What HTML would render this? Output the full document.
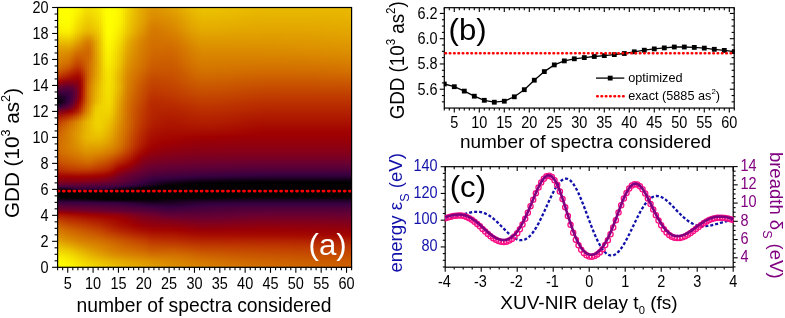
<!DOCTYPE html>
<html><head><meta charset="utf-8"><title>figure</title><style>html,body{margin:0;padding:0;background:#fff}svg{display:block;position:absolute;left:0;top:0}svg text{font-family:"Liberation Sans",Arial,sans-serif}#hm i{position:absolute;top:7px;width:2px;height:261px;display:block}#hm{position:absolute;left:0;top:0;width:352px;height:318px;overflow:hidden}</style></head><body>
<div id="hm"><i style="left:57px;background:linear-gradient(#ffff00 0%,#ffff00 1.9%,#ffff00 3.8%,#fefc00 5.7%,#fbf300 7.7%,#f7e600 9.6%,#f0d200 11.5%,#e9b900 13.4%,#e3a500 15.3%,#dd9400 17.2%,#da8700 19.2%,#d67d00 21.1%,#d26f00 23%,#ca5800 24.9%,#be3700 26.8%,#a40700 28.7%,#6f002d 30.7%,#49003c 32.6%,#1b0020 34.5%,#060007 36.4%,#390040 38.3%,#81001c 40.2%,#ad1700 42.1%,#bf3c00 44.1%,#c75000 46%,#cc5d00 47.9%,#cf6500 49.8%,#d16c00 51.7%,#d26e00 53.6%,#d06900 55.6%,#cc5e00 57.5%,#c85400 58.9%,#c74f00 59.5%,#c44900 60.1%,#c24200 60.6%,#bf3b00 61.2%,#bc3300 61.8%,#b92c00 62.4%,#b42400 62.9%,#af1a00 63.5%,#a80e00 64.1%,#a20400 64.7%,#9b0005 65.2%,#94000b 65.8%,#8c0012 66.4%,#83001a 67%,#760026 67.5%,#670033 68.1%,#520039 68.7%,#2f0037 69.3%,#0c000e 69.8%,#000000 70.4%,#000000 71%,#000000 71.6%,#000000 72.1%,#000000 72.7%,#080009 73.3%,#18001c 73.9%,#2b0033 74.4%,#3b0040 75%,#4a003b 75.6%,#570037 76.2%,#620034 76.7%,#6e002e 77.3%,#7d0020 77.9%,#8e0010 78.5%,#a20400 79%,#ad1700 79.6%,#b42300 80.2%,#ba2e00 80.8%,#bf3a00 81.3%,#c24300 81.8%,#cd6100 83.7%,#d57a00 85.6%,#db8c00 87.6%,#e1a000 89.5%,#e9ba00 91.4%,#f1d500 93.3%,#f8e900 95.2%,#fefb00 97.1%,#ffff00 99.1%,#ffff00 100%)"></i><i style="left:59px;background:linear-gradient(#ffff00 0%,#ffff00 1.9%,#ffff00 3.8%,#fefd00 5.7%,#fcf500 7.7%,#f8eb00 9.6%,#f1d500 11.5%,#e9bb00 13.4%,#e3a500 15.3%,#dd9400 17.2%,#d98700 19.2%,#d67c00 21.1%,#d26d00 23%,#c85300 24.9%,#bb2f00 26.8%,#9f0001 28.7%,#680032 30.7%,#44003d 32.6%,#1d0022 34.5%,#0c000f 36.4%,#3d003f 38.3%,#84001a 40.2%,#af1a00 42.1%,#c24200 44.1%,#c95600 46%,#ce6300 47.9%,#d16a00 49.8%,#d26f00 51.7%,#d37100 53.6%,#d16c00 55.6%,#cd6100 57.5%,#c95600 58.9%,#c75100 59.5%,#c54b00 60.1%,#c34500 60.6%,#c03e00 61.2%,#bd3600 61.8%,#ba2e00 62.4%,#b62700 62.9%,#b01c00 63.5%,#a91000 64.1%,#a20400 64.7%,#9b0004 65.2%,#94000b 65.8%,#8c0012 66.4%,#83001a 67%,#760026 67.5%,#670033 68.1%,#520039 68.7%,#2f0038 69.3%,#0c000e 69.8%,#000000 70.4%,#000000 71%,#000000 71.6%,#000000 72.1%,#000000 72.7%,#080009 73.3%,#18001c 73.9%,#2b0033 74.4%,#3b0040 75%,#4a003b 75.6%,#570037 76.2%,#620034 76.7%,#6d002e 77.3%,#7c0021 77.9%,#8d0011 78.5%,#a20300 79%,#ac1500 79.6%,#b32100 80.2%,#b92c00 80.8%,#be3600 81.3%,#c13f00 81.8%,#cc5d00 83.7%,#d47600 85.6%,#da8900 87.6%,#e09d00 89.5%,#e8b800 91.4%,#f0d300 93.3%,#f7e700 95.2%,#fdf900 97.1%,#fffe00 99.1%,#ffff00 100%)"></i><i style="left:61px;background:linear-gradient(#ffff00 0%,#ffff00 1.9%,#ffff00 3.8%,#fefd00 5.7%,#fcf700 7.7%,#f9ed00 9.6%,#f2d800 11.5%,#eabd00 13.4%,#e3a600 15.3%,#dd9300 17.2%,#d98500 19.2%,#d67a00 21.1%,#d06900 23%,#c64d00 24.9%,#b72900 26.8%,#980008 28.7%,#640034 30.7%,#42003e 32.6%,#210027 34.5%,#150019 36.4%,#43003d 38.3%,#880016 40.2%,#b11f00 42.1%,#c44900 44.1%,#cc5d00 46%,#d06a00 47.9%,#d26f00 49.8%,#d37200 51.7%,#d47400 53.6%,#d26f00 55.6%,#ce6300 57.5%,#ca5900 58.9%,#c85400 59.5%,#c64e00 60.1%,#c44700 60.6%,#c14000 61.2%,#be3900 61.8%,#bb3100 62.4%,#b72900 62.9%,#b01d00 63.5%,#a91100 64.1%,#a30500 64.7%,#9c0004 65.2%,#94000b 65.8%,#8d0012 66.4%,#83001a 67%,#760026 67.5%,#670033 68.1%,#520039 68.7%,#2f0038 69.3%,#0d000f 69.8%,#000000 70.4%,#000000 71%,#000000 71.6%,#000000 72.1%,#000000 72.7%,#070009 73.3%,#18001c 73.9%,#2b0032 74.4%,#3b0040 75%,#49003b 75.6%,#560038 76.2%,#610034 76.7%,#6d002f 77.3%,#7b0022 77.9%,#8c0012 78.5%,#a10100 79%,#ab1300 79.6%,#b11f00 80.2%,#b72900 80.8%,#bc3300 81.3%,#c03c00 81.8%,#ca5900 83.7%,#d47300 85.6%,#d98600 87.6%,#df9a00 89.5%,#e7b500 91.4%,#f0d100 93.3%,#f7e600 95.2%,#fcf700 97.1%,#fefd00 99.1%,#fffe00 100%)"></i><i style="left:63px;background:linear-gradient(#ffff00 0%,#ffff00 1.9%,#ffff00 3.8%,#fefd00 5.7%,#fcf700 7.7%,#f9ee00 9.6%,#f2d900 11.5%,#eabd00 13.4%,#e3a600 15.3%,#dd9200 17.2%,#d88400 19.2%,#d57700 21.1%,#cf6500 23%,#c44700 24.9%,#b42300 26.8%,#92000d 28.7%,#610034 30.7%,#40003e 32.6%,#27002e 34.5%,#1f0025 36.4%,#4b003b 38.3%,#8d0012 40.2%,#b42400 42.1%,#c75000 44.1%,#ce6400 46%,#d37000 47.9%,#d47400 49.8%,#d47600 51.7%,#d57700 53.6%,#d37200 55.6%,#cf6600 57.5%,#cb5b00 58.9%,#c95600 59.5%,#c75000 60.1%,#c54a00 60.6%,#c24300 61.2%,#bf3b00 61.8%,#bc3300 62.4%,#b82b00 62.9%,#b11f00 63.5%,#aa1200 64.1%,#a30600 64.7%,#9c0003 65.2%,#94000b 65.8%,#8d0012 66.4%,#83001a 67%,#760026 67.5%,#670033 68.1%,#520039 68.7%,#300039 69.3%,#0e0010 69.8%,#000000 70.4%,#000000 71%,#000000 71.6%,#000000 72.1%,#000000 72.7%,#070008 73.3%,#17001c 73.9%,#2b0032 74.4%,#3b0040 75%,#49003c 75.6%,#560038 76.2%,#610034 76.7%,#6c002f 77.3%,#7a0022 77.9%,#8b0013 78.5%,#a00000 79%,#a91100 79.6%,#b01d00 80.2%,#b62700 80.8%,#bb3000 81.3%,#be3900 81.8%,#c95600 83.7%,#d37000 85.6%,#d88300 87.6%,#de9700 89.5%,#e7b200 91.4%,#efcf00 93.3%,#f6e400 95.2%,#fcf500 97.1%,#fefc00 99.1%,#fefd00 100%)"></i><i style="left:65px;background:linear-gradient(#ffff00 0%,#ffff00 1.9%,#ffff00 3.8%,#fefd00 5.7%,#fdf800 7.7%,#faef00 9.6%,#f2d900 11.5%,#eabe00 13.4%,#e3a600 15.3%,#dc9100 17.2%,#d88100 19.2%,#d47400 21.1%,#cd6100 23%,#c24100 24.9%,#b11e00 26.8%,#8e0011 28.7%,#600035 30.7%,#40003e 32.6%,#2d0036 34.5%,#2b0032 36.4%,#530039 38.3%,#92000c 40.2%,#b72900 42.1%,#ca5700 44.1%,#d16b00 46%,#d47600 47.9%,#d57900 49.8%,#d57a00 51.7%,#d67a00 53.6%,#d47400 55.6%,#d06800 57.5%,#cc5d00 58.9%,#ca5800 59.5%,#c85200 60.1%,#c54c00 60.6%,#c34500 61.2%,#c03d00 61.8%,#bd3500 62.4%,#b92c00 62.9%,#b22000 63.5%,#aa1300 64.1%,#a30600 64.7%,#9d0003 65.2%,#95000a 65.8%,#8d0012 66.4%,#83001b 67%,#760026 67.5%,#670033 68.1%,#520039 68.7%,#31003a 69.3%,#0f0011 69.8%,#000000 70.4%,#000000 71%,#000000 71.6%,#000000 72.1%,#000000 72.7%,#070008 73.3%,#17001b 73.9%,#2b0032 74.4%,#3b0040 75%,#49003c 75.6%,#550038 76.2%,#600035 76.7%,#6c0030 77.3%,#7a0023 77.9%,#8a0014 78.5%,#9e0002 79%,#a80f00 79.6%,#af1b00 80.2%,#b52500 80.8%,#ba2e00 81.3%,#bd3600 81.8%,#c85300 83.7%,#d26d00 85.6%,#d78000 87.6%,#dd9400 89.5%,#e6b000 91.4%,#eecd00 93.3%,#f5e200 95.2%,#fbf200 97.1%,#fdfa00 99.1%,#fefc00 100%)"></i><i style="left:67px;background:linear-gradient(#ffff00 0%,#ffff00 1.9%,#ffff00 3.8%,#fefd00 5.7%,#fdf800 7.7%,#faef00 9.6%,#f2d900 11.5%,#eabe00 13.4%,#e3a600 15.3%,#dc8f00 17.2%,#d77f00 19.2%,#d37100 21.1%,#cb5c00 23%,#bf3b00 24.9%,#ae1900 26.8%,#8d0012 28.7%,#5f0035 30.7%,#40003e 32.6%,#35003e 34.5%,#370041 36.4%,#5c0036 38.3%,#980007 40.2%,#ba2f00 42.1%,#cd5f00 44.1%,#d37200 46%,#d67b00 47.9%,#d77e00 49.8%,#d77e00 51.7%,#d77d00 53.6%,#d57700 55.6%,#d16b00 57.5%,#cd5f00 58.9%,#cb5a00 59.5%,#c95400 60.1%,#c64e00 60.6%,#c44700 61.2%,#c13f00 61.8%,#be3700 62.4%,#b92d00 62.9%,#b32100 63.5%,#ab1300 64.1%,#a40700 64.7%,#9d0003 65.2%,#95000a 65.8%,#8d0011 66.4%,#83001b 67%,#760026 67.5%,#670033 68.1%,#520039 68.7%,#32003b 69.3%,#100013 69.8%,#000000 70.4%,#000000 71%,#000000 71.6%,#000000 72.1%,#000000 72.7%,#060008 73.3%,#17001b 73.9%,#2b0032 74.4%,#3b0040 75%,#48003c 75.6%,#550038 76.2%,#600035 76.7%,#6b0030 77.3%,#790024 77.9%,#880015 78.5%,#9c0003 79%,#a70d00 79.6%,#ae1900 80.2%,#b42300 80.8%,#b92c00 81.3%,#bc3300 81.8%,#c75000 83.7%,#d16a00 85.6%,#d77d00 87.6%,#dd9100 89.5%,#e5ad00 91.4%,#eeca00 93.3%,#f4df00 95.2%,#faef00 97.1%,#fdf900 99.1%,#fdfa00 100%)"></i><i style="left:69px;background:linear-gradient(#fffe00 0%,#fffe00 1.9%,#fefd00 3.8%,#fefb00 5.7%,#fcf500 7.7%,#f9ec00 9.6%,#f1d600 11.5%,#e9bb00 13.4%,#e2a300 15.3%,#db8b00 17.2%,#d67a00 19.2%,#d16b00 21.1%,#c95500 23%,#bd3400 24.9%,#ab1400 26.8%,#8d0011 28.7%,#610034 30.7%,#44003d 32.6%,#3e003f 34.5%,#45003d 36.4%,#680032 38.3%,#a00000 40.2%,#bd3600 42.1%,#d06800 44.1%,#d57800 46%,#d88100 47.9%,#d88300 49.8%,#d88200 51.7%,#d88100 53.6%,#d67a00 55.6%,#d26d00 57.5%,#cd6100 58.9%,#cb5c00 59.5%,#c95600 60.1%,#c75000 60.6%,#c44900 61.2%,#c14100 61.8%,#be3800 62.4%,#ba2f00 62.9%,#b32200 63.5%,#ab1400 64.1%,#a40700 64.7%,#9e0002 65.2%,#95000a 65.8%,#8d0011 66.4%,#83001b 67%,#760026 67.5%,#660033 68.1%,#530039 68.7%,#35003e 69.3%,#140018 69.8%,#010001 70.4%,#000000 71%,#000000 71.6%,#000000 72.1%,#000000 72.7%,#060007 73.3%,#16001b 73.9%,#2b0032 74.4%,#3b0040 75%,#48003c 75.6%,#540038 76.2%,#5f0035 76.7%,#6b0031 77.3%,#780024 77.9%,#870017 78.5%,#9b0005 79%,#a70c00 79.6%,#ad1700 80.2%,#b32100 80.8%,#b82a00 81.3%,#bb3100 81.8%,#c64e00 83.7%,#cf6700 85.6%,#d67a00 87.6%,#dc8e00 89.5%,#e4a900 91.4%,#edc700 93.3%,#f3dc00 95.2%,#f9ec00 97.1%,#fcf600 99.1%,#fdf800 100%)"></i><i style="left:71px;background:linear-gradient(#fefd00 0%,#fefb00 1.9%,#fdf900 3.8%,#fcf600 5.7%,#faef00 7.7%,#f6e500 9.6%,#f0d000 11.5%,#e7b500 13.4%,#e09d00 15.3%,#d98500 17.2%,#d37200 19.2%,#cd6100 21.1%,#c54b00 23%,#b92c00 24.9%,#a90f00 26.8%,#8d0011 28.7%,#660033 30.7%,#4d003a 32.6%,#4a003b 34.5%,#550038 36.4%,#760026 38.3%,#a50800 40.2%,#c03e00 42.1%,#d37100 44.1%,#d77f00 46%,#da8800 47.9%,#da8900 49.8%,#da8700 51.7%,#d98500 53.6%,#d67d00 55.6%,#d26f00 57.5%,#ce6300 58.9%,#cc5e00 59.5%,#ca5800 60.1%,#c85100 60.6%,#c54a00 61.2%,#c24300 61.8%,#bf3a00 62.4%,#bb3000 62.9%,#b42300 63.5%,#ac1500 64.1%,#a50800 64.7%,#9e0002 65.2%,#960009 65.8%,#8d0011 66.4%,#83001b 67%,#750027 67.5%,#660033 68.1%,#530039 68.7%,#390040 69.3%,#1c0021 69.8%,#020002 70.4%,#000000 71%,#000000 71.6%,#000000 72.1%,#000000 72.7%,#060007 73.3%,#16001a 73.9%,#2a0032 74.4%,#3b0040 75%,#48003c 75.6%,#540038 76.2%,#5f0035 76.7%,#6a0031 77.3%,#770025 77.9%,#860018 78.5%,#990006 79%,#a60a00 79.6%,#ac1600 80.2%,#b22000 80.8%,#b72900 81.3%,#bb2f00 81.8%,#c54b00 83.7%,#cf6400 85.6%,#d57800 87.6%,#db8b00 89.5%,#e3a600 91.4%,#ebc300 93.3%,#f2d900 95.2%,#f8e900 97.1%,#fbf400 99.1%,#fcf600 100%)"></i><i style="left:73px;background:linear-gradient(#fefb00 0%,#fdf800 1.9%,#fbf400 3.8%,#faef00 5.7%,#f7e800 7.7%,#f4dd00 9.6%,#edc800 11.5%,#e5ae00 13.4%,#de9500 15.3%,#d67d00 17.2%,#d06900 19.2%,#ca5800 21.1%,#c24200 23%,#b52600 24.9%,#a60b00 26.8%,#8e0010 28.7%,#6d002e 30.7%,#5b0036 32.6%,#5a0037 34.5%,#670033 36.4%,#870016 38.3%,#aa1200 40.2%,#c44800 42.1%,#d57900 44.1%,#d98600 46%,#dc8e00 47.9%,#dc8f00 49.8%,#db8d00 51.7%,#da8900 53.6%,#d77f00 55.6%,#d37100 57.5%,#cf6500 58.9%,#cd5f00 59.5%,#ca5900 60.1%,#c85300 60.6%,#c54c00 61.2%,#c34400 61.8%,#bf3b00 62.4%,#bb3100 62.9%,#b42400 63.5%,#ac1600 64.1%,#a50900 64.7%,#9f0001 65.2%,#960009 65.8%,#8d0011 66.4%,#83001b 67%,#750027 67.5%,#650033 68.1%,#530038 68.7%,#3e003f 69.3%,#24002b 69.8%,#030003 70.4%,#000000 71%,#000000 71.6%,#000000 72.1%,#000000 72.7%,#050006 73.3%,#16001a 73.9%,#2a0032 74.4%,#3b0040 75%,#47003c 75.6%,#530038 76.2%,#5e0035 76.7%,#6a0031 77.3%,#760026 77.9%,#850019 78.5%,#980007 79%,#a50900 79.6%,#ab1400 80.2%,#b11e00 80.8%,#b62700 81.3%,#ba2e00 81.8%,#c54900 83.7%,#ce6200 85.6%,#d47500 87.6%,#da8800 89.5%,#e2a200 91.4%,#eabf00 93.3%,#f1d500 95.2%,#f7e600 97.1%,#faf000 99.1%,#fbf300 100%)"></i><i style="left:75px;background:linear-gradient(#fdf800 0%,#fbf400 1.9%,#f9ee00 3.8%,#f7e800 5.7%,#f5e000 7.7%,#f1d500 9.6%,#eabf00 11.5%,#e3a600 13.4%,#dc8e00 15.3%,#d47600 17.2%,#cd6100 19.2%,#c75000 21.1%,#bf3b00 23%,#b22100 24.9%,#a50800 26.8%,#8f000f 28.7%,#760026 30.7%,#6a0031 32.6%,#6b0030 34.5%,#7c0021 36.4%,#9a0006 38.3%,#b01d00 40.2%,#c85200 42.1%,#d88200 44.1%,#db8d00 46%,#dd9400 47.9%,#de9500 49.8%,#dd9200 51.7%,#db8d00 53.6%,#d88200 55.6%,#d47400 57.5%,#cf6700 58.9%,#cd6100 59.5%,#cb5b00 60.1%,#c95400 60.6%,#c64d00 61.2%,#c34500 61.8%,#c03c00 62.4%,#bc3200 62.9%,#b52500 63.5%,#ad1700 64.1%,#a50900 64.7%,#9f0001 65.2%,#960009 65.8%,#8e0011 66.4%,#83001b 67%,#750027 67.5%,#640033 68.1%,#540038 68.7%,#42003e 69.3%,#2b0033 69.8%,#040005 70.4%,#000000 71%,#000000 71.6%,#000000 72.1%,#000000 72.7%,#040005 73.3%,#150019 73.9%,#2a0032 74.4%,#3b0040 75%,#47003c 75.6%,#530039 76.2%,#5e0035 76.7%,#690032 77.3%,#760027 77.9%,#84001a 78.5%,#970008 79%,#a40700 79.6%,#aa1300 80.2%,#b01c00 80.8%,#b52500 81.3%,#b92c00 81.8%,#c44700 83.7%,#cd5f00 85.6%,#d37300 87.6%,#d98500 89.5%,#e19f00 91.4%,#e9ba00 93.3%,#f0d100 95.2%,#f5e200 97.1%,#f9ed00 99.1%,#faf000 100%)"></i><i style="left:77px;background:linear-gradient(#fcf600 0%,#faf000 1.9%,#f8ea00 3.8%,#f5e200 5.7%,#f3da00 7.7%,#efce00 9.6%,#e8b800 11.5%,#e19f00 13.4%,#da8800 15.3%,#d37200 17.2%,#cc5e00 19.2%,#c64e00 21.1%,#bf3900 23%,#b11f00 24.9%,#a40700 26.8%,#91000e 28.7%,#81001c 30.7%,#7c0021 32.6%,#7f001e 34.5%,#92000d 36.4%,#a70c00 38.3%,#b72900 40.2%,#cc5e00 42.1%,#da8a00 44.1%,#de9400 46%,#df9a00 47.9%,#e09b00 49.8%,#de9700 51.7%,#dc9000 53.6%,#d98500 55.6%,#d47600 57.5%,#d06900 58.9%,#ce6300 59.5%,#cc5c00 60.1%,#c95600 60.6%,#c64e00 61.2%,#c34600 61.8%,#c03d00 62.4%,#bc3200 62.9%,#b52500 63.5%,#ad1700 64.1%,#a50900 64.7%,#9f0001 65.2%,#960009 65.8%,#8e0011 66.4%,#83001b 67%,#740028 67.5%,#640034 68.1%,#540038 68.7%,#43003d 69.3%,#2d0036 69.8%,#050006 70.4%,#000000 71%,#000000 71.6%,#000000 72.1%,#000000 72.7%,#040005 73.3%,#140018 73.9%,#2a0032 74.4%,#3b0040 75%,#47003c 75.6%,#520039 76.2%,#5d0035 76.7%,#680032 77.3%,#750027 77.9%,#83001b 78.5%,#95000a 79%,#a30600 79.6%,#aa1100 80.2%,#af1b00 80.8%,#b42400 81.3%,#b82a00 81.8%,#c34500 83.7%,#cc5d00 85.6%,#d37000 87.6%,#d88200 89.5%,#e09b00 91.4%,#e8b600 93.3%,#eecd00 95.2%,#f4df00 97.1%,#f8ea00 99.1%,#f9ed00 100%)"></i><i style="left:79px;background:linear-gradient(#fbf200 0%,#f9ec00 1.9%,#f6e400 3.8%,#f4dd00 5.7%,#f1d400 7.7%,#edc800 9.6%,#e6b100 11.5%,#df9800 13.4%,#d88200 15.3%,#d26f00 17.2%,#cc5f00 19.2%,#c74f00 21.1%,#c03c00 23%,#b42400 24.9%,#a80e00 26.8%,#9c0004 28.7%,#94000b 30.7%,#93000c 32.6%,#980007 34.5%,#a50900 36.4%,#b22000 38.3%,#bf3900 40.2%,#d16c00 42.1%,#dd9300 44.1%,#e09c00 46%,#e1a100 47.9%,#e1a200 49.8%,#e09c00 51.7%,#de9500 53.6%,#da8800 55.6%,#d57800 57.5%,#d16b00 58.9%,#cf6500 59.5%,#cc5e00 60.1%,#ca5700 60.6%,#c74f00 61.2%,#c44700 61.8%,#c03d00 62.4%,#bc3200 62.9%,#b52500 63.5%,#ad1700 64.1%,#a50900 64.7%,#9f0001 65.2%,#960009 65.8%,#8d0011 66.4%,#82001b 67%,#740028 67.5%,#630034 68.1%,#540038 68.7%,#43003d 69.3%,#2d0035 69.8%,#050006 70.4%,#000000 71%,#000000 71.6%,#000000 72.1%,#000000 72.7%,#030004 73.3%,#140017 73.9%,#2a0031 74.4%,#3a0040 75%,#46003c 75.6%,#520039 76.2%,#5d0036 76.7%,#680032 77.3%,#740028 77.9%,#82001c 78.5%,#94000b 79%,#a30400 79.6%,#a90f00 80.2%,#ae1900 80.8%,#b32200 81.3%,#b72900 81.8%,#c24300 83.7%,#cb5b00 85.6%,#d26e00 87.6%,#d78000 89.5%,#df9800 91.4%,#e7b300 93.3%,#edc900 95.2%,#f3db00 97.1%,#f7e700 99.1%,#f8ea00 100%)"></i><i style="left:81px;background:linear-gradient(#f9ec00 0%,#f7e600 1.9%,#f4df00 3.8%,#f2d700 5.7%,#efce00 7.7%,#ebc100 9.6%,#e3a800 11.5%,#dc8f00 13.4%,#d67c00 15.3%,#d16d00 17.2%,#cd6000 19.2%,#c85300 21.1%,#c34400 23%,#ba2f00 24.9%,#b11e00 26.8%,#aa1200 28.7%,#a90f00 30.7%,#aa1100 32.6%,#ac1500 34.5%,#b42300 36.4%,#be3700 38.3%,#c75000 40.2%,#d67b00 42.1%,#e09e00 44.1%,#e2a400 46%,#e3a700 47.9%,#e4a800 49.8%,#e2a200 51.7%,#df9900 53.6%,#db8c00 55.6%,#d67b00 57.5%,#d26d00 58.9%,#cf6700 59.5%,#cd6000 60.1%,#ca5800 60.6%,#c75000 61.2%,#c44700 61.8%,#c03d00 62.4%,#bc3200 62.9%,#b52500 63.5%,#ad1600 64.1%,#a50900 64.7%,#9f0001 65.2%,#960009 65.8%,#8d0011 66.4%,#82001b 67%,#730029 67.5%,#630034 68.1%,#530039 68.7%,#42003e 69.3%,#2d0035 69.8%,#060007 70.4%,#000000 71%,#000000 71.6%,#000000 72.1%,#000000 72.7%,#020003 73.3%,#120016 73.9%,#290030 74.4%,#3a0040 75%,#46003c 75.6%,#510039 76.2%,#5c0036 76.7%,#670033 77.3%,#720029 77.9%,#80001d 78.5%,#92000c 79%,#a20300 79.6%,#a80e00 80.2%,#ad1700 80.8%,#b22000 81.3%,#b62700 81.8%,#c14000 83.7%,#ca5800 85.6%,#d16c00 87.6%,#d77e00 89.5%,#de9600 91.4%,#e5af00 93.3%,#ecc500 95.2%,#f2d800 97.1%,#f6e400 99.1%,#f7e800 100%)"></i><i style="left:83px;background:linear-gradient(#f7e600 0%,#f5e000 1.9%,#f2d900 3.8%,#f0d200 5.7%,#edc800 7.7%,#e9bb00 9.6%,#e1a100 11.5%,#da8800 13.4%,#d57700 15.3%,#d16a00 17.2%,#ce6200 19.2%,#ca5900 21.1%,#c74f00 23%,#c14000 24.9%,#bc3200 26.8%,#b92d00 28.7%,#ba2e00 30.7%,#bb3000 32.6%,#bd3400 34.5%,#c13f00 36.4%,#c85300 38.3%,#d06900 40.2%,#da8a00 42.1%,#e3a800 44.1%,#e4ac00 46%,#e5ae00 47.9%,#e6af00 49.8%,#e3a800 51.7%,#e09d00 53.6%,#dc8f00 55.6%,#d77d00 57.5%,#d26f00 58.9%,#d06900 59.5%,#cd6100 60.1%,#ca5900 60.6%,#c75100 61.2%,#c44800 61.8%,#c03d00 62.4%,#bc3200 62.9%,#b52500 63.5%,#ac1600 64.1%,#a50800 64.7%,#9e0002 65.2%,#95000a 65.8%,#8c0012 66.4%,#81001c 67%,#730029 67.5%,#620034 68.1%,#530039 68.7%,#41003e 69.3%,#2c0034 69.8%,#070008 70.4%,#000000 71%,#000000 71.6%,#000000 72.1%,#000000 72.7%,#020002 73.3%,#110014 73.9%,#28002f 74.4%,#390040 75%,#46003d 75.6%,#510039 76.2%,#5b0036 76.7%,#650033 77.3%,#71002a 77.9%,#7f001e 78.5%,#91000e 79%,#a10100 79.6%,#a70c00 80.2%,#ac1600 80.8%,#b11e00 81.3%,#b52500 81.8%,#c03e00 83.7%,#c95600 85.6%,#d06a00 87.6%,#d67c00 89.5%,#dd9300 91.4%,#e4ab00 93.3%,#ebc100 95.2%,#f1d400 97.1%,#f5e100 99.1%,#f6e500 100%)"></i><i style="left:85px;background:linear-gradient(#f5e100 0%,#f3dc00 1.9%,#f1d500 3.8%,#efcd00 5.7%,#ecc400 7.7%,#e8b700 9.6%,#df9b00 11.5%,#d88200 13.4%,#d37300 15.3%,#d06900 17.2%,#cf6500 19.2%,#cd6000 21.1%,#cb5c00 23%,#c85300 24.9%,#c64c00 26.8%,#c64d00 28.7%,#c75100 30.7%,#c85300 32.6%,#c95600 34.5%,#cc5d00 36.4%,#d26f00 38.3%,#d77d00 40.2%,#df9900 42.1%,#e6b100 44.1%,#e7b300 46%,#e7b400 47.9%,#e7b500 49.8%,#e5ac00 51.7%,#e1a000 53.6%,#dd9100 55.6%,#d77f00 57.5%,#d37100 58.9%,#d16a00 59.5%,#ce6200 60.1%,#cb5a00 60.6%,#c85200 61.2%,#c44800 61.8%,#c03e00 62.4%,#bc3200 62.9%,#b42400 63.5%,#ac1500 64.1%,#a40800 64.7%,#9d0003 65.2%,#94000b 65.8%,#8c0013 66.4%,#81001d 67%,#72002a 67.5%,#620034 68.1%,#520039 68.7%,#41003e 69.3%,#2b0033 69.8%,#070008 70.4%,#000000 71%,#000000 71.6%,#000000 72.1%,#000000 72.7%,#010001 73.3%,#0f0012 73.9%,#27002e 74.4%,#390040 75%,#45003d 75.6%,#500039 76.2%,#5a0036 76.7%,#640033 77.3%,#70002b 77.9%,#7e001f 78.5%,#90000f 79%,#a00000 79.6%,#a60b00 80.2%,#ab1400 80.8%,#b01d00 81.3%,#b42300 81.8%,#c03c00 83.7%,#c85400 85.6%,#d06800 87.6%,#d67a00 89.5%,#dc9000 91.4%,#e3a700 93.3%,#eabd00 95.2%,#f0d100 97.1%,#f4df00 99.1%,#f5e200 100%)"></i><i style="left:87px;background:linear-gradient(#f5e000 0%,#f3da00 1.9%,#f0d300 3.8%,#eecb00 5.7%,#ebc200 7.7%,#e7b500 9.6%,#df9900 11.5%,#d77f00 13.4%,#d37100 15.3%,#d06800 17.2%,#d06800 19.2%,#d06800 21.1%,#d06800 23%,#ce6400 24.9%,#ce6200 26.8%,#cf6700 28.7%,#d26d00 30.7%,#d26f00 32.6%,#d37100 34.5%,#d47500 36.4%,#d88200 38.3%,#dc8f00 40.2%,#e2a500 42.1%,#e8b800 44.1%,#e8b900 46%,#e8b900 47.9%,#e8b800 49.8%,#e5af00 51.7%,#e1a100 53.6%,#dd9200 55.6%,#d78000 57.5%,#d37100 58.9%,#d16b00 59.5%,#ce6300 60.1%,#cb5b00 60.6%,#c85200 61.2%,#c44800 61.8%,#c03e00 62.4%,#bc3100 62.9%,#b42400 63.5%,#ac1500 64.1%,#a40700 64.7%,#9c0003 65.2%,#94000b 65.8%,#8b0013 66.4%,#80001d 67%,#71002a 67.5%,#610034 68.1%,#510039 68.7%,#40003e 69.3%,#2a0032 69.8%,#080009 70.4%,#000000 71%,#000000 71.6%,#000000 72.1%,#000000 72.7%,#000001 73.3%,#0e0010 73.9%,#26002d 74.4%,#380041 75%,#45003d 75.6%,#50003a 76.2%,#5a0037 76.7%,#640034 77.3%,#6f002c 77.9%,#7d0020 78.5%,#8e0010 79%,#9f0001 79.6%,#a50900 80.2%,#aa1200 80.8%,#af1b00 81.3%,#b32100 81.8%,#bf3900 83.7%,#c75100 85.6%,#cf6500 87.6%,#d57900 89.5%,#db8e00 91.4%,#e2a400 93.3%,#e9b900 95.2%,#efcd00 97.1%,#f3dc00 99.1%,#f5e000 100%)"></i><i style="left:89px;background:linear-gradient(#f5e000 0%,#f3db00 1.9%,#f1d400 3.8%,#eecc00 5.7%,#ecc300 7.7%,#e8b600 9.6%,#df9b00 11.5%,#d88300 13.4%,#d47600 15.3%,#d26e00 17.2%,#d26f00 19.2%,#d37200 21.1%,#d47400 23%,#d47300 24.9%,#d47300 26.8%,#d57900 28.7%,#d77f00 30.7%,#d88200 32.6%,#d88400 34.5%,#da8700 36.4%,#de9500 38.3%,#e19f00 40.2%,#e6b000 42.1%,#eabf00 44.1%,#eabf00 46%,#eabd00 47.9%,#e9bb00 49.8%,#e6b000 51.7%,#e1a100 53.6%,#dd9200 55.6%,#d77f00 57.5%,#d37100 58.9%,#d06a00 59.5%,#ce6200 60.1%,#cb5a00 60.6%,#c75100 61.2%,#c44700 61.8%,#c03d00 62.4%,#bb3100 62.9%,#b42300 63.5%,#ab1400 64.1%,#a40600 64.7%,#9c0004 65.2%,#93000c 65.8%,#8a0014 66.4%,#7f001e 67%,#71002b 67.5%,#610035 68.1%,#500039 68.7%,#3f003f 69.3%,#2a0032 69.8%,#080009 70.4%,#000000 71%,#000000 71.6%,#000000 72.1%,#000000 72.7%,#000000 73.3%,#0c000f 73.9%,#25002b 74.4%,#380041 75%,#44003d 75.6%,#4f003a 76.2%,#590037 76.7%,#630034 77.3%,#6e002d 77.9%,#7c0021 78.5%,#8d0011 79%,#9d0002 79.6%,#a40800 80.2%,#aa1100 80.8%,#ae1a00 81.3%,#b22000 81.8%,#be3700 83.7%,#c74f00 85.6%,#ce6400 87.6%,#d57700 89.5%,#db8b00 91.4%,#e1a100 93.3%,#e7b500 95.2%,#eeca00 97.1%,#f2d900 99.1%,#f4dd00 100%)"></i><i style="left:91px;background:linear-gradient(#f5e100 0%,#f3dc00 1.9%,#f1d600 3.8%,#efcf00 5.7%,#ecc600 7.7%,#e9ba00 9.6%,#e1a100 11.5%,#db8c00 13.4%,#d88100 15.3%,#d67b00 17.2%,#d67c00 19.2%,#d77e00 21.1%,#d78000 23%,#d88100 24.9%,#d88200 26.8%,#da8900 28.7%,#dc9000 30.7%,#dd9300 32.6%,#de9500 34.5%,#df9900 36.4%,#e3a700 38.3%,#e6b100 40.2%,#e9bc00 42.1%,#ecc600 44.1%,#ecc500 46%,#ebc100 47.9%,#eabd00 49.8%,#e6b100 51.7%,#e1a100 53.6%,#dd9100 55.6%,#d77e00 57.5%,#d26f00 58.9%,#d06700 59.5%,#cd6000 60.1%,#ca5800 60.6%,#c74f00 61.2%,#c34500 61.8%,#bf3b00 62.4%,#ba2f00 62.9%,#b32200 63.5%,#ab1300 64.1%,#a30500 64.7%,#9b0005 65.2%,#92000d 65.8%,#890015 66.4%,#7e001f 67%,#70002c 67.5%,#600035 68.1%,#4f003a 68.7%,#3e003f 69.3%,#290031 69.8%,#08000a 70.4%,#000000 71%,#000000 71.6%,#000000 72.1%,#000000 72.7%,#000000 73.3%,#0b000d 73.9%,#24002a 74.4%,#370041 75%,#44003d 75.6%,#4f003a 76.2%,#590037 76.7%,#630034 77.3%,#6d002e 77.9%,#7b0022 78.5%,#8c0012 79%,#9c0003 79.6%,#a40700 80.2%,#a91000 80.8%,#ae1800 81.3%,#b11e00 81.8%,#bd3500 83.7%,#c64d00 85.6%,#ce6200 87.6%,#d47500 89.5%,#da8900 91.4%,#e09d00 93.3%,#e6b200 95.2%,#edc800 97.1%,#f2d700 99.1%,#f3da00 100%)"></i><i style="left:93px;background:linear-gradient(#f6e300 0%,#f4df00 1.9%,#f2d900 3.8%,#f0d200 5.7%,#eeca00 7.7%,#eabe00 9.6%,#e4aa00 11.5%,#df9900 13.4%,#dc9100 15.3%,#db8c00 17.2%,#db8c00 19.2%,#db8c00 21.1%,#dc8e00 23%,#dc8f00 24.9%,#dc9100 26.8%,#df9800 28.7%,#e19f00 30.7%,#e2a200 32.6%,#e2a400 34.5%,#e4a800 36.4%,#e8b800 38.3%,#ebc100 40.2%,#edc700 42.1%,#eecc00 44.1%,#eeca00 46%,#ecc500 47.9%,#eabe00 49.8%,#e6b100 51.7%,#e1a100 53.6%,#dc9000 55.6%,#d67c00 57.5%,#d16c00 58.9%,#ce6400 59.5%,#cc5c00 60.1%,#c95400 60.6%,#c54c00 61.2%,#c24200 61.8%,#be3800 62.4%,#b92d00 62.9%,#b22000 63.5%,#aa1200 64.1%,#a20400 64.7%,#9a0006 65.2%,#91000e 65.8%,#880016 66.4%,#7d0020 67%,#6e002d 67.5%,#5e0035 68.1%,#4e003a 68.7%,#3e003f 69.3%,#290030 69.8%,#08000a 70.4%,#000000 71%,#000000 71.6%,#000000 72.1%,#000000 72.7%,#000000 73.3%,#0a000b 73.9%,#230029 74.4%,#370041 75%,#43003d 75.6%,#4e003a 76.2%,#580037 76.7%,#620034 77.3%,#6d002f 77.9%,#7a0023 78.5%,#8b0013 79%,#9b0004 79.6%,#a30600 80.2%,#a80f00 80.8%,#ad1700 81.3%,#b01d00 81.8%,#bc3300 83.7%,#c54b00 85.6%,#cd6000 87.6%,#d47400 89.5%,#d98700 91.4%,#df9a00 93.3%,#e5af00 95.2%,#ecc600 97.1%,#f1d400 99.1%,#f2d700 100%)"></i><i style="left:95px;background:linear-gradient(#f7e600 0%,#f5e200 1.9%,#f3dc00 3.8%,#f1d600 5.7%,#efce00 7.7%,#ecc400 9.6%,#e7b400 11.5%,#e3a800 13.4%,#e2a200 15.3%,#e09e00 17.2%,#e09d00 19.2%,#e09b00 21.1%,#e09c00 23%,#e09d00 24.9%,#e19f00 26.8%,#e3a500 28.7%,#e5ac00 30.7%,#e5af00 32.6%,#e6b100 34.5%,#e8b600 36.4%,#ecc500 38.3%,#eecd00 40.2%,#efcf00 42.1%,#efd000 44.1%,#efce00 46%,#edc800 47.9%,#eabf00 49.8%,#e6b200 51.7%,#e1a100 53.6%,#dc8e00 55.6%,#d57900 57.5%,#d06800 58.9%,#cd6100 59.5%,#ca5900 60.1%,#c75100 60.6%,#c44800 61.2%,#c13f00 61.8%,#bd3500 62.4%,#b82a00 62.9%,#b11e00 63.5%,#a91000 64.1%,#a20300 64.7%,#990007 65.2%,#90000f 65.8%,#870017 66.4%,#7c0021 67%,#6d002e 67.5%,#5d0035 68.1%,#4d003a 68.7%,#3d003f 69.3%,#280030 69.8%,#09000a 70.4%,#000000 71%,#000000 71.6%,#000000 72.1%,#000000 72.7%,#000000 73.3%,#08000a 73.9%,#220028 74.4%,#360040 75%,#43003d 75.6%,#4e003a 76.2%,#580037 76.7%,#620034 77.3%,#6c002f 77.9%,#790024 78.5%,#8a0014 79%,#9a0005 79.6%,#a30500 80.2%,#a80e00 80.8%,#ac1600 81.3%,#af1c00 81.8%,#bb3100 83.7%,#c44800 85.6%,#cc5e00 87.6%,#d37300 89.5%,#d98500 91.4%,#de9700 93.3%,#e4ac00 95.2%,#ecc300 97.1%,#f0d200 99.1%,#f1d500 100%)"></i><i style="left:97px;background:linear-gradient(#f7e800 0%,#f6e500 1.9%,#f5e000 3.8%,#f3da00 5.7%,#f0d300 7.7%,#eeca00 9.6%,#eabf00 11.5%,#e7b500 13.4%,#e6b100 15.3%,#e5ae00 17.2%,#e5ac00 19.2%,#e4aa00 21.1%,#e4a900 23%,#e4aa00 24.9%,#e5ac00 26.8%,#e6b200 28.7%,#e8b800 30.7%,#e9ba00 32.6%,#e9bc00 34.5%,#ebc000 36.4%,#eecd00 38.3%,#f0d200 40.2%,#f0d200 42.1%,#f0d200 44.1%,#efd000 46%,#edc900 47.9%,#ebc000 49.8%,#e6b200 51.7%,#e1a100 53.6%,#db8d00 55.6%,#d57700 57.5%,#cf6500 58.9%,#cc5d00 59.5%,#c95600 60.1%,#c64d00 60.6%,#c34500 61.2%,#c03c00 61.8%,#bc3200 62.4%,#b62800 62.9%,#b01c00 63.5%,#a80e00 64.1%,#a10200 64.7%,#970008 65.2%,#8e0010 65.8%,#850018 66.4%,#7a0022 67%,#6c002f 67.5%,#5c0036 68.1%,#4c003b 68.7%,#3c0040 69.3%,#28002f 69.8%,#09000a 70.4%,#000000 71%,#000000 71.6%,#000000 72.1%,#000000 72.7%,#000000 73.3%,#070008 73.9%,#210027 74.4%,#360040 75%,#42003e 75.6%,#4d003a 76.2%,#570037 76.7%,#610034 77.3%,#6b0030 77.9%,#770025 78.5%,#890015 79%,#990006 79.6%,#a20400 80.2%,#a70c00 80.8%,#ab1400 81.3%,#af1a00 81.8%,#ba2f00 83.7%,#c34600 85.6%,#cb5c00 87.6%,#d37100 89.5%,#d88200 91.4%,#dd9400 93.3%,#e4a800 95.2%,#ebc100 97.1%,#efcf00 99.1%,#f0d200 100%)"></i><i style="left:99px;background:linear-gradient(#f9ec00 0%,#f8e900 1.9%,#f6e500 3.8%,#f5e000 5.7%,#f3da00 7.7%,#f1d400 9.6%,#eecb00 11.5%,#ecc400 13.4%,#ebc100 15.3%,#eabe00 17.2%,#e9bb00 19.2%,#e8b900 21.1%,#e8b800 23%,#e8b800 24.9%,#e9b900 26.8%,#eabe00 28.7%,#ebc200 30.7%,#ecc400 32.6%,#ecc500 34.5%,#edc800 36.4%,#efd000 38.3%,#f0d200 40.2%,#f0d200 42.1%,#f0d100 44.1%,#efcf00 46%,#edc800 47.9%,#eabf00 49.8%,#e6b100 51.7%,#e1a000 53.6%,#db8b00 55.6%,#d47400 57.5%,#ce6200 58.9%,#cb5a00 59.5%,#c85200 60.1%,#c54a00 60.6%,#c24200 61.2%,#be3900 61.8%,#ba2f00 62.4%,#b52600 62.9%,#ae1a00 63.5%,#a70d00 64.1%,#a00000 64.7%,#960009 65.2%,#8d0011 65.8%,#84001a 66.4%,#790024 67%,#6a0031 67.5%,#5b0036 68.1%,#4c003b 68.7%,#3b0040 69.3%,#27002e 69.8%,#09000a 70.4%,#000000 71%,#000000 71.6%,#000000 72.1%,#000000 72.7%,#000000 73.3%,#060007 73.9%,#200026 74.4%,#35003f 75%,#42003e 75.6%,#4d003a 76.2%,#570037 76.7%,#600035 77.3%,#6a0031 77.9%,#760026 78.5%,#880016 79%,#980007 79.6%,#a10300 80.2%,#a60b00 80.8%,#aa1300 81.3%,#ae1800 81.8%,#b92c00 83.7%,#c24300 85.6%,#cb5a00 87.6%,#d26f00 89.5%,#d78000 91.4%,#dc9100 93.3%,#e3a500 95.2%,#eabe00 97.1%,#efcd00 99.1%,#efd000 100%)"></i><i style="left:101px;background:linear-gradient(#fbf200 0%,#faf000 1.9%,#f9ed00 3.8%,#f8e900 5.7%,#f6e500 7.7%,#f5e000 9.6%,#f3db00 11.5%,#f1d600 13.4%,#f0d300 15.3%,#f0d000 17.2%,#efcd00 19.2%,#eeca00 21.1%,#edc800 23%,#edc700 24.9%,#edc800 26.8%,#eeca00 28.7%,#efcd00 30.7%,#efce00 32.6%,#efce00 34.5%,#efcf00 36.4%,#f0d300 38.3%,#f0d200 40.2%,#f0d100 42.1%,#efcf00 44.1%,#eecc00 46%,#ecc500 47.9%,#e9bc00 49.8%,#e5ae00 51.7%,#e09d00 53.6%,#da8900 55.6%,#d37200 57.5%,#cc5f00 58.9%,#ca5700 59.5%,#c74f00 60.1%,#c44700 60.6%,#c13f00 61.2%,#bd3600 61.8%,#b92d00 62.4%,#b42300 62.9%,#ad1700 63.5%,#a60b00 64.1%,#9f0001 64.7%,#94000b 65.2%,#8b0013 65.8%,#82001b 66.4%,#770025 67%,#690032 67.5%,#5a0036 68.1%,#4b003b 68.7%,#3a0040 69.3%,#26002d 69.8%,#08000a 70.4%,#000000 71%,#000000 71.6%,#000000 72.1%,#000000 72.7%,#000000 73.3%,#050006 73.9%,#1f0025 74.4%,#35003f 75%,#41003e 75.6%,#4c003b 76.2%,#560038 76.7%,#5f0035 77.3%,#690032 77.9%,#750027 78.5%,#870017 79%,#970008 79.6%,#a10100 80.2%,#a50a00 80.8%,#a91100 81.3%,#ac1600 81.8%,#b72900 83.7%,#c14000 85.6%,#ca5700 87.6%,#d26d00 89.5%,#d77e00 91.4%,#dc8e00 93.3%,#e2a200 95.2%,#e9bb00 97.1%,#eecb00 99.1%,#efce00 100%)"></i><i style="left:103px;background:linear-gradient(#fdf800 0%,#fcf700 1.9%,#fcf500 3.8%,#fbf300 5.7%,#faf100 7.7%,#f9ee00 9.6%,#f8ea00 11.5%,#f7e600 13.4%,#f6e300 15.3%,#f5e000 17.2%,#f4dd00 19.2%,#f3da00 21.1%,#f2d800 23%,#f1d500 24.9%,#f1d400 26.8%,#f1d500 28.7%,#f1d600 30.7%,#f1d600 32.6%,#f1d500 34.5%,#f1d500 36.4%,#f1d500 38.3%,#f0d300 40.2%,#efd000 42.1%,#eecc00 44.1%,#edc800 46%,#ebc000 47.9%,#e8b700 49.8%,#e4aa00 51.7%,#df9a00 53.6%,#d98600 55.6%,#d26f00 57.5%,#cb5b00 58.9%,#c85400 59.5%,#c54c00 60.1%,#c24400 60.6%,#bf3b00 61.2%,#bc3200 61.8%,#b72a00 62.4%,#b22100 62.9%,#ac1500 63.5%,#a50900 64.1%,#9c0003 64.7%,#92000d 65.2%,#890015 65.8%,#80001d 66.4%,#750027 67%,#670033 67.5%,#590037 68.1%,#4a003b 68.7%,#390040 69.3%,#25002c 69.8%,#070009 70.4%,#000000 71%,#000000 71.6%,#000000 72.1%,#000000 72.7%,#000000 73.3%,#040005 73.9%,#1e0024 74.4%,#34003e 75%,#41003e 75.6%,#4c003b 76.2%,#550038 76.7%,#5e0035 77.3%,#680032 77.9%,#740028 78.5%,#860018 79%,#960009 79.6%,#a00000 80.2%,#a50800 80.8%,#a80f00 81.3%,#ab1400 81.8%,#b62600 83.7%,#c03c00 85.6%,#c95400 87.6%,#d16b00 89.5%,#d67c00 91.4%,#db8b00 93.3%,#e19f00 95.2%,#e8b800 97.1%,#edc900 99.1%,#eecc00 100%)"></i><i style="left:105px;background:linear-gradient(#fefd00 0%,#fefc00 1.9%,#fefc00 3.8%,#fefb00 5.7%,#fdfa00 7.7%,#fdf900 9.6%,#fcf600 11.5%,#fbf200 13.4%,#faef00 15.3%,#f9ec00 17.2%,#f8e900 19.2%,#f7e600 21.1%,#f6e300 23%,#f4df00 24.9%,#f4dd00 26.8%,#f4dd00 28.7%,#f4dd00 30.7%,#f3dc00 32.6%,#f3da00 34.5%,#f2d800 36.4%,#f1d600 38.3%,#f0d300 40.2%,#efce00 42.1%,#edc900 44.1%,#ebc300 46%,#e9bb00 47.9%,#e6b200 49.8%,#e3a600 51.7%,#de9600 53.6%,#d88200 55.6%,#d16b00 57.5%,#ca5700 58.9%,#c75000 59.5%,#c44800 60.1%,#c14000 60.6%,#be3700 61.2%,#ba2f00 61.8%,#b62700 62.4%,#b01d00 62.9%,#aa1200 63.5%,#a30600 64.1%,#9a0006 64.7%,#8f000f 65.2%,#860017 65.8%,#7d0020 66.4%,#72002a 67%,#650033 67.5%,#580037 68.1%,#49003c 68.7%,#380041 69.3%,#24002a 69.8%,#060008 70.4%,#000000 71%,#000000 71.6%,#000000 72.1%,#000000 72.7%,#000000 73.3%,#030004 73.9%,#1d0023 74.4%,#34003d 75%,#41003e 75.6%,#4b003b 76.2%,#540038 76.7%,#5d0036 77.3%,#670033 77.9%,#730029 78.5%,#850019 79%,#95000a 79.6%,#9f0001 80.2%,#a40700 80.8%,#a70d00 81.3%,#aa1200 81.8%,#b42300 83.7%,#be3800 85.6%,#c75100 87.6%,#d06800 89.5%,#d57900 91.4%,#da8800 93.3%,#e09c00 95.2%,#e7b500 97.1%,#edc700 99.1%,#eeca00 100%)"></i><i style="left:107px;background:linear-gradient(#ffff00 0%,#ffff00 1.9%,#ffff00 3.8%,#ffff00 5.7%,#ffff00 7.7%,#ffff00 9.6%,#fefc00 11.5%,#fdf800 13.4%,#fcf500 15.3%,#fbf200 17.2%,#faef00 19.2%,#f8eb00 21.1%,#f7e800 23%,#f6e400 24.9%,#f5e100 26.8%,#f5e000 28.7%,#f5e000 30.7%,#f4de00 32.6%,#f3dc00 34.5%,#f3da00 36.4%,#f1d600 38.3%,#f0d300 40.2%,#eecd00 42.1%,#ecc500 44.1%,#eabd00 46%,#e8b600 47.9%,#e5ad00 49.8%,#e1a100 51.7%,#dd9200 53.6%,#d77f00 55.6%,#cf6700 57.5%,#c85300 58.9%,#c54b00 59.5%,#c24300 60.1%,#bf3b00 60.6%,#bc3300 61.2%,#b82b00 61.8%,#b42300 62.4%,#ae1a00 62.9%,#a80f00 63.5%,#a20300 64.1%,#970008 64.7%,#8d0012 65.2%,#84001a 65.8%,#7b0022 66.4%,#70002c 67%,#640034 67.5%,#570038 68.1%,#48003c 68.7%,#370041 69.3%,#220029 69.8%,#060007 70.4%,#000000 71%,#000000 71.6%,#000000 72.1%,#000000 72.7%,#000000 73.3%,#030003 73.9%,#1d0022 74.4%,#33003d 75%,#40003e 75.6%,#4b003b 76.2%,#530038 76.7%,#5c0036 77.3%,#660033 77.9%,#72002a 78.5%,#84001a 79%,#94000b 79.6%,#9e0002 80.2%,#a30500 80.8%,#a60b00 81.3%,#a91000 81.8%,#b22100 83.7%,#bd3500 85.6%,#c64e00 87.6%,#cf6600 89.5%,#d57700 91.4%,#d98600 93.3%,#df9900 95.2%,#e7b300 97.1%,#ecc400 99.1%,#edc800 100%)"></i><i style="left:109px;background:linear-gradient(#ffff00 0%,#ffff00 1.9%,#ffff00 3.8%,#ffff00 5.7%,#fffe00 7.7%,#fffe00 9.6%,#fefb00 11.5%,#fcf700 13.4%,#fbf400 15.3%,#faf100 17.2%,#f9ed00 19.2%,#f8ea00 21.1%,#f7e600 23%,#f5e200 24.9%,#f5e000 26.8%,#f4df00 28.7%,#f4de00 30.7%,#f3dc00 32.6%,#f3da00 34.5%,#f2d800 36.4%,#f1d400 38.3%,#efd000 40.2%,#edc900 42.1%,#eabf00 44.1%,#e8b700 46%,#e6b000 47.9%,#e3a700 49.8%,#e09c00 51.7%,#dc8e00 53.6%,#d67b00 55.6%,#ce6200 57.5%,#c64e00 58.9%,#c34600 59.5%,#c03e00 60.1%,#bd3500 60.6%,#ba2e00 61.2%,#b52600 61.8%,#b11e00 62.4%,#ac1500 62.9%,#a60a00 63.5%,#9f0001 64.1%,#93000c 64.7%,#890015 65.2%,#80001d 65.8%,#780025 66.4%,#6e002e 67%,#620034 67.5%,#560038 68.1%,#47003c 68.7%,#35003f 69.3%,#200026 69.8%,#050006 70.4%,#000000 71%,#000000 71.6%,#000000 72.1%,#000000 72.7%,#000000 73.3%,#020003 73.9%,#1c0021 74.4%,#33003c 75%,#40003e 75.6%,#4a003b 76.2%,#530039 76.7%,#5c0036 77.3%,#650033 77.9%,#71002b 78.5%,#83001b 79%,#93000c 79.6%,#9c0003 80.2%,#a20400 80.8%,#a50a00 81.3%,#a80e00 81.8%,#b11e00 83.7%,#bc3100 85.6%,#c54c00 87.6%,#ce6300 89.5%,#d47500 91.4%,#d88300 93.3%,#de9700 95.2%,#e6b100 97.1%,#ebc200 99.1%,#ecc600 100%)"></i><i style="left:111px;background:linear-gradient(#fefd00 0%,#fefd00 1.9%,#fffe00 3.8%,#fefd00 5.7%,#fefc00 7.7%,#fefb00 9.6%,#fdf800 11.5%,#fbf300 13.4%,#faf000 15.3%,#f9ec00 17.2%,#f7e800 19.2%,#f6e500 21.1%,#f5e100 23%,#f3dc00 24.9%,#f3da00 26.8%,#f2d900 28.7%,#f2d800 30.7%,#f1d600 32.6%,#f0d300 34.5%,#efd000 36.4%,#eecc00 38.3%,#edc800 40.2%,#ebc000 42.1%,#e8b700 44.1%,#e6af00 46%,#e3a800 47.9%,#e1a000 49.8%,#de9600 51.7%,#da8a00 53.6%,#d57700 55.6%,#cc5d00 57.5%,#c44800 58.9%,#c13f00 59.5%,#be3700 60.1%,#ba2f00 60.6%,#b62700 61.2%,#b11f00 61.8%,#ad1700 62.4%,#a80e00 62.9%,#a20400 63.5%,#990006 64.1%,#8e0010 64.7%,#850019 65.2%,#7d0020 65.8%,#750027 66.4%,#6b0030 67%,#610035 67.5%,#540038 68.1%,#46003d 68.7%,#32003b 69.3%,#1b0020 69.8%,#030004 70.4%,#000000 71%,#000000 71.6%,#000000 72.1%,#000000 72.7%,#000000 73.3%,#020003 73.9%,#1b0020 74.4%,#32003c 75%,#3f003f 75.6%,#4a003b 76.2%,#530039 76.7%,#5b0036 77.3%,#640033 77.9%,#70002c 78.5%,#82001b 79%,#92000d 79.6%,#9b0005 80.2%,#a10200 80.8%,#a40800 81.3%,#a70c00 81.8%,#af1b00 83.7%,#ba2e00 85.6%,#c44900 87.6%,#cd6100 89.5%,#d37200 91.4%,#d88100 93.3%,#dd9400 95.2%,#e5af00 97.1%,#ebc000 99.1%,#ecc400 100%)"></i><i style="left:113px;background:linear-gradient(#fefc00 0%,#fefc00 1.9%,#fefc00 3.8%,#fefb00 5.7%,#fdf900 7.7%,#fcf700 9.6%,#fbf300 11.5%,#f9ee00 13.4%,#f8e900 15.3%,#f6e500 17.2%,#f5e100 19.2%,#f4de00 21.1%,#f3da00 23%,#f1d400 24.9%,#f0d100 26.8%,#efd000 28.7%,#efd000 30.7%,#efcd00 32.6%,#edc900 34.5%,#ecc400 36.4%,#ebc000 38.3%,#e9bc00 40.2%,#e7b500 42.1%,#e5ad00 44.1%,#e3a600 46%,#e19f00 47.9%,#de9700 49.8%,#dc8f00 51.7%,#d98400 53.6%,#d37200 55.6%,#c95700 57.5%,#c24100 58.9%,#be3800 59.5%,#bb2f00 60.1%,#b62700 60.6%,#b11f00 61.2%,#ad1700 61.8%,#a80f00 62.4%,#a30600 62.9%,#9d0003 63.5%,#92000c 64.1%,#880015 64.7%,#80001d 65.2%,#790024 65.8%,#71002b 66.4%,#680032 67%,#5f0035 67.5%,#530038 68.1%,#45003d 68.7%,#2f0037 69.3%,#16001a 69.8%,#020002 70.4%,#000000 71%,#000000 71.6%,#000000 72.1%,#000000 72.7%,#000000 73.3%,#020002 73.9%,#1b0020 74.4%,#32003b 75%,#3f003f 75.6%,#49003c 76.2%,#520039 76.7%,#5b0036 77.3%,#640034 77.9%,#6f002d 78.5%,#81001c 79%,#91000e 79.6%,#9a0006 80.2%,#a00100 80.8%,#a30600 81.3%,#a60a00 81.8%,#ad1800 83.7%,#b82b00 85.6%,#c34600 87.6%,#cc5f00 89.5%,#d37000 91.4%,#d77e00 93.3%,#dd9200 95.2%,#e5ad00 97.1%,#eabe00 99.1%,#ebc100 100%)"></i><i style="left:115px;background:linear-gradient(#fdf900 0%,#fdf900 1.9%,#fdf900 3.8%,#fdf800 5.7%,#fcf600 7.7%,#fbf200 9.6%,#f9ed00 11.5%,#f7e700 13.4%,#f5e200 15.3%,#f4dd00 17.2%,#f2d900 19.2%,#f1d600 21.1%,#f0d200 23%,#eeca00 24.9%,#ecc600 26.8%,#ecc600 28.7%,#ecc500 30.7%,#ebc200 32.6%,#e9bc00 34.5%,#e8b700 36.4%,#e7b300 38.3%,#e6af00 40.2%,#e4a900 42.1%,#e2a300 44.1%,#e09c00 46%,#de9600 47.9%,#dc8f00 49.8%,#da8800 51.7%,#d77e00 53.6%,#d16c00 55.6%,#c75000 57.5%,#bf3a00 58.9%,#bb3100 59.5%,#b72900 60.1%,#b22000 60.6%,#ad1800 61.2%,#a80f00 61.8%,#a40700 62.4%,#9e0002 62.9%,#95000a 63.5%,#8b0013 64.1%,#83001b 64.7%,#7b0022 65.2%,#740028 65.8%,#6e002e 66.4%,#660033 67%,#5d0036 67.5%,#520039 68.1%,#43003d 68.7%,#2b0033 69.3%,#110014 69.8%,#010001 70.4%,#000000 71%,#000000 71.6%,#000000 72.1%,#000000 72.7%,#000000 73.3%,#020002 73.9%,#1a001f 74.4%,#31003a 75%,#3e003f 75.6%,#49003c 76.2%,#520039 76.7%,#5a0036 77.3%,#630034 77.9%,#6e002e 78.5%,#80001d 79%,#90000f 79.6%,#980007 80.2%,#9f0001 80.8%,#a20400 81.3%,#a40800 81.8%,#ac1500 83.7%,#b62800 85.6%,#c24300 87.6%,#cc5c00 89.5%,#d26e00 91.4%,#d67c00 93.3%,#dc8f00 95.2%,#e4ab00 97.1%,#e9bb00 99.1%,#eabe00 100%)"></i><i style="left:117px;background:linear-gradient(#fcf700 0%,#fcf700 1.9%,#fcf700 3.8%,#fcf500 5.7%,#fbf200 7.7%,#f9ed00 9.6%,#f7e700 11.5%,#f5e100 13.4%,#f3da00 15.3%,#f1d500 17.2%,#f0d000 19.2%,#efcd00 21.1%,#edc900 23%,#eac000 24.9%,#e9bb00 26.8%,#e9bb00 28.7%,#e9bb00 30.7%,#e8b700 32.6%,#e6b100 34.5%,#e4ab00 36.4%,#e3a700 38.3%,#e2a300 40.2%,#e09e00 42.1%,#df9900 44.1%,#dd9300 46%,#db8d00 47.9%,#d98700 49.8%,#d88100 51.7%,#d57800 53.6%,#cf6600 55.6%,#c54a00 57.5%,#bd3300 58.9%,#b82b00 59.5%,#b32200 60.1%,#ae1a00 60.6%,#aa1100 61.2%,#a50800 61.8%,#a00000 62.4%,#970008 62.9%,#8e0010 63.5%,#860018 64.1%,#7d001f 64.7%,#760026 65.2%,#70002b 65.8%,#6a0031 66.4%,#630034 67%,#5b0036 67.5%,#510039 68.1%,#42003e 68.7%,#28002f 69.3%,#0d0010 69.8%,#000000 70.4%,#000000 71%,#000000 71.6%,#000000 72.1%,#000000 72.7%,#000000 73.3%,#020002 73.9%,#1a001f 74.4%,#31003a 75%,#3e003f 75.6%,#48003c 76.2%,#510039 76.7%,#5a0037 77.3%,#620034 77.9%,#6d002f 78.5%,#7f001e 79%,#8f0010 79.6%,#970008 80.2%,#9d0002 80.8%,#a10300 81.3%,#a30600 81.8%,#aa1300 83.7%,#b52600 85.6%,#c14000 87.6%,#cb5a00 89.5%,#d16c00 91.4%,#d67a00 93.3%,#db8d00 95.2%,#e4a900 97.1%,#e9b900 99.1%,#e9bc00 100%)"></i><i style="left:119px;background:linear-gradient(#fbf300 0%,#fbf300 1.9%,#fbf200 3.8%,#faf100 5.7%,#f9ec00 7.7%,#f7e700 9.6%,#f5e100 11.5%,#f2d900 13.4%,#f0d300 15.3%,#eecc00 17.2%,#edc700 19.2%,#ecc400 21.1%,#eabf00 23%,#e8b600 24.9%,#e6b100 26.8%,#e6b100 28.7%,#e6b100 30.7%,#e5ad00 32.6%,#e3a600 34.5%,#e1a000 36.4%,#e09c00 38.3%,#df9800 40.2%,#dd9400 42.1%,#dc9000 44.1%,#db8a00 46%,#d98500 47.9%,#d77f00 49.8%,#d57a00 51.7%,#d37200 53.6%,#cc5e00 55.6%,#c24300 57.5%,#ba2e00 58.9%,#b52600 59.5%,#b01d00 60.1%,#ab1400 60.6%,#a70c00 61.2%,#a20300 61.8%,#9b0005 62.4%,#92000d 62.9%,#890015 63.5%,#81001c 64.1%,#790023 64.7%,#72002a 65.2%,#6d002f 65.8%,#670033 66.4%,#610034 67%,#590037 67.5%,#4f003a 68.1%,#40003e 68.7%,#25002c 69.3%,#0b000d 69.8%,#000000 70.4%,#000000 71%,#000000 71.6%,#000000 72.1%,#000000 72.7%,#000000 73.3%,#020002 73.9%,#19001e 74.4%,#300039 75%,#3d003f 75.6%,#47003c 76.2%,#510039 76.7%,#590037 77.3%,#610034 77.9%,#6b0030 78.5%,#7d0020 79%,#8d0011 79.6%,#95000a 80.2%,#9b0004 80.8%,#a00100 81.3%,#a20400 81.8%,#a91000 83.7%,#b42300 85.6%,#c03e00 87.6%,#ca5800 89.5%,#d06a00 91.4%,#d57800 93.3%,#db8c00 95.2%,#e3a700 97.1%,#e8b700 99.1%,#e9ba00 100%)"></i><i style="left:121px;background:linear-gradient(#f9ec00 0%,#f9ec00 1.9%,#f8eb00 3.8%,#f8e900 5.7%,#f6e500 7.7%,#f4df00 9.6%,#f2d800 11.5%,#efd000 13.4%,#edc800 15.3%,#ebc200 17.2%,#eabd00 19.2%,#e8b900 21.1%,#e7b300 23%,#e4ab00 24.9%,#e3a600 26.8%,#e2a500 28.7%,#e2a400 30.7%,#e1a000 32.6%,#df9a00 34.5%,#dd9400 36.4%,#dc9000 38.3%,#db8d00 40.2%,#da8a00 42.1%,#d98600 44.1%,#d88200 46%,#d67c00 47.9%,#d57700 49.8%,#d37200 51.7%,#d06a00 53.6%,#c95700 55.6%,#c03c00 57.5%,#b72800 58.9%,#b22000 59.5%,#ad1800 60.1%,#a91000 60.6%,#a40700 61.2%,#9f0001 61.8%,#960009 62.4%,#8d0011 62.9%,#850019 63.5%,#7d0020 64.1%,#750027 64.7%,#6e002d 65.2%,#690032 65.8%,#640033 66.4%,#5e0035 67%,#560038 67.5%,#4c003b 68.1%,#3d003f 68.7%,#220029 69.3%,#09000b 69.8%,#000000 70.4%,#000000 71%,#000000 71.6%,#000000 72.1%,#000000 72.7%,#000000 73.3%,#020002 73.9%,#19001d 74.4%,#2f0037 75%,#3c003f 75.6%,#47003c 76.2%,#50003a 76.7%,#580037 77.3%,#600035 77.9%,#6a0031 78.5%,#7c0021 79%,#8b0013 79.6%,#93000c 80.2%,#990006 80.8%,#9e0001 81.3%,#a10200 81.8%,#a80e00 83.7%,#b32100 85.6%,#bf3b00 87.6%,#c95500 89.5%,#d06700 91.4%,#d47600 93.3%,#da8a00 95.2%,#e3a500 97.1%,#e7b500 99.1%,#e8b800 100%)"></i><i style="left:123px;background:linear-gradient(#f6e400 0%,#f6e300 1.9%,#f5e200 3.8%,#f5e000 5.7%,#f3dc00 7.7%,#f1d600 9.6%,#efcd00 11.5%,#ecc400 13.4%,#eabd00 15.3%,#e8b700 17.2%,#e6b100 19.2%,#e5ac00 21.1%,#e3a700 23%,#e19f00 24.9%,#df9a00 26.8%,#df9800 28.7%,#de9700 30.7%,#dd9300 32.6%,#db8d00 34.5%,#da8800 36.4%,#d98500 38.3%,#d88200 40.2%,#d77f00 42.1%,#d67d00 44.1%,#d57900 46%,#d47400 47.9%,#d26f00 49.8%,#d06900 51.7%,#cd6100 53.6%,#c64e00 55.6%,#bd3500 57.5%,#b42300 58.9%,#af1b00 59.5%,#ab1300 60.1%,#a60b00 60.6%,#a20300 61.2%,#9a0005 61.8%,#92000d 62.4%,#890015 62.9%,#81001c 63.5%,#790024 64.1%,#71002b 64.7%,#6b0030 65.2%,#660033 65.8%,#610034 66.4%,#5b0036 67%,#530039 67.5%,#49003c 68.1%,#3a0040 68.7%,#200025 69.3%,#070009 69.8%,#000000 70.4%,#000000 71%,#000000 71.6%,#000000 72.1%,#000000 72.7%,#000000 73.3%,#020002 73.9%,#18001c 74.4%,#2e0036 75%,#3b0040 75.6%,#46003d 76.2%,#4f003a 76.7%,#570037 77.3%,#5f0035 77.9%,#690032 78.5%,#7a0023 79%,#890015 79.6%,#91000e 80.2%,#970008 80.8%,#9c0004 81.3%,#a00000 81.8%,#a70c00 83.7%,#b11f00 85.6%,#be3900 87.6%,#c85300 89.5%,#cf6500 91.4%,#d47500 93.3%,#da8900 95.2%,#e2a300 97.1%,#e7b300 99.1%,#e8b600 100%)"></i><i style="left:125px;background:linear-gradient(#f3db00 0%,#f3da00 1.9%,#f2d800 3.8%,#f1d600 5.7%,#f0d200 7.7%,#eecd00 9.6%,#ebc300 11.5%,#e8b900 13.4%,#e6b200 15.3%,#e5ac00 17.2%,#e3a600 19.2%,#e1a100 21.1%,#e09b00 23%,#dd9400 24.9%,#dc8f00 26.8%,#db8c00 28.7%,#da8a00 30.7%,#d98600 32.6%,#d88200 34.5%,#d77d00 36.4%,#d57900 38.3%,#d57700 40.2%,#d47500 42.1%,#d47400 44.1%,#d37000 46%,#d16c00 47.9%,#cf6600 49.8%,#cd6000 51.7%,#ca5700 53.6%,#c34600 55.6%,#ba2e00 57.5%,#b11e00 58.9%,#ac1600 59.5%,#a80e00 60.1%,#a40700 60.6%,#9f0001 61.2%,#960009 61.8%,#8e0011 62.4%,#850018 62.9%,#7d0020 63.5%,#750027 64.1%,#6d002e 64.7%,#670033 65.2%,#630034 65.8%,#5e0035 66.4%,#580037 67%,#50003a 67.5%,#45003d 68.1%,#370041 68.7%,#1d0022 69.3%,#060007 69.8%,#000000 70.4%,#000000 71%,#000000 71.6%,#000000 72.1%,#000000 72.7%,#000000 73.3%,#020002 73.9%,#17001c 74.4%,#2c0034 75%,#3a0040 75.6%,#44003d 76.2%,#4e003a 76.7%,#560038 77.3%,#5e0035 77.9%,#680032 78.5%,#780024 79%,#860017 79.6%,#8e0010 80.2%,#95000a 80.8%,#9a0006 81.3%,#9e0002 81.8%,#a60a00 83.7%,#b01d00 85.6%,#be3600 87.6%,#c75000 89.5%,#ce6300 91.4%,#d47300 93.3%,#da8700 95.2%,#e1a200 97.1%,#e6b100 99.1%,#e7b400 100%)"></i><i style="left:127px;background:linear-gradient(#f1d400 0%,#f0d200 1.9%,#efd000 3.8%,#eecd00 5.7%,#edc900 7.7%,#ecc400 9.6%,#e9b900 11.5%,#e5af00 13.4%,#e4a800 15.3%,#e2a300 17.2%,#e09d00 19.2%,#df9800 21.1%,#dd9200 23%,#db8b00 24.9%,#d98600 26.8%,#d88300 28.7%,#d78000 30.7%,#d67c00 32.6%,#d57800 34.5%,#d47400 36.4%,#d37000 38.3%,#d26e00 40.2%,#d16c00 42.1%,#d16b00 44.1%,#d06800 46%,#ce6200 47.9%,#cc5d00 49.8%,#ca5700 51.7%,#c64e00 53.6%,#c03d00 55.6%,#b62800 57.5%,#ad1800 58.9%,#a91100 59.5%,#a50a00 60.1%,#a10200 60.6%,#9a0006 61.2%,#92000d 61.8%,#8a0014 62.4%,#82001c 62.9%,#790023 63.5%,#71002a 64.1%,#6a0031 64.7%,#640033 65.2%,#600035 65.8%,#5b0036 66.4%,#550038 67%,#4d003b 67.5%,#42003e 68.1%,#33003d 68.7%,#1a001f 69.3%,#050005 69.8%,#000000 70.4%,#000000 71%,#000000 71.6%,#000000 72.1%,#000000 72.7%,#000000 73.3%,#020002 73.9%,#17001b 74.4%,#2b0033 75%,#390040 75.6%,#43003d 76.2%,#4c003b 76.7%,#550038 77.3%,#5d0036 77.9%,#670033 78.5%,#760026 79%,#840019 79.6%,#8c0012 80.2%,#92000d 80.8%,#970008 81.3%,#9b0004 81.8%,#a50900 83.7%,#af1b00 85.6%,#bd3400 87.6%,#c64e00 89.5%,#cd6100 91.4%,#d37200 93.3%,#d98600 95.2%,#e1a000 97.1%,#e6af00 99.1%,#e6b200 100%)"></i><i style="left:129px;background:linear-gradient(#efcd00 0%,#eecb00 1.9%,#edc800 3.8%,#ecc500 5.7%,#ebc200 7.7%,#e9bc00 9.6%,#e6b100 11.5%,#e3a700 13.4%,#e1a100 15.3%,#e09c00 17.2%,#de9700 19.2%,#dc9100 21.1%,#db8b00 23%,#d98500 24.9%,#d77f00 26.8%,#d67c00 28.7%,#d57800 30.7%,#d47500 32.6%,#d37100 34.5%,#d16d00 36.4%,#d06800 38.3%,#cf6500 40.2%,#ce6400 42.1%,#ce6200 44.1%,#cc5f00 46%,#cb5a00 47.9%,#c85400 49.8%,#c64e00 51.7%,#c34600 53.6%,#bd3500 55.6%,#b32100 57.5%,#aa1200 58.9%,#a60b00 59.5%,#a20400 60.1%,#9d0003 60.6%,#95000a 61.2%,#8d0011 61.8%,#850018 62.4%,#7e001f 62.9%,#760026 63.5%,#6e002e 64.1%,#670033 64.7%,#610034 65.2%,#5c0036 65.8%,#580037 66.4%,#520039 67%,#4a003b 67.5%,#3f003e 68.1%,#300039 68.7%,#17001c 69.3%,#040004 69.8%,#000000 70.4%,#000000 71%,#000000 71.6%,#000000 72.1%,#000000 72.7%,#000000 73.3%,#020002 73.9%,#16001a 74.4%,#2a0032 75%,#380041 75.6%,#42003e 76.2%,#4b003b 76.7%,#540038 77.3%,#5c0036 77.9%,#660033 78.5%,#750028 79%,#82001b 79.6%,#8a0014 80.2%,#90000f 80.8%,#95000a 81.3%,#990006 81.8%,#a40700 83.7%,#ae1900 85.6%,#bc3200 87.6%,#c64c00 89.5%,#cd5f00 91.4%,#d37100 93.3%,#d98400 95.2%,#e09e00 97.1%,#e5ad00 99.1%,#e6b000 100%)"></i><i style="left:131px;background:linear-gradient(#ecc600 0%,#ecc400 1.9%,#ebc200 3.8%,#eabe00 5.7%,#e9ba00 7.7%,#e7b500 9.6%,#e4aa00 11.5%,#e1a000 13.4%,#df9a00 15.3%,#de9600 17.2%,#dc9000 19.2%,#db8b00 21.1%,#d98500 23%,#d77f00 24.9%,#d67a00 26.8%,#d47600 28.7%,#d37200 30.7%,#d26e00 32.6%,#d06a00 34.5%,#cf6500 36.4%,#cd6000 38.3%,#cc5d00 40.2%,#cb5b00 42.1%,#cb5a00 44.1%,#c95700 46%,#c75100 47.9%,#c54b00 49.8%,#c34500 51.7%,#c03d00 53.6%,#b92d00 55.6%,#af1a00 57.5%,#a60b00 58.9%,#a30500 59.5%,#9f0001 60.1%,#970008 60.6%,#90000f 61.2%,#890015 61.8%,#81001c 62.4%,#7a0023 62.9%,#72002a 63.5%,#6b0031 64.1%,#640034 64.7%,#5e0035 65.2%,#590037 65.8%,#550038 66.4%,#4e003a 67%,#46003c 67.5%,#3d003f 68.1%,#2d0036 68.7%,#150018 69.3%,#030003 69.8%,#000000 70.4%,#000000 71%,#000000 71.6%,#000000 72.1%,#000000 72.7%,#000000 73.3%,#020002 73.9%,#16001a 74.4%,#290030 75%,#360040 75.6%,#41003e 76.2%,#4a003b 76.7%,#530039 77.3%,#5b0036 77.9%,#650033 78.5%,#730029 79%,#7f001e 79.6%,#870017 80.2%,#8d0011 80.8%,#93000c 81.3%,#960009 81.8%,#a20400 83.7%,#ad1700 85.6%,#bb3000 87.6%,#c54a00 89.5%,#cc5d00 91.4%,#d26f00 93.3%,#d88300 95.2%,#e09c00 97.1%,#e5ac00 99.1%,#e5ae00 100%)"></i><i style="left:133px;background:linear-gradient(#eac000 0%,#eabe00 1.9%,#e9bb00 3.8%,#e8b800 5.7%,#e7b400 7.7%,#e5ae00 9.6%,#e2a300 11.5%,#df9900 13.4%,#dd9400 15.3%,#dc9000 17.2%,#db8b00 19.2%,#d98600 21.1%,#d88000 23%,#d67a00 24.9%,#d47500 26.8%,#d37000 28.7%,#d16b00 30.7%,#d06700 32.6%,#ce6300 34.5%,#cc5e00 36.4%,#ca5900 38.3%,#c95600 40.2%,#c85400 42.1%,#c85200 44.1%,#c74f00 46%,#c44900 47.9%,#c24300 49.8%,#c03c00 51.7%,#bd3400 53.6%,#b52500 55.6%,#aa1200 57.5%,#a20400 58.9%,#9e0001 59.5%,#980007 60.1%,#91000d 60.6%,#8b0013 61.2%,#84001a 61.8%,#7d0020 62.4%,#760026 62.9%,#6f002d 63.5%,#680032 64.1%,#610034 64.7%,#5c0036 65.2%,#570038 65.8%,#510039 66.4%,#4b003b 67%,#43003d 67.5%,#3a0040 68.1%,#2a0032 68.7%,#120015 69.3%,#020003 69.8%,#000000 70.4%,#000000 71%,#000000 71.6%,#000000 72.1%,#000000 72.7%,#000000 73.3%,#020003 73.9%,#150019 74.4%,#28002f 75%,#35003e 75.6%,#40003e 76.2%,#49003c 76.7%,#520039 77.3%,#5a0036 77.9%,#640034 78.5%,#71002b 79%,#7d0020 79.6%,#850019 80.2%,#8b0013 80.8%,#90000f 81.3%,#94000b 81.8%,#a10200 83.7%,#ac1500 85.6%,#ba2e00 87.6%,#c44800 89.5%,#cb5c00 91.4%,#d26e00 93.3%,#d88200 95.2%,#df9b00 97.1%,#e4aa00 99.1%,#e5ad00 100%)"></i><i style="left:135px;background:linear-gradient(#e9b900 0%,#e8b800 1.9%,#e7b500 3.8%,#e6b200 5.7%,#e5ad00 7.7%,#e3a700 9.6%,#e09c00 11.5%,#dd9300 13.4%,#dc8e00 15.3%,#da8a00 17.2%,#d98600 19.2%,#d88100 21.1%,#d67c00 23%,#d47600 24.9%,#d37000 26.8%,#d16a00 28.7%,#cf6500 30.7%,#cd6100 32.6%,#cc5d00 34.5%,#ca5800 36.4%,#c85300 38.3%,#c74f00 40.2%,#c64d00 42.1%,#c54b00 44.1%,#c44700 46%,#c14100 47.9%,#bf3a00 49.8%,#bd3400 51.7%,#b92c00 53.6%,#b01d00 55.6%,#a60a00 57.5%,#9d0003 58.9%,#970008 59.5%,#91000d 60.1%,#8b0013 60.6%,#850018 61.2%,#7f001e 61.8%,#790023 62.4%,#730029 62.9%,#6c0030 63.5%,#650033 64.1%,#5f0035 64.7%,#590037 65.2%,#540038 65.8%,#4e003a 66.4%,#48003c 67%,#40003e 67.5%,#370041 68.1%,#28002f 68.7%,#0f0012 69.3%,#010002 69.8%,#000000 70.4%,#000000 71%,#000000 71.6%,#000000 72.1%,#000000 72.7%,#000000 73.3%,#030003 73.9%,#150019 74.4%,#26002d 75%,#33003d 75.6%,#3e003f 76.2%,#48003c 76.7%,#510039 77.3%,#590037 77.9%,#630034 78.5%,#6f002c 79%,#7b0022 79.6%,#82001b 80.2%,#880016 80.8%,#8d0011 81.3%,#91000d 81.8%,#a00000 83.7%,#ab1300 85.6%,#b92c00 87.6%,#c34600 89.5%,#cb5a00 91.4%,#d16c00 93.3%,#d78000 95.2%,#df9900 97.1%,#e4a800 99.1%,#e4ab00 100%)"></i><i style="left:137px;background:linear-gradient(#e7b300 0%,#e6b200 1.9%,#e6af00 3.8%,#e5ac00 5.7%,#e3a700 7.7%,#e1a000 9.6%,#de9600 11.5%,#db8d00 13.4%,#da8900 15.3%,#d98500 17.2%,#d88100 19.2%,#d67d00 21.1%,#d57800 23%,#d37200 24.9%,#d16b00 26.8%,#cf6500 28.7%,#cd5f00 30.7%,#cb5b00 32.6%,#c95700 34.5%,#c85200 36.4%,#c64d00 38.3%,#c44900 40.2%,#c34600 42.1%,#c34400 44.1%,#c14000 46%,#bf3900 47.9%,#bc3200 49.8%,#b92c00 51.7%,#b42500 53.6%,#ac1500 55.6%,#a20300 57.5%,#960009 58.9%,#90000e 59.5%,#8b0013 60.1%,#860018 60.6%,#80001d 61.2%,#7b0022 61.8%,#750027 62.4%,#6f002d 62.9%,#680032 63.5%,#620034 64.1%,#5c0036 64.7%,#560038 65.2%,#510039 65.8%,#4b003b 66.4%,#44003d 67%,#3d003f 67.5%,#34003d 68.1%,#25002c 68.7%,#0c000f 69.3%,#010001 69.8%,#000000 70.4%,#000000 71%,#000000 71.6%,#000000 72.1%,#000000 72.7%,#000000 73.3%,#030003 73.9%,#150018 74.4%,#25002c 75%,#32003b 75.6%,#3d003f 76.2%,#47003c 76.7%,#50003a 77.3%,#590037 77.9%,#620034 78.5%,#6d002e 79%,#780024 79.6%,#80001d 80.2%,#860018 80.8%,#8b0013 81.3%,#8f0010 81.8%,#9d0002 83.7%,#aa1100 85.6%,#b82a00 87.6%,#c34400 89.5%,#ca5800 91.4%,#d16b00 93.3%,#d77f00 95.2%,#df9800 97.1%,#e3a700 99.1%,#e4aa00 100%)"></i><i style="left:139px;background:linear-gradient(#e5ae00 0%,#e5ac00 1.9%,#e4aa00 3.8%,#e3a600 5.7%,#e1a100 7.7%,#df9a00 9.6%,#dc9000 11.5%,#da8800 13.4%,#d88400 15.3%,#d88000 17.2%,#d67d00 19.2%,#d57800 21.1%,#d47400 23%,#d26e00 24.9%,#cf6600 26.8%,#cd6000 28.7%,#cb5a00 30.7%,#c95600 32.6%,#c75100 34.5%,#c64d00 36.4%,#c44800 38.3%,#c24300 40.2%,#c14000 42.1%,#c03e00 44.1%,#bf3900 46%,#bc3200 47.9%,#b82c00 49.8%,#b52600 51.7%,#b11e00 53.6%,#a80f00 55.6%,#9c0004 57.5%,#8f000f 58.9%,#8a0014 59.5%,#860018 60.1%,#81001c 60.6%,#7c0021 61.2%,#770025 61.8%,#71002a 62.4%,#6c0030 62.9%,#660033 63.5%,#600035 64.1%,#5a0037 64.7%,#540038 65.2%,#4e003a 65.8%,#48003c 66.4%,#41003e 67%,#3a0040 67.5%,#31003a 68.1%,#220028 68.7%,#0a000c 69.3%,#000000 69.8%,#000000 70.4%,#000000 71%,#000000 71.6%,#000000 72.1%,#000000 72.7%,#000000 73.3%,#030004 73.9%,#140018 74.4%,#24002b 75%,#300039 75.6%,#3b0040 76.2%,#46003d 76.7%,#4f003a 77.3%,#580037 77.9%,#610035 78.5%,#6c002f 79%,#760026 79.6%,#7d001f 80.2%,#83001a 80.8%,#890015 81.3%,#8c0012 81.8%,#9b0004 83.7%,#a90f00 85.6%,#b72900 87.6%,#c24200 89.5%,#c95700 91.4%,#d06900 93.3%,#d77e00 95.2%,#de9600 97.1%,#e3a500 99.1%,#e3a800 100%)"></i><i style="left:141px;background:linear-gradient(#e4a900 0%,#e3a700 1.9%,#e2a500 3.8%,#e1a100 5.7%,#e09b00 7.7%,#de9400 9.6%,#db8b00 11.5%,#d88300 13.4%,#d77f00 15.3%,#d67c00 17.2%,#d57800 19.2%,#d47500 21.1%,#d37000 23%,#d06900 24.9%,#ce6200 26.8%,#cb5b00 28.7%,#c95500 30.7%,#c75000 32.6%,#c64c00 34.5%,#c44700 36.4%,#c24300 38.3%,#c03d00 40.2%,#bf3a00 42.1%,#be3800 44.1%,#bc3200 46%,#b92c00 47.9%,#b52600 49.8%,#b22000 51.7%,#ad1800 53.6%,#a50900 55.6%,#960009 57.5%,#8a0014 58.9%,#850018 59.5%,#81001c 60.1%,#7d0020 60.6%,#780024 61.2%,#730029 61.8%,#6e002d 62.4%,#690032 62.9%,#630034 63.5%,#5d0036 64.1%,#570037 64.7%,#510039 65.2%,#4b003b 65.8%,#45003d 66.4%,#3e003f 67%,#370041 67.5%,#2e0036 68.1%,#1f0025 68.7%,#080009 69.3%,#000000 69.8%,#000000 70.4%,#000000 71%,#000000 71.6%,#000000 72.1%,#000000 72.7%,#000000 73.3%,#040004 73.9%,#140017 74.4%,#230029 75%,#2f0038 75.6%,#3a0040 76.2%,#44003d 76.7%,#4e003a 77.3%,#570038 77.9%,#600035 78.5%,#6a0031 79%,#740028 79.6%,#7c0021 80.2%,#81001c 80.8%,#870017 81.3%,#8a0014 81.8%,#990006 83.7%,#a80e00 85.6%,#b62700 87.6%,#c14000 89.5%,#c95500 91.4%,#d06700 93.3%,#d67c00 95.2%,#de9500 97.1%,#e2a400 99.1%,#e3a600 100%)"></i><i style="left:143px;background:linear-gradient(#e2a500 0%,#e2a300 1.9%,#e1a000 3.8%,#e09c00 5.7%,#de9600 7.7%,#dc8f00 9.6%,#d98600 11.5%,#d77f00 13.4%,#d67b00 15.3%,#d57800 17.2%,#d47500 19.2%,#d37100 21.1%,#d16c00 23%,#cf6500 24.9%,#cc5e00 26.8%,#c95700 28.7%,#c75000 30.7%,#c54c00 32.6%,#c44700 34.5%,#c24200 36.4%,#c03d00 38.3%,#be3800 40.2%,#bd3500 42.1%,#bc3200 44.1%,#b92d00 46%,#b62700 47.9%,#b22100 49.8%,#af1a00 51.7%,#aa1200 53.6%,#a20400 55.6%,#92000d 57.5%,#860018 58.9%,#82001b 59.5%,#7e001f 60.1%,#790023 60.6%,#750027 61.2%,#70002b 61.8%,#6b0030 62.4%,#660033 62.9%,#610035 63.5%,#5b0036 64.1%,#550038 64.7%,#4e003a 65.2%,#48003c 65.8%,#42003e 66.4%,#3b0040 67%,#34003d 67.5%,#2b0033 68.1%,#1c0021 68.7%,#060007 69.3%,#000000 69.8%,#000000 70.4%,#000000 71%,#000000 71.6%,#000000 72.1%,#000000 72.7%,#000000 73.3%,#040005 73.9%,#130017 74.4%,#220028 75%,#2e0036 75.6%,#390040 76.2%,#43003d 76.7%,#4d003a 77.3%,#560038 77.9%,#5f0035 78.5%,#690032 79%,#730029 79.6%,#7a0023 80.2%,#80001d 80.8%,#850019 81.3%,#890015 81.8%,#980007 83.7%,#a70c00 85.6%,#b52500 87.6%,#c13e00 89.5%,#c85300 91.4%,#cf6600 93.3%,#d67b00 95.2%,#dd9300 97.1%,#e2a200 99.1%,#e2a500 100%)"></i><i style="left:145px;background:linear-gradient(#e1a100 0%,#e19e00 1.9%,#e09b00 3.8%,#de9600 5.7%,#dc8f00 7.7%,#da8900 9.6%,#d88100 11.5%,#d67b00 13.4%,#d57700 15.3%,#d47400 17.2%,#d37100 19.2%,#d26d00 21.1%,#d06800 23%,#cd6000 24.9%,#ca5900 26.8%,#c85200 28.7%,#c54c00 30.7%,#c44700 32.6%,#c24100 34.5%,#c03c00 36.4%,#be3700 38.3%,#bc3300 40.2%,#bb3000 42.1%,#b92d00 44.1%,#b72800 46%,#b32200 47.9%,#af1c00 49.8%,#ac1500 51.7%,#a80d00 53.6%,#a00000 55.6%,#8f0010 57.5%,#83001a 58.9%,#7f001e 59.5%,#7b0022 60.1%,#770026 60.6%,#72002a 61.2%,#6e002e 61.8%,#690032 62.4%,#640034 62.9%,#5e0035 63.5%,#580037 64.1%,#520039 64.7%,#4c003b 65.2%,#45003d 65.8%,#3e003f 66.4%,#370041 67%,#300039 67.5%,#280030 68.1%,#19001e 68.7%,#050005 69.3%,#000000 69.8%,#000000 70.4%,#000000 71%,#000000 71.6%,#000000 72.1%,#000000 72.7%,#000000 73.3%,#040005 73.9%,#130016 74.4%,#200026 75%,#2c0034 75.6%,#380041 76.2%,#42003e 76.7%,#4c003b 77.3%,#550038 77.9%,#5e0035 78.5%,#680032 79%,#72002a 79.6%,#790024 80.2%,#7f001e 80.8%,#84001a 81.3%,#880016 81.8%,#960009 83.7%,#a60b00 85.6%,#b42300 87.6%,#c03c00 89.5%,#c75000 91.4%,#ce6400 93.3%,#d57900 95.2%,#dd9200 97.1%,#e1a100 99.1%,#e2a300 100%)"></i><i style="left:147px;background:linear-gradient(#e09d00 0%,#df9a00 1.9%,#de9600 3.8%,#dc9000 5.7%,#da8900 7.7%,#d88200 9.6%,#d67c00 11.5%,#d57700 13.4%,#d47400 15.3%,#d37100 17.2%,#d26d00 19.2%,#d06900 21.1%,#ce6300 23%,#cb5c00 24.9%,#c95400 26.8%,#c64d00 28.7%,#c44700 30.7%,#c24100 32.6%,#bf3b00 34.5%,#bd3600 36.4%,#bc3100 38.3%,#ba2e00 40.2%,#b82c00 42.1%,#b72800 44.1%,#b42400 46%,#b01d00 47.9%,#ad1700 49.8%,#a91100 51.7%,#a50900 53.6%,#9c0004 55.6%,#8c0012 57.5%,#81001c 58.9%,#7d0020 59.5%,#790024 60.1%,#740028 60.6%,#70002c 61.2%,#6b0030 61.8%,#660033 62.4%,#610034 62.9%,#5c0036 63.5%,#550038 64.1%,#4f003a 64.7%,#49003c 65.2%,#42003e 65.8%,#3b0040 66.4%,#34003d 67%,#2d0035 67.5%,#25002c 68.1%,#160019 68.7%,#030003 69.3%,#000000 69.8%,#000000 70.4%,#000000 71%,#000000 71.6%,#000000 72.1%,#000000 72.7%,#000000 73.3%,#050006 73.9%,#120015 74.4%,#1f0024 75%,#2b0033 75.6%,#370041 76.2%,#41003e 76.7%,#4b003b 77.3%,#540038 77.9%,#5d0036 78.5%,#670033 79%,#71002b 79.6%,#780025 80.2%,#7e001f 80.8%,#83001b 81.3%,#860017 81.8%,#95000a 83.7%,#a50900 85.6%,#b32100 87.6%,#bf3900 89.5%,#c64e00 91.4%,#cd6100 93.3%,#d57700 95.2%,#dc9000 97.1%,#e19f00 99.1%,#e2a200 100%)"></i><i style="left:149px;background:linear-gradient(#df9900 0%,#de9600 1.9%,#dd9100 3.8%,#db8b00 5.7%,#d88300 7.7%,#d67d00 9.6%,#d57800 11.5%,#d47400 13.4%,#d37000 15.3%,#d26d00 17.2%,#d06900 19.2%,#cf6500 21.1%,#cd5f00 23%,#ca5800 24.9%,#c75000 26.8%,#c54900 28.7%,#c24300 30.7%,#c03d00 32.6%,#be3600 34.5%,#bb3000 36.4%,#b92c00 38.3%,#b82a00 40.2%,#b62800 42.1%,#b42400 44.1%,#b11f00 46%,#ae1900 47.9%,#aa1200 49.8%,#a70c00 51.7%,#a30500 53.6%,#980007 55.6%,#8a0014 57.5%,#7f001e 58.9%,#7b0022 59.5%,#770026 60.1%,#720029 60.6%,#6e002e 61.2%,#690032 61.8%,#640033 62.4%,#5f0035 62.9%,#590037 63.5%,#530039 64.1%,#4c003b 64.7%,#46003d 65.2%,#3f003f 65.8%,#380041 66.4%,#310039 67%,#2a0032 67.5%,#230029 68.1%,#120015 68.7%,#010002 69.3%,#000000 69.8%,#000000 70.4%,#000000 71%,#000000 71.6%,#000000 72.1%,#000000 72.7%,#000000 73.3%,#050006 73.9%,#110015 74.4%,#1d0023 75%,#290031 75.6%,#360040 76.2%,#40003e 76.7%,#4a003b 77.3%,#530039 77.9%,#5c0036 78.5%,#660033 79%,#70002c 79.6%,#770026 80.2%,#7d0020 80.8%,#82001c 81.3%,#850018 81.8%,#94000b 83.7%,#a50800 85.6%,#b21f00 87.6%,#be3600 89.5%,#c54b00 91.4%,#cc5f00 93.3%,#d47600 95.2%,#dc8f00 97.1%,#e09e00 99.1%,#e1a000 100%)"></i><i style="left:151px;background:linear-gradient(#de9700 0%,#dd9300 1.9%,#dc8e00 3.8%,#da8700 5.7%,#d77f00 7.7%,#d57800 9.6%,#d47500 11.5%,#d37100 13.4%,#d26e00 15.3%,#d16a00 17.2%,#cf6600 19.2%,#cd6200 21.1%,#cb5c00 23%,#c95500 24.9%,#c64d00 26.8%,#c44700 28.7%,#c14000 30.7%,#bf3a00 32.6%,#bc3200 34.5%,#b92d00 36.4%,#b72900 38.3%,#b62700 40.2%,#b52500 42.1%,#b22100 44.1%,#b01c00 46%,#ac1500 47.9%,#a80f00 49.8%,#a50900 51.7%,#a10100 53.6%,#960009 55.6%,#880016 57.5%,#7e001f 58.9%,#790023 59.5%,#750027 60.1%,#71002b 60.6%,#6c002f 61.2%,#670032 61.8%,#630034 62.4%,#5e0035 62.9%,#580037 63.5%,#510039 64.1%,#4a003b 64.7%,#43003d 65.2%,#3c003f 65.8%,#35003f 66.4%,#2d0036 67%,#27002e 67.5%,#200026 68.1%,#0f0012 68.7%,#000000 69.3%,#000000 69.8%,#000000 70.4%,#000000 71%,#000000 71.6%,#000000 72.1%,#000000 72.7%,#000000 73.3%,#050006 73.9%,#110014 74.4%,#1c0021 75%,#280030 75.6%,#35003e 76.2%,#3f003f 76.7%,#49003c 77.3%,#520039 77.9%,#5b0036 78.5%,#650033 79%,#6f002d 79.6%,#760026 80.2%,#7c0021 80.8%,#81001c 81.3%,#850019 81.8%,#93000c 83.7%,#a40700 85.6%,#b11e00 87.6%,#bd3400 89.5%,#c44900 91.4%,#cc5d00 93.3%,#d47400 95.2%,#db8d00 97.1%,#e09c00 99.1%,#e19f00 100%)"></i><i style="left:153px;background:linear-gradient(#de9600 0%,#dd9200 1.9%,#db8d00 3.8%,#d98600 5.7%,#d77d00 7.7%,#d57700 9.6%,#d47400 11.5%,#d37000 13.4%,#d26d00 15.3%,#d06900 17.2%,#cf6500 19.2%,#cd6000 21.1%,#cb5b00 23%,#c85400 24.9%,#c64c00 26.8%,#c34600 28.7%,#c13f00 30.7%,#be3800 32.6%,#bc3100 34.5%,#b82c00 36.4%,#b62800 38.3%,#b52600 40.2%,#b32300 42.1%,#b11f00 44.1%,#ae1900 46%,#ab1300 47.9%,#a70d00 49.8%,#a40700 51.7%,#9f0001 53.6%,#94000b 55.6%,#870017 57.5%,#7c0020 58.9%,#780024 59.5%,#740028 60.1%,#70002c 60.6%,#6b0030 61.2%,#660033 61.8%,#610034 62.4%,#5c0036 62.9%,#560038 63.5%,#50003a 64.1%,#49003c 64.7%,#42003e 65.2%,#3a0040 65.8%,#33003c 66.4%,#2b0033 67%,#24002b 67.5%,#1d0022 68.1%,#0d000f 68.7%,#000000 69.3%,#000000 69.8%,#000000 70.4%,#000000 71%,#000000 71.6%,#000000 72.1%,#000000 72.7%,#000000 73.3%,#060007 73.9%,#110014 74.4%,#1c0021 75%,#28002f 75.6%,#34003d 76.2%,#3e003f 76.7%,#48003c 77.3%,#510039 77.9%,#5a0037 78.5%,#640034 79%,#6e002e 79.6%,#750027 80.2%,#7b0022 80.8%,#80001d 81.3%,#84001a 81.8%,#93000c 83.7%,#a40600 85.6%,#b01d00 87.6%,#bc3300 89.5%,#c44800 91.4%,#cc5c00 93.3%,#d47400 95.2%,#db8c00 97.1%,#df9b00 99.1%,#e09d00 100%)"></i><i style="left:155px;background:linear-gradient(#de9600 0%,#dd9200 1.9%,#db8d00 3.8%,#d98600 5.7%,#d77d00 7.7%,#d57700 9.6%,#d47400 11.5%,#d37000 13.4%,#d26d00 15.3%,#d06800 17.2%,#ce6400 19.2%,#cd6000 21.1%,#cb5a00 23%,#c85400 24.9%,#c64c00 26.8%,#c34600 28.7%,#c13f00 30.7%,#be3900 32.6%,#bc3100 34.5%,#b82c00 36.4%,#b62800 38.3%,#b52500 40.2%,#b32100 42.1%,#b01d00 44.1%,#ad1800 46%,#aa1200 47.9%,#a70c00 49.8%,#a30500 51.7%,#9d0002 53.6%,#92000c 55.6%,#860018 57.5%,#7c0021 58.9%,#770025 59.5%,#730029 60.1%,#6f002d 60.6%,#6a0031 61.2%,#650033 61.8%,#610035 62.4%,#5b0036 62.9%,#550038 63.5%,#4f003a 64.1%,#48003c 64.7%,#41003e 65.2%,#390040 65.8%,#31003a 66.4%,#290030 67%,#220028 67.5%,#1a001f 68.1%,#0a000c 68.7%,#000000 69.3%,#000000 69.8%,#000000 70.4%,#000000 71%,#000000 71.6%,#000000 72.1%,#000000 72.7%,#000000 73.3%,#060008 73.9%,#110014 74.4%,#1c0021 75%,#28002f 75.6%,#33003c 76.2%,#3d003f 76.7%,#47003c 77.3%,#4f003a 77.9%,#580037 78.5%,#620034 79%,#6c002f 79.6%,#730029 80.2%,#790023 80.8%,#7f001e 81.3%,#83001a 81.8%,#92000c 83.7%,#a30600 85.6%,#b01d00 87.6%,#bc3200 89.5%,#c44700 91.4%,#cc5c00 93.3%,#d47300 95.2%,#db8b00 97.1%,#df9900 99.1%,#e09c00 100%)"></i><i style="left:157px;background:linear-gradient(#de9700 0%,#dd9300 1.9%,#db8e00 3.8%,#d98600 5.7%,#d77e00 7.7%,#d57800 9.6%,#d47400 11.5%,#d37100 13.4%,#d26d00 15.3%,#d06800 17.2%,#ce6400 19.2%,#cd5f00 21.1%,#cb5a00 23%,#c85400 24.9%,#c64c00 26.8%,#c34600 28.7%,#c13f00 30.7%,#bf3900 32.6%,#bc3200 34.5%,#b92c00 36.4%,#b62800 38.3%,#b42400 40.2%,#b22000 42.1%,#b01c00 44.1%,#ad1700 46%,#a91100 47.9%,#a60b00 49.8%,#a20400 51.7%,#9c0004 53.6%,#91000e 55.6%,#850019 57.5%,#7b0022 58.9%,#770026 59.5%,#720029 60.1%,#6e002d 60.6%,#690032 61.2%,#650033 61.8%,#600035 62.4%,#5a0036 62.9%,#540038 63.5%,#4e003a 64.1%,#47003c 64.7%,#40003e 65.2%,#380041 65.8%,#2f0038 66.4%,#27002e 67%,#1f0025 67.5%,#16001a 68.1%,#08000a 68.7%,#000000 69.3%,#000000 69.8%,#000000 70.4%,#000000 71%,#000000 71.6%,#000000 72.1%,#000000 72.7%,#000001 73.3%,#070008 73.9%,#110015 74.4%,#1c0021 75%,#27002f 75.6%,#32003b 76.2%,#3c003f 76.7%,#45003d 77.3%,#4e003a 77.9%,#570037 78.5%,#610035 79%,#6a0031 79.6%,#71002b 80.2%,#780025 80.8%,#7e001f 81.3%,#82001b 81.8%,#92000c 83.7%,#a30600 85.6%,#b01c00 87.6%,#bc3100 89.5%,#c44700 91.4%,#cc5d00 93.3%,#d47300 95.2%,#da8a00 97.1%,#de9800 99.1%,#df9a00 100%)"></i><i style="left:159px;background:linear-gradient(#df9800 0%,#dd9400 1.9%,#dc8e00 3.8%,#da8700 5.7%,#d77f00 7.7%,#d57900 9.6%,#d47500 11.5%,#d37100 13.4%,#d26d00 15.3%,#d06800 17.2%,#ce6300 19.2%,#cc5f00 21.1%,#cb5a00 23%,#c85400 24.9%,#c64d00 26.8%,#c34600 28.7%,#c14000 30.7%,#bf3900 32.6%,#bc3200 34.5%,#b92c00 36.4%,#b62800 38.3%,#b42400 40.2%,#b21f00 42.1%,#af1b00 44.1%,#ac1600 46%,#a91000 47.9%,#a60a00 49.8%,#a20300 51.7%,#9b0005 53.6%,#90000f 55.6%,#84001a 57.5%,#7a0022 58.9%,#760026 59.5%,#72002a 60.1%,#6d002e 60.6%,#690032 61.2%,#640034 61.8%,#5f0035 62.4%,#5a0037 62.9%,#540038 63.5%,#4d003a 64.1%,#46003c 64.7%,#3f003f 65.2%,#370041 65.8%,#2e0036 66.4%,#25002c 67%,#1c0021 67.5%,#120016 68.1%,#060007 68.7%,#000000 69.3%,#000000 69.8%,#000000 70.4%,#000000 71%,#000000 71.6%,#000000 72.1%,#000000 72.7%,#010001 73.3%,#080009 73.9%,#120015 74.4%,#1d0022 75%,#27002e 75.6%,#31003a 76.2%,#3b0040 76.7%,#44003d 77.3%,#4c003b 77.9%,#550038 78.5%,#5f0035 79%,#670032 79.6%,#6f002c 80.2%,#760026 80.8%,#7d0020 81.3%,#81001c 81.8%,#92000d 83.7%,#a30500 85.6%,#b01c00 87.6%,#bb3100 89.5%,#c44700 91.4%,#cc5d00 93.3%,#d47300 95.2%,#da8900 97.1%,#de9600 99.1%,#df9800 100%)"></i><i style="left:161px;background:linear-gradient(#df9a00 0%,#de9500 1.9%,#dc8f00 3.8%,#da8800 5.7%,#d78000 7.7%,#d67a00 9.6%,#d47500 11.5%,#d37100 13.4%,#d26d00 15.3%,#d06800 17.2%,#ce6300 19.2%,#cc5e00 21.1%,#ca5900 23%,#c85400 24.9%,#c64d00 26.8%,#c44700 28.7%,#c14000 30.7%,#bf3a00 32.6%,#bc3300 34.5%,#b92d00 36.4%,#b62800 38.3%,#b42300 40.2%,#b11e00 42.1%,#ae1a00 44.1%,#ac1500 46%,#a80f00 47.9%,#a50900 49.8%,#a10200 51.7%,#9a0006 53.6%,#8f000f 55.6%,#83001a 57.5%,#7a0023 58.9%,#760027 59.5%,#71002a 60.1%,#6d002f 60.6%,#680032 61.2%,#630034 61.8%,#5e0035 62.4%,#590037 62.9%,#530039 63.5%,#4c003b 64.1%,#46003d 64.7%,#3e003f 65.2%,#360040 65.8%,#2d0035 66.4%,#23002a 67%,#1a001e 67.5%,#0f0011 68.1%,#040005 68.7%,#000000 69.3%,#000000 69.8%,#000000 70.4%,#000000 71%,#000000 71.6%,#000000 72.1%,#000000 72.7%,#010001 73.3%,#08000a 73.9%,#130016 74.4%,#1d0022 75%,#27002e 75.6%,#300039 76.2%,#3a0040 76.7%,#42003e 77.3%,#4b003b 77.9%,#530039 78.5%,#5c0036 79%,#650033 79.6%,#6d002e 80.2%,#750027 80.8%,#7c0021 81.3%,#81001c 81.8%,#92000d 83.7%,#a30500 85.6%,#b01c00 87.6%,#bb3000 89.5%,#c44700 91.4%,#cc5d00 93.3%,#d47300 95.2%,#da8800 97.1%,#dd9400 99.1%,#de9600 100%)"></i><i style="left:163px;background:linear-gradient(#e09c00 0%,#de9600 1.9%,#dc9000 3.8%,#da8900 5.7%,#d88200 7.7%,#d67b00 9.6%,#d47600 11.5%,#d37100 13.4%,#d26d00 15.3%,#d06700 17.2%,#ce6300 19.2%,#cc5e00 21.1%,#ca5900 23%,#c85400 24.9%,#c64d00 26.8%,#c44700 28.7%,#c14100 30.7%,#bf3b00 32.6%,#bd3300 34.5%,#b92d00 36.4%,#b62800 38.3%,#b32300 40.2%,#b11e00 42.1%,#ae1900 44.1%,#ab1400 46%,#a80e00 47.9%,#a50900 49.8%,#a10200 51.7%,#990006 53.6%,#8e0010 55.6%,#82001b 57.5%,#790023 58.9%,#750027 59.5%,#71002b 60.1%,#6c002f 60.6%,#680032 61.2%,#630034 61.8%,#5e0035 62.4%,#580037 62.9%,#520039 63.5%,#4c003b 64.1%,#45003d 64.7%,#3e003f 65.2%,#35003f 65.8%,#2c0034 66.4%,#220028 67%,#17001c 67.5%,#0b000d 68.1%,#020003 68.7%,#000000 69.3%,#000000 69.8%,#000000 70.4%,#000000 71%,#000000 71.6%,#000000 72.1%,#000000 72.7%,#010001 73.3%,#09000b 73.9%,#140018 74.4%,#1d0023 75%,#27002e 75.6%,#300038 76.2%,#390041 76.7%,#41003e 77.3%,#49003c 77.9%,#520039 78.5%,#5b0036 79%,#630034 79.6%,#6b0030 80.2%,#730029 80.8%,#7b0022 81.3%,#80001d 81.8%,#92000d 83.7%,#a30500 85.6%,#af1c00 87.6%,#bb3000 89.5%,#c34600 91.4%,#cc5d00 93.3%,#d37300 95.2%,#da8700 97.1%,#dd9300 99.1%,#de9500 100%)"></i><i style="left:165px;background:linear-gradient(#e09d00 0%,#de9800 1.9%,#dd9100 3.8%,#da8a00 5.7%,#d88300 7.7%,#d67d00 9.6%,#d57700 11.5%,#d37200 13.4%,#d16d00 15.3%,#d06700 17.2%,#ce6200 19.2%,#cc5e00 21.1%,#ca5900 23%,#c85400 24.9%,#c64e00 26.8%,#c44800 28.7%,#c24200 30.7%,#bf3b00 32.6%,#bd3400 34.5%,#ba2e00 36.4%,#b62800 38.3%,#b32300 40.2%,#b01d00 42.1%,#ae1800 44.1%,#ab1300 46%,#a80e00 47.9%,#a40800 49.8%,#a10100 51.7%,#980007 53.6%,#8e0011 55.6%,#82001b 57.5%,#790024 58.9%,#750027 59.5%,#70002b 60.1%,#6c002f 60.6%,#670033 61.2%,#620034 61.8%,#5d0036 62.4%,#580037 62.9%,#520039 63.5%,#4b003b 64.1%,#45003d 64.7%,#3d003f 65.2%,#35003e 65.8%,#2b0032 66.4%,#210026 67%,#150019 67.5%,#08000a 68.1%,#010001 68.7%,#000000 69.3%,#000000 69.8%,#000000 70.4%,#000000 71%,#000000 71.6%,#000000 72.1%,#000000 72.7%,#010002 73.3%,#0a000c 73.9%,#150019 74.4%,#1e0023 75%,#27002e 75.6%,#2f0038 76.2%,#380041 76.7%,#40003e 77.3%,#48003c 77.9%,#510039 78.5%,#590037 79%,#620034 79.6%,#6a0031 80.2%,#72002a 80.8%,#7a0023 81.3%,#80001d 81.8%,#92000d 83.7%,#a30500 85.6%,#af1b00 87.6%,#bb3000 89.5%,#c34600 91.4%,#cc5d00 93.3%,#d37300 95.2%,#d98600 97.1%,#dd9100 99.1%,#dd9300 100%)"></i><i style="left:167px;background:linear-gradient(#e19f00 0%,#df9900 1.9%,#dd9200 3.8%,#db8b00 5.7%,#d98400 7.7%,#d77e00 9.6%,#d57800 11.5%,#d37200 13.4%,#d16d00 15.3%,#d06700 17.2%,#ce6200 19.2%,#cc5e00 21.1%,#ca5900 23%,#c85400 24.9%,#c64e00 26.8%,#c44800 28.7%,#c24200 30.7%,#c03c00 32.6%,#bd3500 34.5%,#ba2e00 36.4%,#b72800 38.3%,#b32200 40.2%,#b01d00 42.1%,#ad1800 44.1%,#ab1300 46%,#a80d00 47.9%,#a40700 49.8%,#a00000 51.7%,#970008 53.6%,#8d0011 55.6%,#81001c 57.5%,#780024 58.9%,#740028 59.5%,#70002c 60.1%,#6b0030 60.6%,#670033 61.2%,#620034 61.8%,#5d0036 62.4%,#570037 62.9%,#510039 63.5%,#4b003b 64.1%,#44003d 64.7%,#3d003f 65.2%,#34003d 65.8%,#2a0031 66.4%,#1f0025 67%,#140017 67.5%,#060008 68.1%,#000000 68.7%,#000000 69.3%,#000000 69.8%,#000000 70.4%,#000000 71%,#000000 71.6%,#000000 72.1%,#000000 72.7%,#020002 73.3%,#0a000c 73.9%,#16001a 74.4%,#1e0024 75%,#27002e 75.6%,#2f0038 76.2%,#370041 76.7%,#3f003e 77.3%,#48003c 77.9%,#50003a 78.5%,#580037 79%,#610035 79.6%,#690032 80.2%,#71002b 80.8%,#790023 81.3%,#7f001e 81.8%,#92000d 83.7%,#a20400 85.6%,#af1b00 87.6%,#ba2f00 89.5%,#c34600 91.4%,#cc5d00 93.3%,#d37300 95.2%,#d98500 97.1%,#dc9000 99.1%,#dd9200 100%)"></i><i style="left:169px;background:linear-gradient(#e1a100 0%,#df9a00 1.9%,#dd9300 3.8%,#db8c00 5.7%,#d98600 7.7%,#d77f00 9.6%,#d57900 11.5%,#d37200 13.4%,#d26d00 15.3%,#d06700 17.2%,#ce6200 19.2%,#cc5e00 21.1%,#ca5900 23%,#c85400 24.9%,#c64e00 26.8%,#c44900 28.7%,#c24300 30.7%,#c03d00 32.6%,#bd3500 34.5%,#ba2f00 36.4%,#b72800 38.3%,#b32200 40.2%,#b01d00 42.1%,#ad1800 44.1%,#ab1300 46%,#a70d00 47.9%,#a40700 49.8%,#a00000 51.7%,#970008 53.6%,#8c0012 55.6%,#81001c 57.5%,#780025 58.9%,#740028 59.5%,#70002c 60.1%,#6b0030 60.6%,#660033 61.2%,#620034 61.8%,#5c0036 62.4%,#570037 62.9%,#510039 63.5%,#4a003b 64.1%,#44003d 64.7%,#3c003f 65.2%,#33003c 65.8%,#280030 66.4%,#1e0023 67%,#120015 67.5%,#060007 68.1%,#000000 68.7%,#000000 69.3%,#000000 69.8%,#000000 70.4%,#000000 71%,#000000 71.6%,#000000 72.1%,#000000 72.7%,#020002 73.3%,#0b000d 73.9%,#16001a 74.4%,#1f0025 75%,#27002e 75.6%,#2f0038 76.2%,#370041 76.7%,#3f003f 77.3%,#47003c 77.9%,#50003a 78.5%,#580037 79%,#600035 79.6%,#680032 80.2%,#70002b 80.8%,#780024 81.3%,#7e001f 81.8%,#91000d 83.7%,#a20400 85.6%,#af1b00 87.6%,#ba2f00 89.5%,#c34500 91.4%,#cc5d00 93.3%,#d37200 95.2%,#d98400 97.1%,#dc8f00 99.1%,#dc9000 100%)"></i><i style="left:171px;background:linear-gradient(#e2a300 0%,#e09c00 1.9%,#de9500 3.8%,#dc8e00 5.7%,#da8800 7.7%,#d88100 9.6%,#d67a00 11.5%,#d47300 13.4%,#d26d00 15.3%,#d06800 17.2%,#ce6300 19.2%,#cc5e00 21.1%,#ca5a00 23%,#c95400 24.9%,#c74f00 26.8%,#c54a00 28.7%,#c24400 30.7%,#c03d00 32.6%,#be3600 34.5%,#ba2f00 36.4%,#b72900 38.3%,#b32300 40.2%,#b01d00 42.1%,#ad1800 44.1%,#ab1300 46%,#a70d00 47.9%,#a40600 49.8%,#9f0001 51.7%,#960009 53.6%,#8c0012 55.6%,#81001d 57.5%,#770025 58.9%,#730029 59.5%,#6f002c 60.1%,#6b0031 60.6%,#660033 61.2%,#610034 61.8%,#5c0036 62.4%,#560038 62.9%,#500039 63.5%,#4a003b 64.1%,#43003d 64.7%,#3b0040 65.2%,#32003b 65.8%,#27002e 66.4%,#1d0022 67%,#110014 67.5%,#050006 68.1%,#000000 68.7%,#000000 69.3%,#000000 69.8%,#000000 70.4%,#000000 71%,#000000 71.6%,#000000 72.1%,#000000 72.7%,#020002 73.3%,#0c000e 73.9%,#17001b 74.4%,#200025 75%,#27002e 75.6%,#2f0038 76.2%,#370041 76.7%,#3f003e 77.3%,#48003c 77.9%,#50003a 78.5%,#580037 79%,#600035 79.6%,#680032 80.2%,#70002c 80.8%,#780025 81.3%,#7e001f 81.8%,#91000e 83.7%,#a20300 85.6%,#af1a00 87.6%,#ba2e00 89.5%,#c34500 91.4%,#cc5d00 93.3%,#d37200 95.2%,#d88300 97.1%,#db8e00 99.1%,#dc8f00 100%)"></i><i style="left:173px;background:linear-gradient(#e2a500 0%,#e09e00 1.9%,#de9700 3.8%,#dc9000 5.7%,#da8a00 7.7%,#d88300 9.6%,#d67c00 11.5%,#d47500 13.4%,#d26f00 15.3%,#d06900 17.2%,#ce6400 19.2%,#cd6000 21.1%,#cb5b00 23%,#c95500 24.9%,#c75000 26.8%,#c54b00 28.7%,#c34500 30.7%,#c03e00 32.6%,#be3700 34.5%,#bb3000 36.4%,#b72900 38.3%,#b42300 40.2%,#b01d00 42.1%,#ae1800 44.1%,#ab1300 46%,#a70d00 47.9%,#a30600 49.8%,#9e0001 51.7%,#95000a 53.6%,#8b0013 55.6%,#80001d 57.5%,#770025 58.9%,#730029 59.5%,#6f002d 60.1%,#6a0031 60.6%,#660033 61.2%,#610034 61.8%,#5b0036 62.4%,#560038 62.9%,#50003a 63.5%,#49003c 64.1%,#42003e 64.7%,#3b0040 65.2%,#31003a 65.8%,#26002d 66.4%,#1b0020 67%,#100012 67.5%,#040005 68.1%,#000000 68.7%,#000000 69.3%,#000000 69.8%,#000000 70.4%,#000000 71%,#000000 71.6%,#000000 72.1%,#000000 72.7%,#020003 73.3%,#0c000e 73.9%,#18001c 74.4%,#200026 75%,#27002f 75.6%,#300038 76.2%,#380041 76.7%,#40003e 77.3%,#48003c 77.9%,#50003a 78.5%,#580037 79%,#600035 79.6%,#670032 80.2%,#6f002c 80.8%,#770025 81.3%,#7d0020 81.8%,#91000e 83.7%,#a20300 85.6%,#ae1a00 87.6%,#b92d00 89.5%,#c34400 91.4%,#cc5d00 93.3%,#d37100 95.2%,#d88200 97.1%,#db8c00 99.1%,#dc8e00 100%)"></i><i style="left:175px;background:linear-gradient(#e3a700 0%,#e1a000 1.9%,#df9900 3.8%,#dd9200 5.7%,#db8c00 7.7%,#d98500 9.6%,#d77e00 11.5%,#d57600 13.4%,#d37000 15.3%,#d16b00 17.2%,#cf6600 19.2%,#cd6100 21.1%,#cb5c00 23%,#c95700 24.9%,#c85200 26.8%,#c64c00 28.7%,#c34600 30.7%,#c13f00 32.6%,#be3800 34.5%,#bb3100 36.4%,#b72900 38.3%,#b42300 40.2%,#b11e00 42.1%,#ae1900 44.1%,#ab1300 46%,#a70d00 47.9%,#a30500 49.8%,#9e0002 51.7%,#95000a 53.6%,#8b0013 55.6%,#80001d 57.5%,#770026 58.9%,#730029 59.5%,#6e002d 60.1%,#6a0031 60.6%,#650033 61.2%,#600035 61.8%,#5b0036 62.4%,#550038 62.9%,#4f003a 63.5%,#49003c 64.1%,#42003e 64.7%,#3a0040 65.2%,#300039 65.8%,#25002c 66.4%,#1a001f 67%,#0e0011 67.5%,#040004 68.1%,#000000 68.7%,#000000 69.3%,#000000 69.8%,#000000 70.4%,#000000 71%,#000000 71.6%,#000000 72.1%,#000000 72.7%,#030003 73.3%,#0d000f 73.9%,#18001d 74.4%,#210027 75%,#28002f 75.6%,#300039 76.2%,#380041 76.7%,#40003e 77.3%,#48003c 77.9%,#500039 78.5%,#580037 79%,#600035 79.6%,#670033 80.2%,#6f002d 80.8%,#760026 81.3%,#7c0020 81.8%,#90000f 83.7%,#a10200 85.6%,#ae1900 87.6%,#b92d00 89.5%,#c24400 91.4%,#cb5c00 93.3%,#d37100 95.2%,#d88100 97.1%,#db8b00 99.1%,#db8d00 100%)"></i><i style="left:177px;background:linear-gradient(#e4a900 0%,#e2a300 1.9%,#e09b00 3.8%,#de9500 5.7%,#dc8f00 7.7%,#da8800 9.6%,#d78000 11.5%,#d57900 13.4%,#d37200 15.3%,#d26d00 17.2%,#d06800 19.2%,#ce6300 21.1%,#cc5e00 23%,#ca5800 24.9%,#c85300 26.8%,#c64d00 28.7%,#c44700 30.7%,#c14100 32.6%,#bf3900 34.5%,#bc3200 36.4%,#b82a00 38.3%,#b42400 40.2%,#b11e00 42.1%,#ae1900 44.1%,#ab1300 46%,#a70d00 47.9%,#a30500 49.8%,#9d0003 51.7%,#94000b 53.6%,#8a0014 55.6%,#7f001e 57.5%,#760026 58.9%,#72002a 59.5%,#6e002d 60.1%,#690032 60.6%,#650033 61.2%,#600035 61.8%,#5a0036 62.4%,#550038 62.9%,#4e003a 63.5%,#48003c 64.1%,#41003e 64.7%,#390040 65.2%,#2f0038 65.8%,#24002a 66.4%,#19001d 67%,#0d0010 67.5%,#030004 68.1%,#000000 68.7%,#000000 69.3%,#000000 69.8%,#000000 70.4%,#000000 71%,#000000 71.6%,#000000 72.1%,#000000 72.7%,#030003 73.3%,#0d0010 73.9%,#19001e 74.4%,#220028 75%,#290030 75.6%,#31003a 76.2%,#390041 76.7%,#40003e 77.3%,#48003c 77.9%,#500039 78.5%,#580037 79%,#600035 79.6%,#670033 80.2%,#6e002d 80.8%,#750027 81.3%,#7c0021 81.8%,#8f000f 83.7%,#a10200 85.6%,#ad1800 87.6%,#b92c00 89.5%,#c24300 91.4%,#cb5b00 93.3%,#d37000 95.2%,#d78000 97.1%,#da8a00 99.1%,#db8c00 100%)"></i><i style="left:179px;background:linear-gradient(#e5ac00 0%,#e3a500 1.9%,#e09e00 3.8%,#de9800 5.7%,#dd9200 7.7%,#db8b00 9.6%,#d88300 11.5%,#d67b00 13.4%,#d47500 15.3%,#d27000 17.2%,#d16b00 19.2%,#cf6500 21.1%,#cd6000 23%,#cb5a00 24.9%,#c95500 26.8%,#c74f00 28.7%,#c44900 30.7%,#c24200 32.6%,#bf3a00 34.5%,#bc3300 36.4%,#b82b00 38.3%,#b42500 40.2%,#b11f00 42.1%,#ae1900 44.1%,#ab1400 46%,#a70d00 47.9%,#a30500 49.8%,#9c0003 51.7%,#94000b 53.6%,#8a0014 55.6%,#7f001e 57.5%,#760026 58.9%,#72002a 59.5%,#6e002e 60.1%,#690032 60.6%,#650033 61.2%,#600035 61.8%,#5a0036 62.4%,#540038 62.9%,#4e003a 63.5%,#47003c 64.1%,#40003e 64.7%,#390041 65.2%,#2e0037 65.8%,#230029 66.4%,#17001c 67%,#0c000e 67.5%,#030003 68.1%,#000000 68.7%,#000000 69.3%,#000000 69.8%,#000000 70.4%,#000000 71%,#000000 71.6%,#000000 72.1%,#000000 72.7%,#030004 73.3%,#0e0010 73.9%,#1a001f 74.4%,#230029 75%,#2a0031 75.6%,#31003a 76.2%,#390040 76.7%,#41003e 77.3%,#49003c 77.9%,#500039 78.5%,#580037 79%,#600035 79.6%,#660033 80.2%,#6e002e 80.8%,#750027 81.3%,#7b0022 81.8%,#8f0010 83.7%,#a00100 85.6%,#ad1700 87.6%,#b82b00 89.5%,#c24200 91.4%,#cb5a00 93.3%,#d26f00 95.2%,#d77f00 97.1%,#da8900 99.1%,#db8b00 100%)"></i><i style="left:181px;background:linear-gradient(#e5af00 0%,#e3a800 1.9%,#e1a100 3.8%,#df9b00 5.7%,#de9500 7.7%,#dc8e00 9.6%,#d98600 11.5%,#d77e00 13.4%,#d57700 15.3%,#d37200 17.2%,#d26d00 19.2%,#d06800 21.1%,#ce6200 23%,#cc5c00 24.9%,#ca5700 26.8%,#c75100 28.7%,#c54a00 30.7%,#c24300 32.6%,#c03c00 34.5%,#bd3400 36.4%,#b92c00 38.3%,#b52500 40.2%,#b21f00 42.1%,#ae1a00 44.1%,#ab1400 46%,#a70d00 47.9%,#a20400 49.8%,#9c0004 51.7%,#93000c 53.6%,#890015 55.6%,#7f001e 57.5%,#760027 58.9%,#72002a 59.5%,#6d002e 60.1%,#690032 60.6%,#640033 61.2%,#5f0035 61.8%,#5a0037 62.4%,#540038 62.9%,#4d003a 63.5%,#47003c 64.1%,#40003e 64.7%,#380041 65.2%,#2d0036 65.8%,#220028 66.4%,#16001a 67%,#0b000d 67.5%,#020003 68.1%,#000000 68.7%,#000000 69.3%,#000000 69.8%,#000000 70.4%,#000000 71%,#000000 71.6%,#000000 72.1%,#000000 72.7%,#030004 73.3%,#0e0011 73.9%,#1b0020 74.4%,#24002a 75%,#2a0032 75.6%,#32003b 76.2%,#3a0040 76.7%,#41003e 77.3%,#49003c 77.9%,#510039 78.5%,#580037 79%,#600035 79.6%,#660033 80.2%,#6d002e 80.8%,#740028 81.3%,#7a0023 81.8%,#8e0011 83.7%,#a00000 85.6%,#ac1600 87.6%,#b82a00 89.5%,#c24100 91.4%,#ca5900 93.3%,#d26e00 95.2%,#d77e00 97.1%,#da8800 99.1%,#db8b00 100%)"></i><i style="left:183px;background:linear-gradient(#e6b100 0%,#e4ab00 1.9%,#e2a400 3.8%,#e09e00 5.7%,#df9800 7.7%,#dc9100 9.6%,#da8900 11.5%,#d88100 13.4%,#d67a00 15.3%,#d47500 17.2%,#d37000 19.2%,#d16b00 21.1%,#cf6500 23%,#cc5f00 24.9%,#ca5900 26.8%,#c85300 28.7%,#c54c00 30.7%,#c34400 32.6%,#c03d00 34.5%,#bd3500 36.4%,#b92d00 38.3%,#b52600 40.2%,#b22000 42.1%,#af1a00 44.1%,#ab1400 46%,#a70d00 47.9%,#a20400 49.8%,#9b0004 51.7%,#92000c 53.6%,#890015 55.6%,#7e001f 57.5%,#750027 58.9%,#71002a 59.5%,#6d002e 60.1%,#690032 60.6%,#640034 61.2%,#5f0035 61.8%,#590037 62.4%,#530039 62.9%,#4d003a 63.5%,#46003c 64.1%,#3f003f 64.7%,#370041 65.2%,#2c0034 65.8%,#210026 66.4%,#150019 67%,#0a000c 67.5%,#020002 68.1%,#000000 68.7%,#000000 69.3%,#000000 69.8%,#000000 70.4%,#000000 71%,#000000 71.6%,#000000 72.1%,#000000 72.7%,#040004 73.3%,#0f0011 73.9%,#1b0020 74.4%,#24002b 75%,#2b0033 75.6%,#33003d 76.2%,#3b0040 76.7%,#42003e 77.3%,#49003b 77.9%,#510039 78.5%,#580037 79%,#600035 79.6%,#660033 80.2%,#6d002f 80.8%,#740028 81.3%,#790023 81.8%,#8d0011 83.7%,#9f0001 85.6%,#ac1500 87.6%,#b72a00 89.5%,#c14000 91.4%,#ca5800 93.3%,#d26d00 95.2%,#d67d00 97.1%,#da8700 99.1%,#da8a00 100%)"></i><i style="left:185px;background:linear-gradient(#e7b400 0%,#e5ae00 1.9%,#e3a700 3.8%,#e1a100 5.7%,#e09b00 7.7%,#dd9400 9.6%,#db8c00 11.5%,#d98400 13.4%,#d67d00 15.3%,#d57700 17.2%,#d37300 19.2%,#d26e00 21.1%,#d06800 23%,#cd6100 24.9%,#cb5b00 26.8%,#c95400 28.7%,#c64d00 30.7%,#c34600 32.6%,#c03e00 34.5%,#bd3600 36.4%,#ba2e00 38.3%,#b62700 40.2%,#b22100 42.1%,#af1b00 44.1%,#ab1400 46%,#a70d00 47.9%,#a20300 49.8%,#9b0005 51.7%,#92000d 53.6%,#890015 55.6%,#7e001f 57.5%,#750027 58.9%,#71002b 59.5%,#6d002f 60.1%,#680032 60.6%,#640034 61.2%,#5e0035 61.8%,#590037 62.4%,#530039 62.9%,#4c003b 63.5%,#46003d 64.1%,#3f003f 64.7%,#370040 65.2%,#2c0033 65.8%,#1f0025 66.4%,#140017 67%,#09000b 67.5%,#020002 68.1%,#000000 68.7%,#000000 69.3%,#000000 69.8%,#000000 70.4%,#000000 71%,#000000 71.6%,#000000 72.1%,#000000 72.7%,#040005 73.3%,#0f0012 73.9%,#1c0021 74.4%,#25002c 75%,#2c0034 75.6%,#34003e 76.2%,#3b0040 76.7%,#43003e 77.3%,#4a003b 77.9%,#510039 78.5%,#590037 79%,#5f0035 79.6%,#660033 80.2%,#6c002f 80.8%,#730029 81.3%,#790024 81.8%,#8c0012 83.7%,#9e0002 85.6%,#ab1400 87.6%,#b72900 89.5%,#c13f00 91.4%,#ca5700 93.3%,#d16c00 95.2%,#d67c00 97.1%,#d98600 99.1%,#da8900 100%)"></i><i style="left:187px;background:linear-gradient(#e8b600 0%,#e6b100 1.9%,#e4aa00 3.8%,#e2a400 5.7%,#e09e00 7.7%,#de9700 9.6%,#dc8f00 11.5%,#d98700 13.4%,#d78000 15.3%,#d67a00 17.2%,#d47500 19.2%,#d37000 21.1%,#d16a00 23%,#ce6400 24.9%,#cc5d00 26.8%,#c95600 28.7%,#c74f00 30.7%,#c44700 32.6%,#c13f00 34.5%,#be3700 36.4%,#ba2f00 38.3%,#b62800 40.2%,#b32100 42.1%,#af1b00 44.1%,#ac1500 46%,#a70d00 47.9%,#a20300 49.8%,#9a0005 51.7%,#91000d 53.6%,#880016 55.6%,#7d001f 57.5%,#750027 58.9%,#71002b 59.5%,#6c002f 60.1%,#680032 60.6%,#630034 61.2%,#5e0035 61.8%,#580037 62.4%,#520039 62.9%,#4c003b 63.5%,#45003d 64.1%,#3e003f 64.7%,#360040 65.2%,#2b0032 65.8%,#1e0024 66.4%,#130016 67%,#080009 67.5%,#010002 68.1%,#000000 68.7%,#000000 69.3%,#000000 69.8%,#000000 70.4%,#000000 71%,#000000 71.6%,#000000 72.1%,#000000 72.7%,#040005 73.3%,#100013 73.9%,#1d0022 74.4%,#26002d 75%,#2d0036 75.6%,#35003f 76.2%,#3c003f 76.7%,#43003d 77.3%,#4a003b 77.9%,#510039 78.5%,#590037 79%,#5f0035 79.6%,#650033 80.2%,#6c0030 80.8%,#72002a 81.3%,#780025 81.8%,#8b0013 83.7%,#9d0002 85.6%,#ab1300 87.6%,#b72800 89.5%,#c13e00 91.4%,#c95600 93.3%,#d16b00 95.2%,#d67a00 97.1%,#d98500 99.1%,#da8800 100%)"></i><i style="left:189px;background:linear-gradient(#e8b900 0%,#e7b300 1.9%,#e5ad00 3.8%,#e3a700 5.7%,#e1a100 7.7%,#df9a00 9.6%,#dd9200 11.5%,#da8a00 13.4%,#d88300 15.3%,#d67d00 17.2%,#d57800 19.2%,#d37200 21.1%,#d26d00 23%,#cf6600 24.9%,#cd5f00 26.8%,#ca5800 28.7%,#c75000 30.7%,#c44800 32.6%,#c14000 34.5%,#be3800 36.4%,#bb2f00 38.3%,#b72900 40.2%,#b32200 42.1%,#b01c00 44.1%,#ac1500 46%,#a70d00 47.9%,#a10300 49.8%,#9a0006 51.7%,#91000e 53.6%,#880016 55.6%,#7d0020 57.5%,#740028 58.9%,#70002b 59.5%,#6c002f 60.1%,#680032 60.6%,#630034 61.2%,#5e0035 61.8%,#580037 62.4%,#520039 62.9%,#4b003b 63.5%,#45003d 64.1%,#3d003f 64.7%,#35003f 65.2%,#2a0031 65.8%,#1d0023 66.4%,#120015 67%,#070008 67.5%,#010001 68.1%,#000000 68.7%,#000000 69.3%,#000000 69.8%,#000000 70.4%,#000000 71%,#000000 71.6%,#000000 72.1%,#000000 72.7%,#040005 73.3%,#100013 73.9%,#1e0023 74.4%,#27002e 75%,#2e0037 75.6%,#360040 76.2%,#3d003f 76.7%,#44003d 77.3%,#4b003b 77.9%,#520039 78.5%,#590037 79%,#5f0035 79.6%,#650033 80.2%,#6b0030 80.8%,#72002a 81.3%,#770025 81.8%,#8a0014 83.7%,#9d0003 85.6%,#aa1200 87.6%,#b62800 89.5%,#c03e00 91.4%,#c95500 93.3%,#d06a00 95.2%,#d57900 97.1%,#d98500 99.1%,#da8700 100%)"></i><i style="left:191px;background:linear-gradient(#e9bb00 0%,#e8b600 1.9%,#e6b000 3.8%,#e4aa00 5.7%,#e2a400 7.7%,#e09d00 9.6%,#de9500 11.5%,#db8d00 13.4%,#d98500 15.3%,#d77f00 17.2%,#d67a00 19.2%,#d47500 21.1%,#d26f00 23%,#d06800 24.9%,#cd6100 26.8%,#ca5900 28.7%,#c85200 30.7%,#c54a00 32.6%,#c24100 34.5%,#bf3900 36.4%,#bb3000 38.3%,#b72900 40.2%,#b32300 42.1%,#b01c00 44.1%,#ac1500 46%,#a70d00 47.9%,#a10200 49.8%,#990006 51.7%,#90000e 53.6%,#870016 55.6%,#7d0020 57.5%,#740028 58.9%,#70002c 59.5%,#6c002f 60.1%,#670032 60.6%,#630034 61.2%,#5e0035 61.8%,#580037 62.4%,#520039 62.9%,#4b003b 63.5%,#44003d 64.1%,#3d003f 64.7%,#34003e 65.2%,#290030 65.8%,#1c0022 66.4%,#110014 67%,#060008 67.5%,#010001 68.1%,#000000 68.7%,#000000 69.3%,#000000 69.8%,#000000 70.4%,#000000 71%,#000000 71.6%,#000000 72.1%,#000000 72.7%,#050005 73.3%,#110014 73.9%,#1e0024 74.4%,#28002f 75%,#300038 75.6%,#370041 76.2%,#3e003f 76.7%,#45003d 77.3%,#4b003b 77.9%,#520039 78.5%,#590037 79%,#5f0035 79.6%,#650033 80.2%,#6b0030 80.8%,#71002a 81.3%,#770026 81.8%,#8a0014 83.7%,#9c0004 85.6%,#aa1100 87.6%,#b62700 89.5%,#c03d00 91.4%,#c85400 93.3%,#d06800 95.2%,#d57800 97.1%,#d98400 99.1%,#d98700 100%)"></i><i style="left:193px;background:linear-gradient(#eabd00 0%,#e8b800 1.9%,#e6b200 3.8%,#e5ac00 5.7%,#e3a600 7.7%,#e19f00 9.6%,#de9700 11.5%,#dc8f00 13.4%,#da8800 15.3%,#d88200 17.2%,#d67c00 19.2%,#d57700 21.1%,#d37100 23%,#d16a00 24.9%,#ce6300 26.8%,#cb5b00 28.7%,#c85300 30.7%,#c54b00 32.6%,#c24200 34.5%,#bf3a00 36.4%,#bc3100 38.3%,#b82a00 40.2%,#b42300 42.1%,#b01d00 44.1%,#ac1600 46%,#a70d00 47.9%,#a10200 49.8%,#990007 51.7%,#90000e 53.6%,#870017 55.6%,#7d0020 57.5%,#740028 58.9%,#70002c 59.5%,#6c0030 60.1%,#670033 60.6%,#630034 61.2%,#5d0036 61.8%,#570037 62.4%,#510039 62.9%,#4a003b 63.5%,#44003d 64.1%,#3c003f 64.7%,#34003d 65.2%,#280030 65.8%,#1c0021 66.4%,#100012 67%,#060007 67.5%,#010001 68.1%,#000000 68.7%,#000000 69.3%,#000000 69.8%,#000000 70.4%,#000000 71%,#000000 71.6%,#000000 72.1%,#000000 72.7%,#050006 73.3%,#110014 73.9%,#1f0024 74.4%,#290030 75%,#310039 75.6%,#380041 76.2%,#3f003f 76.7%,#45003d 77.3%,#4c003b 77.9%,#520039 78.5%,#590037 79%,#5f0035 79.6%,#650033 80.2%,#6b0030 80.8%,#71002b 81.3%,#760026 81.8%,#890015 83.7%,#9b0004 85.6%,#a91000 87.6%,#b52600 89.5%,#c03c00 91.4%,#c85300 93.3%,#cf6700 95.2%,#d57700 97.1%,#d88300 99.1%,#d98600 100%)"></i><i style="left:195px;background:linear-gradient(#eabf00 0%,#e9ba00 1.9%,#e7b400 3.8%,#e5af00 5.7%,#e4a800 7.7%,#e1a100 9.6%,#df9900 11.5%,#dd9100 13.4%,#da8a00 15.3%,#d98400 17.2%,#d77e00 19.2%,#d57900 21.1%,#d37300 23%,#d16c00 24.9%,#cf6500 26.8%,#cc5c00 28.7%,#c85400 30.7%,#c54c00 32.6%,#c24300 34.5%,#bf3b00 36.4%,#bc3200 38.3%,#b82b00 40.2%,#b42400 42.1%,#b01d00 44.1%,#ac1600 46%,#a70d00 47.9%,#a10200 49.8%,#980007 51.7%,#90000f 53.6%,#870017 55.6%,#7c0020 57.5%,#740028 58.9%,#70002c 59.5%,#6b0030 60.1%,#670033 60.6%,#620034 61.2%,#5d0036 61.8%,#570037 62.4%,#510039 62.9%,#4a003b 63.5%,#43003d 64.1%,#3c0040 64.7%,#33003d 65.2%,#28002f 65.8%,#1b0020 66.4%,#0f0011 67%,#050006 67.5%,#000000 68.1%,#000000 68.7%,#000000 69.3%,#000000 69.8%,#000000 70.4%,#000000 71%,#000000 71.6%,#000000 72.1%,#000000 72.7%,#050006 73.3%,#110015 73.9%,#1f0025 74.4%,#2a0031 75%,#31003a 75.6%,#390040 76.2%,#3f003e 76.7%,#46003d 77.3%,#4c003b 77.9%,#530039 78.5%,#590037 79%,#5f0035 79.6%,#650033 80.2%,#6a0031 80.8%,#71002b 81.3%,#760027 81.8%,#880015 83.7%,#9b0005 85.6%,#a91000 87.6%,#b52600 89.5%,#bf3b00 91.4%,#c85200 93.3%,#cf6600 95.2%,#d47600 97.1%,#d88200 99.1%,#d98500 100%)"></i><i style="left:197px;background:linear-gradient(#ebc100 0%,#e9bc00 1.9%,#e8b600 3.8%,#e6b000 5.7%,#e4aa00 7.7%,#e2a300 9.6%,#e09b00 11.5%,#dd9300 13.4%,#db8c00 15.3%,#d98600 17.2%,#d78000 19.2%,#d67a00 21.1%,#d47400 23%,#d26e00 24.9%,#cf6600 26.8%,#cc5d00 28.7%,#c95500 30.7%,#c64c00 32.6%,#c34400 34.5%,#bf3b00 36.4%,#bc3300 38.3%,#b82b00 40.2%,#b42400 42.1%,#b11e00 44.1%,#ac1600 46%,#a70d00 47.9%,#a10100 49.8%,#980007 51.7%,#8f000f 53.6%,#870017 55.6%,#7c0021 57.5%,#730029 58.9%,#6f002c 59.5%,#6b0030 60.1%,#670033 60.6%,#620034 61.2%,#5d0036 61.8%,#570037 62.4%,#500039 62.9%,#4a003b 63.5%,#43003e 64.1%,#3b0040 64.7%,#33003c 65.2%,#27002e 65.8%,#1a001f 66.4%,#0e0011 67%,#050005 67.5%,#000000 68.1%,#000000 68.7%,#000000 69.3%,#000000 69.8%,#000000 70.4%,#000000 71%,#000000 71.6%,#000000 72.1%,#000000 72.7%,#050006 73.3%,#120015 73.9%,#200026 74.4%,#2a0032 75%,#32003b 75.6%,#3a0040 76.2%,#40003e 76.7%,#46003c 77.3%,#4d003a 77.9%,#530039 78.5%,#590037 79%,#5f0035 79.6%,#650033 80.2%,#6a0031 80.8%,#70002b 81.3%,#750027 81.8%,#880016 83.7%,#9a0005 85.6%,#a80f00 87.6%,#b52500 89.5%,#bf3b00 91.4%,#c75100 93.3%,#cf6500 95.2%,#d47500 97.1%,#d88100 99.1%,#d98400 100%)"></i><i style="left:199px;background:linear-gradient(#ebc200 0%,#eabd00 1.9%,#e8b800 3.8%,#e6b200 5.7%,#e5ac00 7.7%,#e2a500 9.6%,#e09d00 11.5%,#de9500 13.4%,#dc8e00 15.3%,#da8700 17.2%,#d88200 19.2%,#d67c00 21.1%,#d47600 23%,#d26f00 24.9%,#cf6700 26.8%,#cc5e00 28.7%,#c95600 30.7%,#c64d00 32.6%,#c34400 34.5%,#c03c00 36.4%,#bc3300 38.3%,#b82c00 40.2%,#b52500 42.1%,#b11e00 44.1%,#ac1600 46%,#a70d00 47.9%,#a10100 49.8%,#980008 51.7%,#8f000f 53.6%,#870017 55.6%,#7c0021 57.5%,#730029 58.9%,#6f002c 59.5%,#6b0030 60.1%,#670033 60.6%,#620034 61.2%,#5d0036 61.8%,#570038 62.4%,#500039 62.9%,#49003b 63.5%,#42003e 64.1%,#3b0040 64.7%,#32003b 65.2%,#26002d 65.8%,#19001e 66.4%,#0d0010 67%,#040005 67.5%,#000000 68.1%,#000000 68.7%,#000000 69.3%,#000000 69.8%,#000000 70.4%,#000000 71%,#000000 71.6%,#000000 72.1%,#000000 72.7%,#060007 73.3%,#120015 73.9%,#200026 74.4%,#2b0033 75%,#33003c 75.6%,#3a0040 76.2%,#41003e 76.7%,#47003c 77.3%,#4d003a 77.9%,#530039 78.5%,#590037 79%,#5f0035 79.6%,#650033 80.2%,#6a0031 80.8%,#70002c 81.3%,#750027 81.8%,#870016 83.7%,#9a0006 85.6%,#a80e00 87.6%,#b52500 89.5%,#bf3a00 91.4%,#c75000 93.3%,#ce6400 95.2%,#d47400 97.1%,#d88000 99.1%,#d88400 100%)"></i><i style="left:201px;background:linear-gradient(#ebc300 0%,#eabe00 1.9%,#e8b900 3.8%,#e7b300 5.7%,#e5ad00 7.7%,#e3a600 9.6%,#e09e00 11.5%,#de9600 13.4%,#dc8f00 15.3%,#da8800 17.2%,#d88200 19.2%,#d67c00 21.1%,#d47600 23%,#d37000 24.9%,#d06800 26.8%,#cc5f00 28.7%,#c95600 30.7%,#c64d00 32.6%,#c34500 34.5%,#c03c00 36.4%,#bd3400 38.3%,#b92c00 40.2%,#b52500 42.1%,#b11e00 44.1%,#ac1600 46%,#a70c00 47.9%,#a00100 49.8%,#970008 51.7%,#8f000f 53.6%,#860017 55.6%,#7c0021 57.5%,#730029 58.9%,#6f002d 59.5%,#6b0030 60.1%,#660033 60.6%,#620034 61.2%,#5c0036 61.8%,#560038 62.4%,#50003a 62.9%,#49003c 63.5%,#42003e 64.1%,#3a0040 64.7%,#32003b 65.2%,#26002d 65.8%,#19001d 66.4%,#0d000f 67%,#040004 67.5%,#000000 68.1%,#000000 68.7%,#000000 69.3%,#000000 69.8%,#000000 70.4%,#000000 71%,#000000 71.6%,#000000 72.1%,#000000 72.7%,#060007 73.3%,#130016 73.9%,#210027 74.4%,#2b0033 75%,#34003d 75.6%,#3b0040 76.2%,#41003e 76.7%,#47003c 77.3%,#4e003a 77.9%,#540038 78.5%,#590037 79%,#5f0035 79.6%,#650033 80.2%,#6a0031 80.8%,#70002c 81.3%,#750027 81.8%,#870017 83.7%,#990006 85.6%,#a80e00 87.6%,#b42400 89.5%,#bf3900 91.4%,#c74f00 93.3%,#ce6300 95.2%,#d47400 97.1%,#d78000 99.1%,#d88300 100%)"></i><i style="left:203px;background:linear-gradient(#ebc300 0%,#eabf00 1.9%,#e9b900 3.8%,#e7b400 5.7%,#e5ad00 7.7%,#e3a600 9.6%,#e09e00 11.5%,#de9600 13.4%,#dc8f00 15.3%,#da8900 17.2%,#d88300 19.2%,#d67d00 21.1%,#d57700 23%,#d37000 24.9%,#d06800 26.8%,#cd5f00 28.7%,#c95600 30.7%,#c64e00 32.6%,#c34500 34.5%,#c03c00 36.4%,#bd3400 38.3%,#b92c00 40.2%,#b52500 42.1%,#b11e00 44.1%,#ac1600 46%,#a70c00 47.9%,#a00100 49.8%,#970008 51.7%,#8f000f 53.6%,#860017 55.6%,#7c0021 57.5%,#730029 58.9%,#6f002d 59.5%,#6b0031 60.1%,#660033 60.6%,#610034 61.2%,#5c0036 61.8%,#560038 62.4%,#50003a 62.9%,#49003c 63.5%,#42003e 64.1%,#3a0040 64.7%,#31003a 65.2%,#25002c 65.8%,#18001d 66.4%,#0c000e 67%,#030004 67.5%,#000000 68.1%,#000000 68.7%,#000000 69.3%,#000000 69.8%,#000000 70.4%,#000000 71%,#000000 71.6%,#000000 72.1%,#000000 72.7%,#060007 73.3%,#130016 73.9%,#210027 74.4%,#2c0034 75%,#34003d 75.6%,#3b0040 76.2%,#42003e 76.7%,#48003c 77.3%,#4e003a 77.9%,#540038 78.5%,#5a0037 79%,#5f0035 79.6%,#650033 80.2%,#6a0031 80.8%,#70002c 81.3%,#750028 81.8%,#870017 83.7%,#990006 85.6%,#a80e00 87.6%,#b42400 89.5%,#bf3900 91.4%,#c64e00 93.3%,#ce6200 95.2%,#d37300 97.1%,#d77f00 99.1%,#d88200 100%)"></i><i style="left:205px;background:linear-gradient(#ebc300 0%,#eabf00 1.9%,#e9b900 3.8%,#e7b400 5.7%,#e5ad00 7.7%,#e3a600 9.6%,#e09e00 11.5%,#de9700 13.4%,#dc8f00 15.3%,#da8900 17.2%,#d88300 19.2%,#d67d00 21.1%,#d57700 23%,#d37000 24.9%,#d06800 26.8%,#cd5f00 28.7%,#c95600 30.7%,#c64e00 32.6%,#c34500 34.5%,#c03c00 36.4%,#bd3400 38.3%,#b92c00 40.2%,#b52500 42.1%,#b11e00 44.1%,#ac1600 46%,#a70c00 47.9%,#a00000 49.8%,#970008 51.7%,#8f0010 53.6%,#860017 55.6%,#7c0021 57.5%,#730029 58.9%,#6f002d 59.5%,#6a0031 60.1%,#660033 60.6%,#610034 61.2%,#5c0036 61.8%,#560038 62.4%,#4f003a 62.9%,#48003c 63.5%,#41003e 64.1%,#3a0040 64.7%,#31003a 65.2%,#25002c 65.8%,#18001c 66.4%,#0c000e 67%,#030004 67.5%,#000000 68.1%,#000000 68.7%,#000000 69.3%,#000000 69.8%,#000000 70.4%,#000000 71%,#000000 71.6%,#000000 72.1%,#000000 72.7%,#060007 73.3%,#130017 73.9%,#210027 74.4%,#2c0034 75%,#34003e 75.6%,#3b0040 76.2%,#42003e 76.7%,#48003c 77.3%,#4e003a 77.9%,#540038 78.5%,#5a0037 79%,#5f0035 79.6%,#650033 80.2%,#6a0031 80.8%,#70002c 81.3%,#750028 81.8%,#870017 83.7%,#990006 85.6%,#a80e00 87.6%,#b42400 89.5%,#bf3900 91.4%,#c64e00 93.3%,#cd6200 95.2%,#d37200 97.1%,#d77e00 99.1%,#d88100 100%)"></i><i style="left:207px;background:linear-gradient(#ebc300 0%,#eabf00 1.9%,#e9b900 3.8%,#e7b300 5.7%,#e5ad00 7.7%,#e3a600 9.6%,#e09e00 11.5%,#de9700 13.4%,#dc9000 15.3%,#da8900 17.2%,#d88300 19.2%,#d67d00 21.1%,#d57700 23%,#d37000 24.9%,#d06800 26.8%,#cd5f00 28.7%,#c95600 30.7%,#c64e00 32.6%,#c34500 34.5%,#c03c00 36.4%,#bd3400 38.3%,#b92c00 40.2%,#b52500 42.1%,#b11e00 44.1%,#ac1600 46%,#a70c00 47.9%,#a00000 49.8%,#970008 51.7%,#8f0010 53.6%,#860017 55.6%,#7c0021 57.5%,#730029 58.9%,#6f002d 59.5%,#6a0031 60.1%,#660033 60.6%,#610034 61.2%,#5c0036 61.8%,#560038 62.4%,#4f003a 62.9%,#48003c 63.5%,#41003e 64.1%,#390040 64.7%,#300039 65.2%,#24002b 65.8%,#17001c 66.4%,#0b000e 67%,#030004 67.5%,#000000 68.1%,#000000 68.7%,#000000 69.3%,#000000 69.8%,#000000 70.4%,#000000 71%,#000000 71.6%,#000000 72.1%,#000000 72.7%,#060008 73.3%,#130017 73.9%,#220028 74.4%,#2c0034 75%,#35003e 75.6%,#3c0040 76.2%,#42003e 76.7%,#48003c 77.3%,#4e003a 77.9%,#540038 78.5%,#5a0037 79%,#5f0035 79.6%,#650033 80.2%,#6a0031 80.8%,#70002c 81.3%,#750027 81.8%,#870017 83.7%,#990006 85.6%,#a80d00 87.6%,#b42400 89.5%,#be3900 91.4%,#c64e00 93.3%,#cd6100 95.2%,#d37200 97.1%,#d77d00 99.1%,#d88100 100%)"></i><i style="left:209px;background:linear-gradient(#ebc300 0%,#eabe00 1.9%,#e9b900 3.8%,#e7b300 5.7%,#e5ad00 7.7%,#e3a600 9.6%,#e09e00 11.5%,#de9700 13.4%,#dc9000 15.3%,#da8900 17.2%,#d88300 19.2%,#d67d00 21.1%,#d57700 23%,#d37000 24.9%,#d06800 26.8%,#cd5f00 28.7%,#c95600 30.7%,#c64d00 32.6%,#c34500 34.5%,#c03c00 36.4%,#bd3400 38.3%,#b92c00 40.2%,#b52500 42.1%,#b11e00 44.1%,#ac1600 46%,#a70c00 47.9%,#a00000 49.8%,#970008 51.7%,#8f0010 53.6%,#860017 55.6%,#7c0021 57.5%,#720029 58.9%,#6e002d 59.5%,#6a0031 60.1%,#660033 60.6%,#610034 61.2%,#5b0036 61.8%,#550038 62.4%,#4f003a 62.9%,#48003c 63.5%,#41003e 64.1%,#390040 64.7%,#300039 65.2%,#24002b 65.8%,#17001b 66.4%,#0b000d 67%,#030003 67.5%,#000000 68.1%,#000000 68.7%,#000000 69.3%,#000000 69.8%,#000000 70.4%,#000000 71%,#000000 71.6%,#000000 72.1%,#000000 72.7%,#070008 73.3%,#140017 73.9%,#220028 74.4%,#2c0034 75%,#35003e 75.6%,#3c003f 76.2%,#43003e 76.7%,#49003c 77.3%,#4f003a 77.9%,#550038 78.5%,#5a0036 79%,#5f0035 79.6%,#650033 80.2%,#6a0031 80.8%,#70002c 81.3%,#750027 81.8%,#870017 83.7%,#990006 85.6%,#a70d00 87.6%,#b42400 89.5%,#be3900 91.4%,#c64d00 93.3%,#cd6000 95.2%,#d37100 97.1%,#d67d00 99.1%,#d78000 100%)"></i><i style="left:211px;background:linear-gradient(#ebc300 0%,#eabe00 1.9%,#e9b900 3.8%,#e7b300 5.7%,#e5ad00 7.7%,#e3a600 9.6%,#e09e00 11.5%,#de9700 13.4%,#dc9000 15.3%,#da8900 17.2%,#d88300 19.2%,#d67d00 21.1%,#d57700 23%,#d37000 24.9%,#d06800 26.8%,#cc5f00 28.7%,#c95600 30.7%,#c64d00 32.6%,#c34500 34.5%,#c03c00 36.4%,#bd3300 38.3%,#b92c00 40.2%,#b52500 42.1%,#b11e00 44.1%,#ac1600 46%,#a70c00 47.9%,#a00000 49.8%,#970008 51.7%,#8f0010 53.6%,#860017 55.6%,#7c0021 57.5%,#72002a 58.9%,#6e002d 59.5%,#6a0031 60.1%,#650033 60.6%,#610034 61.2%,#5b0036 61.8%,#550038 62.4%,#4f003a 62.9%,#48003c 63.5%,#40003e 64.1%,#390040 64.7%,#300038 65.2%,#24002a 65.8%,#16001b 66.4%,#0b000d 67%,#030003 67.5%,#000000 68.1%,#000000 68.7%,#000000 69.3%,#000000 69.8%,#000000 70.4%,#000000 71%,#000000 71.6%,#000000 72.1%,#000000 72.7%,#070008 73.3%,#140018 73.9%,#220028 74.4%,#2d0035 75%,#35003f 75.6%,#3c003f 76.2%,#43003d 76.7%,#49003c 77.3%,#4f003a 77.9%,#550038 78.5%,#5a0036 79%,#600035 79.6%,#650033 80.2%,#6a0031 80.8%,#70002c 81.3%,#750027 81.8%,#870016 83.7%,#990006 85.6%,#a70d00 87.6%,#b42400 89.5%,#be3800 91.4%,#c64d00 93.3%,#cd6000 95.2%,#d37000 97.1%,#d67c00 99.1%,#d77f00 100%)"></i><i style="left:213px;background:linear-gradient(#ebc200 0%,#eabe00 1.9%,#e8b900 3.8%,#e7b300 5.7%,#e5ad00 7.7%,#e3a600 9.6%,#e09e00 11.5%,#de9700 13.4%,#dc9000 15.3%,#da8900 17.2%,#d88300 19.2%,#d67d00 21.1%,#d57600 23%,#d37000 24.9%,#d06800 26.8%,#cc5f00 28.7%,#c95600 30.7%,#c64d00 32.6%,#c34400 34.5%,#c03c00 36.4%,#bc3300 38.3%,#b82c00 40.2%,#b42400 42.1%,#b01d00 44.1%,#ac1600 46%,#a60c00 47.9%,#a00000 49.8%,#970008 51.7%,#8f0010 53.6%,#860018 55.6%,#7c0021 57.5%,#72002a 58.9%,#6e002d 59.5%,#6a0031 60.1%,#650033 60.6%,#610035 61.2%,#5b0036 61.8%,#550038 62.4%,#4e003a 62.9%,#47003c 63.5%,#40003e 64.1%,#380041 64.7%,#2f0038 65.2%,#23002a 65.8%,#16001a 66.4%,#0a000c 67%,#030003 67.5%,#000000 68.1%,#000000 68.7%,#000000 69.3%,#000000 69.8%,#000000 70.4%,#000000 71%,#000000 71.6%,#000000 72.1%,#000000 72.7%,#070008 73.3%,#140018 73.9%,#220029 74.4%,#2d0035 75%,#35003f 75.6%,#3d003f 76.2%,#43003d 76.7%,#4a003b 77.3%,#50003a 77.9%,#550038 78.5%,#5b0036 79%,#600035 79.6%,#650033 80.2%,#6b0031 80.8%,#70002b 81.3%,#750027 81.8%,#870016 83.7%,#990006 85.6%,#a70d00 87.6%,#b42400 89.5%,#be3800 91.4%,#c64c00 93.3%,#cd5f00 95.2%,#d27000 97.1%,#d67b00 99.1%,#d77f00 100%)"></i><i style="left:215px;background:linear-gradient(#ebc200 0%,#eabe00 1.9%,#e8b900 3.8%,#e7b300 5.7%,#e5ad00 7.7%,#e3a600 9.6%,#e09e00 11.5%,#de9700 13.4%,#dc9000 15.3%,#da8900 17.2%,#d88300 19.2%,#d67d00 21.1%,#d57600 23%,#d27000 24.9%,#d06700 26.8%,#cc5f00 28.7%,#c95600 30.7%,#c64d00 32.6%,#c34400 34.5%,#c03c00 36.4%,#bc3300 38.3%,#b82b00 40.2%,#b42400 42.1%,#b01d00 44.1%,#ac1500 46%,#a60b00 47.9%,#9f0001 49.8%,#970009 51.7%,#8f0010 53.6%,#860018 55.6%,#7b0021 57.5%,#72002a 58.9%,#6e002e 59.5%,#6a0032 60.1%,#650033 60.6%,#600035 61.2%,#5b0036 61.8%,#550038 62.4%,#4e003a 62.9%,#47003c 63.5%,#40003e 64.1%,#380041 64.7%,#2f0037 65.2%,#230029 65.8%,#16001a 66.4%,#0a000c 67%,#020003 67.5%,#000000 68.1%,#000000 68.7%,#000000 69.3%,#000000 69.8%,#000000 70.4%,#000000 71%,#000000 71.6%,#000000 72.1%,#000001 72.7%,#070009 73.3%,#150018 73.9%,#230029 74.4%,#2d0035 75%,#36003f 75.6%,#3d003f 76.2%,#44003d 76.7%,#4a003b 77.3%,#50003a 77.9%,#560038 78.5%,#5b0036 79%,#600035 79.6%,#650033 80.2%,#6b0030 80.8%,#70002b 81.3%,#750027 81.8%,#880016 83.7%,#990006 85.6%,#a70d00 87.6%,#b42400 89.5%,#be3800 91.4%,#c64c00 93.3%,#cc5f00 95.2%,#d26f00 97.1%,#d67b00 99.1%,#d77e00 100%)"></i><i style="left:217px;background:linear-gradient(#ebc200 0%,#eabe00 1.9%,#e8b800 3.8%,#e7b300 5.7%,#e5ad00 7.7%,#e3a600 9.6%,#e09e00 11.5%,#de9700 13.4%,#dc9000 15.3%,#da8900 17.2%,#d88300 19.2%,#d67d00 21.1%,#d47600 23%,#d26f00 24.9%,#d06700 26.8%,#cc5e00 28.7%,#c95500 30.7%,#c64d00 32.6%,#c34400 34.5%,#bf3b00 36.4%,#bc3300 38.3%,#b82b00 40.2%,#b42400 42.1%,#b01d00 44.1%,#ac1500 46%,#a60b00 47.9%,#9f0001 49.8%,#970009 51.7%,#8f0010 53.6%,#860018 55.6%,#7b0021 57.5%,#72002a 58.9%,#6e002e 59.5%,#690032 60.1%,#650033 60.6%,#600035 61.2%,#5b0036 61.8%,#550038 62.4%,#4e003a 62.9%,#47003c 63.5%,#3f003e 64.1%,#380041 64.7%,#2e0037 65.2%,#220029 65.8%,#150019 66.4%,#0a000b 67%,#020003 67.5%,#000000 68.1%,#000000 68.7%,#000000 69.3%,#000000 69.8%,#000000 70.4%,#000000 71%,#000000 71.6%,#000000 72.1%,#010001 72.7%,#080009 73.3%,#150019 73.9%,#230029 74.4%,#2d0035 75%,#360040 75.6%,#3d003f 76.2%,#44003d 76.7%,#4a003b 77.3%,#500039 77.9%,#560038 78.5%,#5b0036 79%,#600035 79.6%,#660033 80.2%,#6b0030 80.8%,#71002b 81.3%,#750027 81.8%,#880016 83.7%,#990006 85.6%,#a70d00 87.6%,#b42400 89.5%,#be3800 91.4%,#c54c00 93.3%,#cc5e00 95.2%,#d26e00 97.1%,#d67a00 99.1%,#d77d00 100%)"></i><i style="left:219px;background:linear-gradient(#ebc200 0%,#eabd00 1.9%,#e8b800 3.8%,#e7b300 5.7%,#e5ac00 7.7%,#e3a600 9.6%,#e09e00 11.5%,#de9700 13.4%,#dc9000 15.3%,#da8900 17.2%,#d88300 19.2%,#d67d00 21.1%,#d47600 23%,#d26f00 24.9%,#cf6700 26.8%,#cc5e00 28.7%,#c95500 30.7%,#c64c00 32.6%,#c24400 34.5%,#bf3b00 36.4%,#bc3200 38.3%,#b82b00 40.2%,#b42400 42.1%,#b01c00 44.1%,#ab1500 46%,#a60b00 47.9%,#9f0001 49.8%,#960009 51.7%,#8f0010 53.6%,#860018 55.6%,#7b0021 57.5%,#72002a 58.9%,#6e002e 59.5%,#690032 60.1%,#650033 60.6%,#600035 61.2%,#5b0036 61.8%,#540038 62.4%,#4e003a 62.9%,#47003c 63.5%,#3f003f 64.1%,#370041 64.7%,#2e0036 65.2%,#220028 65.8%,#150019 66.4%,#09000b 67%,#020002 67.5%,#000000 68.1%,#000000 68.7%,#000000 69.3%,#000000 69.8%,#000000 70.4%,#000000 71%,#000000 71.6%,#000000 72.1%,#010001 72.7%,#080009 73.3%,#150019 73.9%,#230029 74.4%,#2d0036 75%,#360040 75.6%,#3d003f 76.2%,#44003d 76.7%,#4b003b 77.3%,#510039 77.9%,#560038 78.5%,#5b0036 79%,#600035 79.6%,#660033 80.2%,#6b0030 80.8%,#71002b 81.3%,#760026 81.8%,#880016 83.7%,#9a0006 85.6%,#a70d00 87.6%,#b42300 89.5%,#be3800 91.4%,#c54b00 93.3%,#cc5e00 95.2%,#d26e00 97.1%,#d57900 99.1%,#d67c00 100%)"></i><i style="left:221px;background:linear-gradient(#ebc100 0%,#eabd00 1.9%,#e8b800 3.8%,#e6b200 5.7%,#e5ac00 7.7%,#e3a500 9.6%,#e09e00 11.5%,#de9700 13.4%,#dc9000 15.3%,#da8900 17.2%,#d88300 19.2%,#d67c00 21.1%,#d47600 23%,#d26f00 24.9%,#cf6700 26.8%,#cc5e00 28.7%,#c95500 30.7%,#c64c00 32.6%,#c24300 34.5%,#bf3b00 36.4%,#bc3200 38.3%,#b82a00 40.2%,#b42300 42.1%,#b01c00 44.1%,#ab1400 46%,#a60a00 47.9%,#9f0001 49.8%,#960009 51.7%,#8f0010 53.6%,#860018 55.6%,#7b0021 57.5%,#72002a 58.9%,#6e002e 59.5%,#690032 60.1%,#650033 60.6%,#600035 61.2%,#5a0036 61.8%,#540038 62.4%,#4e003a 62.9%,#46003c 63.5%,#3f003f 64.1%,#370041 64.7%,#2e0036 65.2%,#220028 65.8%,#140018 66.4%,#09000b 67%,#020002 67.5%,#000000 68.1%,#000000 68.7%,#000000 69.3%,#000000 69.8%,#000000 70.4%,#000000 71%,#000000 71.6%,#000000 72.1%,#010001 72.7%,#08000a 73.3%,#150019 73.9%,#23002a 74.4%,#2e0036 75%,#360040 75.6%,#3e003f 76.2%,#44003d 76.7%,#4b003b 77.3%,#510039 77.9%,#570038 78.5%,#5c0036 79%,#610034 79.6%,#660033 80.2%,#6c0030 80.8%,#71002a 81.3%,#760026 81.8%,#880016 83.7%,#9a0006 85.6%,#a70d00 87.6%,#b42300 89.5%,#be3800 91.4%,#c54b00 93.3%,#cc5d00 95.2%,#d26d00 97.1%,#d57900 99.1%,#d67c00 100%)"></i><i style="left:223px;background:linear-gradient(#ebc100 0%,#eabd00 1.9%,#e8b800 3.8%,#e6b200 5.7%,#e5ac00 7.7%,#e3a500 9.6%,#e09e00 11.5%,#de9600 13.4%,#dc9000 15.3%,#da8900 17.2%,#d88300 19.2%,#d67c00 21.1%,#d47600 23%,#d26f00 24.9%,#cf6600 26.8%,#cc5d00 28.7%,#c95400 30.7%,#c54c00 32.6%,#c24300 34.5%,#bf3a00 36.4%,#bc3200 38.3%,#b82a00 40.2%,#b32300 42.1%,#af1c00 44.1%,#ab1400 46%,#a60a00 47.9%,#9e0001 49.8%,#960009 51.7%,#8f0010 53.6%,#860018 55.6%,#7b0021 57.5%,#72002a 58.9%,#6d002e 59.5%,#690032 60.1%,#640033 60.6%,#600035 61.2%,#5a0036 61.8%,#540038 62.4%,#4d003a 62.9%,#46003c 63.5%,#3e003f 64.1%,#370041 64.7%,#2d0036 65.2%,#210027 65.8%,#140018 66.4%,#09000a 67%,#020002 67.5%,#000000 68.1%,#000000 68.7%,#000000 69.3%,#000000 69.8%,#000000 70.4%,#000000 71%,#000000 71.6%,#000000 72.1%,#010001 72.7%,#08000a 73.3%,#16001a 73.9%,#23002a 74.4%,#2e0036 75%,#360040 75.6%,#3e003f 76.2%,#45003d 76.7%,#4b003b 77.3%,#510039 77.9%,#570037 78.5%,#5c0036 79%,#610034 79.6%,#660033 80.2%,#6c002f 80.8%,#72002a 81.3%,#760026 81.8%,#880015 83.7%,#9a0006 85.6%,#a70d00 87.6%,#b42300 89.5%,#be3700 91.4%,#c54b00 93.3%,#cc5d00 95.2%,#d16c00 97.1%,#d57800 99.1%,#d67b00 100%)"></i><i style="left:225px;background:linear-gradient(#ebc100 0%,#eabc00 1.9%,#e8b700 3.8%,#e6b200 5.7%,#e5ac00 7.7%,#e3a500 9.6%,#e09e00 11.5%,#de9600 13.4%,#dc9000 15.3%,#da8900 17.2%,#d88300 19.2%,#d67c00 21.1%,#d47600 23%,#d26f00 24.9%,#cf6600 26.8%,#cc5d00 28.7%,#c95400 30.7%,#c54b00 32.6%,#c24300 34.5%,#bf3a00 36.4%,#bc3100 38.3%,#b72a00 40.2%,#b32200 42.1%,#af1b00 44.1%,#ab1300 46%,#a50900 47.9%,#9e0002 49.8%,#960009 51.7%,#8f0010 53.6%,#860018 55.6%,#7b0021 57.5%,#72002a 58.9%,#6d002e 59.5%,#690032 60.1%,#640033 60.6%,#5f0035 61.2%,#5a0036 61.8%,#540038 62.4%,#4d003a 62.9%,#46003d 63.5%,#3e003f 64.1%,#360040 64.7%,#2d0035 65.2%,#210027 65.8%,#140017 66.4%,#08000a 67%,#020002 67.5%,#000000 68.1%,#000000 68.7%,#000000 69.3%,#000000 69.8%,#000000 70.4%,#000000 71%,#000000 71.6%,#000000 72.1%,#010001 72.7%,#09000a 73.3%,#16001a 73.9%,#24002a 74.4%,#2e0036 75%,#370041 75.6%,#3e003f 76.2%,#45003d 76.7%,#4c003b 77.3%,#520039 77.9%,#570037 78.5%,#5d0036 79%,#610034 79.6%,#670033 80.2%,#6c002f 80.8%,#72002a 81.3%,#770026 81.8%,#890015 83.7%,#9a0006 85.6%,#a70d00 87.6%,#b42300 89.5%,#be3700 91.4%,#c54b00 93.3%,#cb5c00 95.2%,#d16c00 97.1%,#d57700 99.1%,#d67a00 100%)"></i><i style="left:227px;background:linear-gradient(#ebc000 0%,#e9bc00 1.9%,#e8b700 3.8%,#e6b200 5.7%,#e4ac00 7.7%,#e2a500 9.6%,#e09e00 11.5%,#de9600 13.4%,#dc9000 15.3%,#da8900 17.2%,#d88300 19.2%,#d67c00 21.1%,#d47500 23%,#d26f00 24.9%,#cf6600 26.8%,#cc5d00 28.7%,#c85400 30.7%,#c54b00 32.6%,#c24200 34.5%,#bf3900 36.4%,#bb3100 38.3%,#b72900 40.2%,#b32200 42.1%,#af1b00 44.1%,#aa1300 46%,#a50900 47.9%,#9e0002 49.8%,#960009 51.7%,#8f0010 53.6%,#860018 55.6%,#7b0022 57.5%,#71002a 58.9%,#6d002e 59.5%,#690032 60.1%,#640033 60.6%,#5f0035 61.2%,#5a0037 61.8%,#540038 62.4%,#4d003a 62.9%,#46003d 63.5%,#3e003f 64.1%,#360040 64.7%,#2d0035 65.2%,#210027 65.8%,#130017 66.4%,#080009 67%,#020002 67.5%,#000000 68.1%,#000000 68.7%,#000000 69.3%,#000000 69.8%,#000000 70.4%,#000000 71%,#000000 71.6%,#000000 72.1%,#010001 72.7%,#09000a 73.3%,#16001a 73.9%,#24002a 74.4%,#2e0036 75%,#370041 75.6%,#3e003f 76.2%,#45003d 76.7%,#4c003b 77.3%,#520039 77.9%,#580037 78.5%,#5d0036 79%,#620034 79.6%,#670033 80.2%,#6d002f 80.8%,#720029 81.3%,#770025 81.8%,#890015 83.7%,#9a0006 85.6%,#a70d00 87.6%,#b42300 89.5%,#be3700 91.4%,#c54a00 93.3%,#cb5c00 95.2%,#d16b00 97.1%,#d57600 99.1%,#d67a00 100%)"></i><i style="left:229px;background:linear-gradient(#ebc000 0%,#e9bc00 1.9%,#e8b700 3.8%,#e6b100 5.7%,#e4ab00 7.7%,#e2a500 9.6%,#e09e00 11.5%,#de9600 13.4%,#dc9000 15.3%,#da8900 17.2%,#d88300 19.2%,#d67c00 21.1%,#d47500 23%,#d26e00 24.9%,#cf6600 26.8%,#cc5c00 28.7%,#c85300 30.7%,#c54a00 32.6%,#c24200 34.5%,#bf3900 36.4%,#bb3000 38.3%,#b72900 40.2%,#b32100 42.1%,#af1a00 44.1%,#aa1200 46%,#a50900 47.9%,#9e0002 49.8%,#960009 51.7%,#8e0010 53.6%,#860018 55.6%,#7b0022 57.5%,#71002a 58.9%,#6d002e 59.5%,#680032 60.1%,#640034 60.6%,#5f0035 61.2%,#5a0037 61.8%,#540038 62.4%,#4d003a 62.9%,#45003d 63.5%,#3e003f 64.1%,#36003f 64.7%,#2c0034 65.2%,#200026 65.8%,#130017 66.4%,#080009 67%,#010002 67.5%,#000000 68.1%,#000000 68.7%,#000000 69.3%,#000000 69.8%,#000000 70.4%,#000000 71%,#000000 71.6%,#000000 72.1%,#010001 72.7%,#09000b 73.3%,#16001a 73.9%,#24002b 74.4%,#2e0037 75%,#370041 75.6%,#3f003f 76.2%,#46003d 76.7%,#4c003b 77.3%,#520039 77.9%,#580037 78.5%,#5d0036 79%,#620034 79.6%,#680032 80.2%,#6d002e 80.8%,#730029 81.3%,#770025 81.8%,#890015 83.7%,#9a0006 85.6%,#a70d00 87.6%,#b42300 89.5%,#be3700 91.4%,#c54a00 93.3%,#cb5b00 95.2%,#d16a00 97.1%,#d47600 99.1%,#d57900 100%)"></i><i style="left:231px;background:linear-gradient(#eabf00 0%,#e9bb00 1.9%,#e8b600 3.8%,#e6b100 5.7%,#e4ab00 7.7%,#e2a500 9.6%,#e09e00 11.5%,#de9600 13.4%,#dc9000 15.3%,#da8900 17.2%,#d88300 19.2%,#d67c00 21.1%,#d47500 23%,#d26e00 24.9%,#cf6500 26.8%,#cb5c00 28.7%,#c85300 30.7%,#c54a00 32.6%,#c24100 34.5%,#be3800 36.4%,#bb3000 38.3%,#b72800 40.2%,#b22100 42.1%,#ae1900 44.1%,#aa1200 46%,#a50800 47.9%,#9e0002 49.8%,#960009 51.7%,#8e0010 53.6%,#860018 55.6%,#7b0022 57.5%,#71002b 58.9%,#6d002e 59.5%,#680032 60.1%,#640034 60.6%,#5f0035 61.2%,#590037 61.8%,#530038 62.4%,#4d003b 62.9%,#45003d 63.5%,#3d003f 64.1%,#35003f 64.7%,#2c0034 65.2%,#200026 65.8%,#130016 66.4%,#070009 67%,#010002 67.5%,#000000 68.1%,#000000 68.7%,#000000 69.3%,#000000 69.8%,#000000 70.4%,#000000 71%,#000000 71.6%,#000000 72.1%,#010001 72.7%,#09000b 73.3%,#17001b 73.9%,#24002b 74.4%,#2e0037 75%,#370041 75.6%,#3f003f 76.2%,#46003d 76.7%,#4c003b 77.3%,#530039 77.9%,#580037 78.5%,#5e0035 79%,#630034 79.6%,#680032 80.2%,#6e002e 80.8%,#730029 81.3%,#780025 81.8%,#890015 83.7%,#9a0005 85.6%,#a70d00 87.6%,#b42300 89.5%,#be3700 91.4%,#c54a00 93.3%,#cb5b00 95.2%,#d06a00 97.1%,#d47500 99.1%,#d57800 100%)"></i><i style="left:233px;background:linear-gradient(#eabf00 0%,#e9bb00 1.9%,#e8b600 3.8%,#e6b100 5.7%,#e4ab00 7.7%,#e2a400 9.6%,#e09d00 11.5%,#de9600 13.4%,#dc9000 15.3%,#da8900 17.2%,#d88300 19.2%,#d67c00 21.1%,#d47500 23%,#d26e00 24.9%,#cf6500 26.8%,#cb5c00 28.7%,#c85300 30.7%,#c54a00 32.6%,#c14100 34.5%,#be3800 36.4%,#bb2f00 38.3%,#b62800 40.2%,#b22000 42.1%,#ae1900 44.1%,#a91100 46%,#a40800 47.9%,#9d0002 49.8%,#960009 51.7%,#8e0010 53.6%,#860018 55.6%,#7b0022 57.5%,#71002b 58.9%,#6d002f 59.5%,#680032 60.1%,#640034 60.6%,#5f0035 61.2%,#590037 61.8%,#530039 62.4%,#4c003b 62.9%,#45003d 63.5%,#3d003f 64.1%,#35003f 64.7%,#2c0034 65.2%,#200025 65.8%,#120016 66.4%,#070008 67%,#010001 67.5%,#000000 68.1%,#000000 68.7%,#000000 69.3%,#000000 69.8%,#000000 70.4%,#000000 71%,#000000 71.6%,#000000 72.1%,#010001 72.7%,#09000b 73.3%,#17001b 73.9%,#24002b 74.4%,#2f0037 75%,#370041 75.6%,#3f003f 76.2%,#46003c 76.7%,#4d003a 77.3%,#530039 77.9%,#590037 78.5%,#5e0035 79%,#630034 79.6%,#680032 80.2%,#6e002d 80.8%,#740028 81.3%,#780024 81.8%,#8a0014 83.7%,#9a0005 85.6%,#a70c00 87.6%,#b42300 89.5%,#be3700 91.4%,#c54900 93.3%,#cb5a00 95.2%,#d06900 97.1%,#d47500 99.1%,#d57800 100%)"></i><i style="left:235px;background:linear-gradient(#eabe00 0%,#e9ba00 1.9%,#e7b600 3.8%,#e6b000 5.7%,#e4ab00 7.7%,#e2a400 9.6%,#e09d00 11.5%,#de9600 13.4%,#dc9000 15.3%,#da8900 17.2%,#d88300 19.2%,#d67c00 21.1%,#d47500 23%,#d26d00 24.9%,#cf6500 26.8%,#cb5b00 28.7%,#c85200 30.7%,#c44900 32.6%,#c14000 34.5%,#be3700 36.4%,#ba2f00 38.3%,#b62700 40.2%,#b22000 42.1%,#ae1800 44.1%,#a91000 46%,#a40700 47.9%,#9d0002 49.8%,#960009 51.7%,#8e0010 53.6%,#860018 55.6%,#7b0022 57.5%,#71002b 58.9%,#6d002f 59.5%,#680032 60.1%,#630034 60.6%,#5f0035 61.2%,#590037 61.8%,#530039 62.4%,#4c003b 62.9%,#45003d 63.5%,#3d003f 64.1%,#35003e 64.7%,#2b0033 65.2%,#1f0025 65.8%,#120015 66.4%,#070008 67%,#010001 67.5%,#000000 68.1%,#000000 68.7%,#000000 69.3%,#000000 69.8%,#000000 70.4%,#000000 71%,#000000 71.6%,#000000 72.1%,#010001 72.7%,#0a000b 73.3%,#17001b 73.9%,#25002b 74.4%,#2f0037 75%,#380041 75.6%,#3f003f 76.2%,#46003c 76.7%,#4d003a 77.3%,#530038 77.9%,#590037 78.5%,#5e0035 79%,#630034 79.6%,#690032 80.2%,#6e002d 80.8%,#740028 81.3%,#790024 81.8%,#8a0014 83.7%,#9a0005 85.6%,#a70c00 87.6%,#b42300 89.5%,#be3700 91.4%,#c44900 93.3%,#cb5a00 95.2%,#d06800 97.1%,#d47400 99.1%,#d57700 100%)"></i><i style="left:237px;background:linear-gradient(#eabe00 0%,#e9ba00 1.9%,#e7b500 3.8%,#e6b000 5.7%,#e4aa00 7.7%,#e2a400 9.6%,#e09d00 11.5%,#de9600 13.4%,#dc9000 15.3%,#da8900 17.2%,#d88300 19.2%,#d67c00 21.1%,#d47500 23%,#d26d00 24.9%,#ce6400 26.8%,#cb5b00 28.7%,#c85200 30.7%,#c44900 32.6%,#c14000 34.5%,#be3700 36.4%,#ba2f00 38.3%,#b62700 40.2%,#b21f00 42.1%,#ad1800 44.1%,#a91000 46%,#a40700 47.9%,#9d0003 49.8%,#960009 51.7%,#8e0010 53.6%,#860018 55.6%,#7b0022 57.5%,#71002b 58.9%,#6d002f 59.5%,#680032 60.1%,#630034 60.6%,#5e0035 61.2%,#590037 61.8%,#530039 62.4%,#4c003b 62.9%,#44003d 63.5%,#3d003f 64.1%,#34003e 64.7%,#2b0033 65.2%,#1f0025 65.8%,#120015 66.4%,#070008 67%,#010001 67.5%,#000000 68.1%,#000000 68.7%,#000000 69.3%,#000000 69.8%,#000000 70.4%,#000000 71%,#000000 71.6%,#000000 72.1%,#010002 72.7%,#0a000c 73.3%,#17001c 73.9%,#25002c 74.4%,#2f0037 75%,#380041 75.6%,#3f003f 76.2%,#47003c 76.7%,#4d003a 77.3%,#540038 77.9%,#5a0037 78.5%,#5f0035 79%,#640034 79.6%,#690032 80.2%,#6f002d 80.8%,#740028 81.3%,#790024 81.8%,#8a0014 83.7%,#9a0005 85.6%,#a70c00 87.6%,#b42300 89.5%,#be3700 91.4%,#c44900 93.3%,#ca5900 95.2%,#d06800 97.1%,#d47300 99.1%,#d57600 100%)"></i><i style="left:239px;background:linear-gradient(#eabd00 0%,#e9ba00 1.9%,#e7b500 3.8%,#e6b000 5.7%,#e4aa00 7.7%,#e2a400 9.6%,#e09d00 11.5%,#de9600 13.4%,#dc9000 15.3%,#da8900 17.2%,#d88300 19.2%,#d67c00 21.1%,#d47400 23%,#d26d00 24.9%,#ce6400 26.8%,#cb5b00 28.7%,#c75100 30.7%,#c44800 32.6%,#c13f00 34.5%,#be3600 36.4%,#ba2e00 38.3%,#b62700 40.2%,#b11f00 42.1%,#ad1700 44.1%,#a90f00 46%,#a40600 47.9%,#9d0003 49.8%,#960009 51.7%,#8e0010 53.6%,#860018 55.6%,#7b0022 57.5%,#71002b 58.9%,#6c002f 59.5%,#680032 60.1%,#630034 60.6%,#5e0035 61.2%,#590037 61.8%,#530039 62.4%,#4c003b 62.9%,#44003d 63.5%,#3c003f 64.1%,#34003e 64.7%,#2b0032 65.2%,#1f0024 65.8%,#120015 66.4%,#060008 67%,#010001 67.5%,#000000 68.1%,#000000 68.7%,#000000 69.3%,#000000 69.8%,#000000 70.4%,#000000 71%,#000000 71.6%,#000000 72.1%,#010002 72.7%,#0a000c 73.3%,#18001c 73.9%,#25002c 74.4%,#2f0038 75%,#380041 75.6%,#3f003e 76.2%,#47003c 76.7%,#4e003a 77.3%,#540038 77.9%,#5a0037 78.5%,#5f0035 79%,#640033 79.6%,#6a0031 80.2%,#6f002c 80.8%,#750027 81.3%,#790023 81.8%,#8b0013 83.7%,#9a0005 85.6%,#a70c00 87.6%,#b42300 89.5%,#be3600 91.4%,#c44900 93.3%,#ca5900 95.2%,#d06700 97.1%,#d37300 99.1%,#d47600 100%)"></i><i style="left:241px;background:linear-gradient(#eabd00 0%,#e9b900 1.9%,#e7b400 3.8%,#e6af00 5.7%,#e4aa00 7.7%,#e2a400 9.6%,#e09d00 11.5%,#de9600 13.4%,#dc9000 15.3%,#da8900 17.2%,#d88200 19.2%,#d67b00 21.1%,#d47400 23%,#d16d00 24.9%,#ce6400 26.8%,#cb5a00 28.7%,#c75100 30.7%,#c44800 32.6%,#c13f00 34.5%,#bd3600 36.4%,#ba2e00 38.3%,#b52600 40.2%,#b11e00 42.1%,#ad1700 44.1%,#a80f00 46%,#a30600 47.9%,#9d0003 49.8%,#960009 51.7%,#8e0010 53.6%,#860018 55.6%,#7b0022 57.5%,#71002b 58.9%,#6c002f 59.5%,#680032 60.1%,#630034 60.6%,#5e0035 61.2%,#590037 61.8%,#530039 62.4%,#4c003b 62.9%,#44003d 63.5%,#3c003f 64.1%,#34003d 64.7%,#2a0032 65.2%,#1f0024 65.8%,#110014 66.4%,#060007 67%,#010001 67.5%,#000000 68.1%,#000000 68.7%,#000000 69.3%,#000000 69.8%,#000000 70.4%,#000000 71%,#000000 71.6%,#000000 72.1%,#010002 72.7%,#0a000c 73.3%,#18001c 73.9%,#25002c 74.4%,#2f0038 75%,#380041 75.6%,#40003e 76.2%,#47003c 76.7%,#4e003a 77.3%,#540038 77.9%,#5a0036 78.5%,#600035 79%,#650033 79.6%,#6a0031 80.2%,#70002c 80.8%,#750027 81.3%,#7a0023 81.8%,#8b0013 83.7%,#9a0005 85.6%,#a70c00 87.6%,#b42300 89.5%,#be3600 91.4%,#c44800 93.3%,#ca5800 95.2%,#cf6700 97.1%,#d37200 99.1%,#d47500 100%)"></i><i style="left:243px;background:linear-gradient(#eabd00 0%,#e8b900 1.9%,#e7b400 3.8%,#e6af00 5.7%,#e4aa00 7.7%,#e2a300 9.6%,#e09d00 11.5%,#de9600 13.4%,#dc9000 15.3%,#da8900 17.2%,#d88200 19.2%,#d67b00 21.1%,#d47400 23%,#d16c00 24.9%,#ce6300 26.8%,#cb5a00 28.7%,#c75100 30.7%,#c44700 32.6%,#c13e00 34.5%,#bd3500 36.4%,#b92d00 38.3%,#b52600 40.2%,#b11e00 42.1%,#ac1600 44.1%,#a80e00 46%,#a30600 47.9%,#9d0003 49.8%,#96000a 51.7%,#8e0010 53.6%,#860018 55.6%,#7b0022 57.5%,#71002b 58.9%,#6c002f 59.5%,#680032 60.1%,#630034 60.6%,#5e0035 61.2%,#590037 61.8%,#520039 62.4%,#4b003b 62.9%,#44003d 63.5%,#3c003f 64.1%,#34003d 64.7%,#2a0032 65.2%,#1e0024 65.8%,#110014 66.4%,#060007 67%,#010001 67.5%,#000000 68.1%,#000000 68.7%,#000000 69.3%,#000000 69.8%,#000000 70.4%,#000000 71%,#000000 71.6%,#000000 72.1%,#020002 72.7%,#0a000c 73.3%,#18001c 73.9%,#25002c 74.4%,#2f0038 75%,#380041 75.6%,#40003e 76.2%,#47003c 76.7%,#4e003a 77.3%,#550038 77.9%,#5b0036 78.5%,#600035 79%,#650033 79.6%,#6a0031 80.2%,#70002c 80.8%,#760027 81.3%,#7a0022 81.8%,#8b0013 83.7%,#9b0005 85.6%,#a70c00 87.6%,#b32300 89.5%,#be3600 91.4%,#c44800 93.3%,#ca5800 95.2%,#cf6600 97.1%,#d37200 99.1%,#d47400 100%)"></i><i style="left:245px;background:linear-gradient(#e9bc00 0%,#e8b800 1.9%,#e7b400 3.8%,#e5af00 5.7%,#e4a900 7.7%,#e2a300 9.6%,#e09d00 11.5%,#de9600 13.4%,#dc9000 15.3%,#da8900 17.2%,#d88200 19.2%,#d67b00 21.1%,#d47400 23%,#d16c00 24.9%,#ce6300 26.8%,#ca5a00 28.7%,#c75000 30.7%,#c44700 32.6%,#c03e00 34.5%,#bd3500 36.4%,#b92d00 38.3%,#b52500 40.2%,#b01d00 42.1%,#ac1500 44.1%,#a80e00 46%,#a30500 47.9%,#9c0003 49.8%,#95000a 51.7%,#8e0010 53.6%,#860018 55.6%,#7b0022 57.5%,#71002b 58.9%,#6c002f 59.5%,#670032 60.1%,#630034 60.6%,#5e0035 61.2%,#580037 61.8%,#520039 62.4%,#4b003b 62.9%,#44003d 63.5%,#3c0040 64.1%,#33003d 64.7%,#2a0032 65.2%,#1e0024 65.8%,#110014 66.4%,#060007 67%,#010001 67.5%,#000000 68.1%,#000000 68.7%,#000000 69.3%,#000000 69.8%,#000000 70.4%,#000000 71%,#000000 71.6%,#000000 72.1%,#020002 72.7%,#0b000d 73.3%,#18001d 73.9%,#25002c 74.4%,#2f0038 75%,#380041 75.6%,#40003e 76.2%,#47003c 76.7%,#4e003a 77.3%,#550038 77.9%,#5b0036 78.5%,#600035 79%,#650033 79.6%,#6b0030 80.2%,#71002b 80.8%,#760026 81.3%,#7a0022 81.8%,#8b0013 83.7%,#9b0005 85.6%,#a70c00 87.6%,#b32300 89.5%,#be3600 91.4%,#c44800 93.3%,#ca5800 95.2%,#cf6600 97.1%,#d37100 99.1%,#d47400 100%)"></i><i style="left:247px;background:linear-gradient(#e9bc00 0%,#e8b800 1.9%,#e7b300 3.8%,#e5ae00 5.7%,#e4a900 7.7%,#e2a300 9.6%,#e09d00 11.5%,#de9600 13.4%,#dc9000 15.3%,#da8900 17.2%,#d88200 19.2%,#d67b00 21.1%,#d47400 23%,#d16c00 24.9%,#ce6300 26.8%,#ca5900 28.7%,#c75000 30.7%,#c44700 32.6%,#c03e00 34.5%,#bd3400 36.4%,#b92d00 38.3%,#b52500 40.2%,#b01d00 42.1%,#ac1500 44.1%,#a70d00 46%,#a30500 47.9%,#9c0003 49.8%,#95000a 51.7%,#8e0010 53.6%,#860018 55.6%,#7b0022 57.5%,#71002b 58.9%,#6c002f 59.5%,#670032 60.1%,#630034 60.6%,#5e0035 61.2%,#580037 61.8%,#520039 62.4%,#4b003b 62.9%,#44003d 63.5%,#3c0040 64.1%,#33003c 64.7%,#2a0031 65.2%,#1e0023 65.8%,#110014 66.4%,#060007 67%,#010001 67.5%,#000000 68.1%,#000000 68.7%,#000000 69.3%,#000000 69.8%,#000000 70.4%,#000000 71%,#000000 71.6%,#000000 72.1%,#020002 72.7%,#0b000d 73.3%,#18001d 73.9%,#26002c 74.4%,#2f0038 75%,#380041 75.6%,#40003e 76.2%,#48003c 76.7%,#4f003a 77.3%,#550038 77.9%,#5b0036 78.5%,#610035 79%,#660033 79.6%,#6b0030 80.2%,#71002b 80.8%,#760026 81.3%,#7b0022 81.8%,#8c0012 83.7%,#9b0005 85.6%,#a70c00 87.6%,#b32300 89.5%,#be3600 91.4%,#c44800 93.3%,#ca5700 95.2%,#cf6500 97.1%,#d37000 99.1%,#d47300 100%)"></i><i style="left:249px;background:linear-gradient(#e9bb00 0%,#e8b800 1.9%,#e7b300 3.8%,#e5ae00 5.7%,#e4a900 7.7%,#e2a300 9.6%,#e09d00 11.5%,#de9600 13.4%,#dc9000 15.3%,#da8900 17.2%,#d88200 19.2%,#d67b00 21.1%,#d47300 23%,#d16b00 24.9%,#ce6200 26.8%,#ca5900 28.7%,#c74f00 30.7%,#c34600 32.6%,#c03d00 34.5%,#bd3400 36.4%,#b92c00 38.3%,#b42400 40.2%,#b01c00 42.1%,#ab1400 44.1%,#a70c00 46%,#a20400 47.9%,#9c0003 49.8%,#95000a 51.7%,#8e0010 53.6%,#860018 55.6%,#7b0022 57.5%,#71002b 58.9%,#6c002f 59.5%,#670033 60.1%,#630034 60.6%,#5e0035 61.2%,#580037 61.8%,#520039 62.4%,#4b003b 62.9%,#43003d 63.5%,#3b0040 64.1%,#33003c 64.7%,#290031 65.2%,#1e0023 65.8%,#100013 66.4%,#050006 67%,#000001 67.5%,#000000 68.1%,#000000 68.7%,#000000 69.3%,#000000 69.8%,#000000 70.4%,#000000 71%,#000000 71.6%,#000000 72.1%,#020002 72.7%,#0b000d 73.3%,#18001d 73.9%,#26002d 74.4%,#300038 75%,#380041 75.6%,#40003e 76.2%,#48003c 76.7%,#4f003a 77.3%,#550038 77.9%,#5b0036 78.5%,#610034 79%,#660033 79.6%,#6c0030 80.2%,#71002a 80.8%,#770026 81.3%,#7b0022 81.8%,#8c0012 83.7%,#9b0005 85.6%,#a70c00 87.6%,#b32300 89.5%,#bd3600 91.4%,#c44800 93.3%,#ca5700 95.2%,#cf6500 97.1%,#d37000 99.1%,#d37300 100%)"></i><i style="left:251px;background:linear-gradient(#e9bb00 0%,#e8b700 1.9%,#e7b300 3.8%,#e5ae00 5.7%,#e4a900 7.7%,#e2a300 9.6%,#e09d00 11.5%,#de9600 13.4%,#dc9000 15.3%,#da8900 17.2%,#d88200 19.2%,#d67b00 21.1%,#d47300 23%,#d16b00 24.9%,#ce6200 26.8%,#ca5900 28.7%,#c74f00 30.7%,#c34600 32.6%,#c03d00 34.5%,#bd3400 36.4%,#b92c00 38.3%,#b42400 40.2%,#b01c00 42.1%,#ab1400 44.1%,#a70c00 46%,#a20400 47.9%,#9c0004 49.8%,#95000a 51.7%,#8e0010 53.6%,#860018 55.6%,#7b0022 57.5%,#70002b 58.9%,#6c002f 59.5%,#670033 60.1%,#630034 60.6%,#5e0035 61.2%,#580037 61.8%,#520039 62.4%,#4b003b 62.9%,#43003d 63.5%,#3b0040 64.1%,#33003c 64.7%,#290031 65.2%,#1d0023 65.8%,#100013 66.4%,#050006 67%,#000000 67.5%,#000000 68.1%,#000000 68.7%,#000000 69.3%,#000000 69.8%,#000000 70.4%,#000000 71%,#000000 71.6%,#000000 72.1%,#020002 72.7%,#0b000d 73.3%,#19001d 73.9%,#26002d 74.4%,#300038 75%,#380041 75.6%,#40003e 76.2%,#48003c 76.7%,#4f003a 77.3%,#560038 77.9%,#5c0036 78.5%,#610034 79%,#670033 79.6%,#6c002f 80.2%,#72002a 80.8%,#770025 81.3%,#7b0021 81.8%,#8c0012 83.7%,#9b0005 85.6%,#a70c00 87.6%,#b32300 89.5%,#bd3600 91.4%,#c44700 93.3%,#c95700 95.2%,#ce6400 97.1%,#d26f00 99.1%,#d37200 100%)"></i><i style="left:253px;background:linear-gradient(#e9bb00 0%,#e8b700 1.9%,#e7b200 3.8%,#e5ae00 5.7%,#e4a800 7.7%,#e2a300 9.6%,#e09d00 11.5%,#de9600 13.4%,#dc9000 15.3%,#da8900 17.2%,#d88200 19.2%,#d67b00 21.1%,#d47300 23%,#d16b00 24.9%,#cd6200 26.8%,#ca5800 28.7%,#c74f00 30.7%,#c34500 32.6%,#c03c00 34.5%,#bc3300 36.4%,#b82b00 38.3%,#b42400 40.2%,#af1c00 42.1%,#ab1400 44.1%,#a60c00 46%,#a20400 47.9%,#9c0004 49.8%,#95000a 51.7%,#8e0010 53.6%,#860018 55.6%,#7b0022 57.5%,#70002b 58.9%,#6c002f 59.5%,#670033 60.1%,#620034 60.6%,#5d0035 61.2%,#580037 61.8%,#520039 62.4%,#4b003b 62.9%,#43003d 63.5%,#3b0040 64.1%,#32003c 64.7%,#290031 65.2%,#1d0023 65.8%,#100013 66.4%,#050006 67%,#000000 67.5%,#000000 68.1%,#000000 68.7%,#000000 69.3%,#000000 69.8%,#000000 70.4%,#000000 71%,#000000 71.6%,#000000 72.1%,#020002 72.7%,#0b000d 73.3%,#19001d 73.9%,#26002d 74.4%,#300038 75%,#390041 75.6%,#40003e 76.2%,#48003c 76.7%,#4f003a 77.3%,#560038 77.9%,#5c0036 78.5%,#620034 79%,#670033 79.6%,#6c002f 80.2%,#72002a 80.8%,#770025 81.3%,#7c0021 81.8%,#8c0012 83.7%,#9b0005 85.6%,#a70c00 87.6%,#b32300 89.5%,#bd3600 91.4%,#c44700 93.3%,#c95600 95.2%,#ce6400 97.1%,#d26f00 99.1%,#d37200 100%)"></i><i style="left:255px;background:linear-gradient(#e9ba00 0%,#e8b700 1.9%,#e6b200 3.8%,#e5ad00 5.7%,#e3a800 7.7%,#e2a300 9.6%,#e09d00 11.5%,#de9600 13.4%,#dc9000 15.3%,#da8900 17.2%,#d88200 19.2%,#d67b00 21.1%,#d37300 23%,#d16b00 24.9%,#cd6100 26.8%,#ca5800 28.7%,#c64e00 30.7%,#c34500 32.6%,#c03c00 34.5%,#bc3300 36.4%,#b82b00 38.3%,#b42300 40.2%,#af1b00 42.1%,#ab1300 44.1%,#a60b00 46%,#a20300 47.9%,#9c0004 49.8%,#95000a 51.7%,#8e0010 53.6%,#860018 55.6%,#7b0022 57.5%,#70002b 58.9%,#6c002f 59.5%,#670033 60.1%,#620034 60.6%,#5d0035 61.2%,#580037 61.8%,#520039 62.4%,#4b003b 62.9%,#43003d 63.5%,#3b0040 64.1%,#32003b 64.7%,#290030 65.2%,#1d0022 65.8%,#100013 66.4%,#050006 67%,#000000 67.5%,#000000 68.1%,#000000 68.7%,#000000 69.3%,#000000 69.8%,#000000 70.4%,#000000 71%,#000000 71.6%,#000000 72.1%,#020002 72.7%,#0b000d 73.3%,#19001d 73.9%,#26002d 74.4%,#300038 75%,#390041 75.6%,#41003e 76.2%,#48003c 76.7%,#4f003a 77.3%,#560038 77.9%,#5c0036 78.5%,#620034 79%,#670033 79.6%,#6d002f 80.2%,#72002a 80.8%,#780025 81.3%,#7c0021 81.8%,#8d0012 83.7%,#9b0005 85.6%,#a70c00 87.6%,#b32200 89.5%,#bd3600 91.4%,#c44700 93.3%,#c95600 95.2%,#ce6300 97.1%,#d26e00 99.1%,#d37100 100%)"></i><i style="left:257px;background:linear-gradient(#e9ba00 0%,#e8b600 1.9%,#e6b200 3.8%,#e5ad00 5.7%,#e3a800 7.7%,#e2a200 9.6%,#e09d00 11.5%,#de9600 13.4%,#dc9000 15.3%,#da8900 17.2%,#d88200 19.2%,#d67b00 21.1%,#d37300 23%,#d16b00 24.9%,#cd6100 26.8%,#ca5800 28.7%,#c64e00 30.7%,#c34500 32.6%,#c03c00 34.5%,#bc3300 36.4%,#b82b00 38.3%,#b42300 40.2%,#af1b00 42.1%,#ab1300 44.1%,#a60b00 46%,#a20300 47.9%,#9c0004 49.8%,#95000a 51.7%,#8e0010 53.6%,#860018 55.6%,#7b0022 57.5%,#70002b 58.9%,#6c0030 59.5%,#670033 60.1%,#620034 60.6%,#5d0036 61.2%,#580037 61.8%,#520039 62.4%,#4b003b 62.9%,#43003d 63.5%,#3b0040 64.1%,#32003b 64.7%,#290030 65.2%,#1d0022 65.8%,#100013 66.4%,#050006 67%,#000000 67.5%,#000000 68.1%,#000000 68.7%,#000000 69.3%,#000000 69.8%,#000000 70.4%,#000000 71%,#000000 71.6%,#000000 72.1%,#020002 72.7%,#0b000d 73.3%,#19001e 73.9%,#26002d 74.4%,#300038 75%,#390040 75.6%,#41003e 76.2%,#48003c 76.7%,#4f003a 77.3%,#560038 77.9%,#5c0036 78.5%,#620034 79%,#670032 79.6%,#6d002e 80.2%,#730029 80.8%,#780024 81.3%,#7c0020 81.8%,#8d0011 83.7%,#9b0004 85.6%,#a70c00 87.6%,#b32200 89.5%,#bd3600 91.4%,#c44700 93.3%,#c95600 95.2%,#ce6300 97.1%,#d26e00 99.1%,#d37100 100%)"></i><i style="left:259px;background:linear-gradient(#e9ba00 0%,#e8b600 1.9%,#e6b200 3.8%,#e5ad00 5.7%,#e3a800 7.7%,#e2a200 9.6%,#e09d00 11.5%,#de9600 13.4%,#dc9000 15.3%,#da8900 17.2%,#d88200 19.2%,#d67b00 21.1%,#d37300 23%,#d16a00 24.9%,#cd6100 26.8%,#ca5800 28.7%,#c64e00 30.7%,#c34500 32.6%,#bf3b00 34.5%,#bc3200 36.4%,#b82b00 38.3%,#b32300 40.2%,#af1b00 42.1%,#aa1200 44.1%,#a60a00 46%,#a20300 47.9%,#9c0004 49.8%,#95000a 51.7%,#8e0010 53.6%,#860018 55.6%,#7b0022 57.5%,#70002b 58.9%,#6c0030 59.5%,#670033 60.1%,#620034 60.6%,#5d0036 61.2%,#580037 61.8%,#520039 62.4%,#4b003b 62.9%,#43003d 63.5%,#3b0040 64.1%,#32003b 64.7%,#290030 65.2%,#1d0022 65.8%,#100012 66.4%,#050006 67%,#000000 67.5%,#000000 68.1%,#000000 68.7%,#000000 69.3%,#000000 69.8%,#000000 70.4%,#000000 71%,#000000 71.6%,#000000 72.1%,#020002 72.7%,#0c000e 73.3%,#19001e 73.9%,#26002d 74.4%,#300039 75%,#390040 75.6%,#41003e 76.2%,#48003c 76.7%,#50003a 77.3%,#560038 77.9%,#5c0036 78.5%,#620034 79%,#680032 79.6%,#6d002e 80.2%,#730029 80.8%,#780024 81.3%,#7d0020 81.8%,#8d0011 83.7%,#9b0004 85.6%,#a70c00 87.6%,#b32200 89.5%,#bd3600 91.4%,#c44700 93.3%,#c95500 95.2%,#ce6200 97.1%,#d26d00 99.1%,#d37000 100%)"></i><i style="left:261px;background:linear-gradient(#e9b900 0%,#e8b600 1.9%,#e6b200 3.8%,#e5ad00 5.7%,#e3a800 7.7%,#e2a200 9.6%,#e09c00 11.5%,#de9600 13.4%,#dc9000 15.3%,#da8900 17.2%,#d88200 19.2%,#d67a00 21.1%,#d37300 23%,#d16a00 24.9%,#cd6100 26.8%,#ca5700 28.7%,#c64e00 30.7%,#c34400 32.6%,#bf3b00 34.5%,#bc3200 36.4%,#b82a00 38.3%,#b32300 40.2%,#af1a00 42.1%,#aa1200 44.1%,#a60a00 46%,#a10300 47.9%,#9c0004 49.8%,#95000a 51.7%,#8e0010 53.6%,#860018 55.6%,#7b0022 57.5%,#70002b 58.9%,#6c0030 59.5%,#670033 60.1%,#620034 60.6%,#5d0036 61.2%,#580037 61.8%,#520039 62.4%,#4b003b 62.9%,#43003d 63.5%,#3b0040 64.1%,#32003b 64.7%,#290030 65.2%,#1d0022 65.8%,#100012 66.4%,#050006 67%,#000000 67.5%,#000000 68.1%,#000000 68.7%,#000000 69.3%,#000000 69.8%,#000000 70.4%,#000000 71%,#000000 71.6%,#000000 72.1%,#020002 72.7%,#0c000e 73.3%,#19001e 73.9%,#26002d 74.4%,#300039 75%,#390040 75.6%,#41003e 76.2%,#49003c 76.7%,#50003a 77.3%,#560038 77.9%,#5d0036 78.5%,#620034 79%,#680032 79.6%,#6e002e 80.2%,#730029 80.8%,#780024 81.3%,#7d0020 81.8%,#8d0011 83.7%,#9b0004 85.6%,#a70c00 87.6%,#b32200 89.5%,#bd3500 91.4%,#c34600 93.3%,#c95500 95.2%,#ce6200 97.1%,#d26d00 99.1%,#d37000 100%)"></i><i style="left:263px;background:linear-gradient(#e9b900 0%,#e8b600 1.9%,#e6b100 3.8%,#e5ad00 5.7%,#e3a800 7.7%,#e2a200 9.6%,#e09c00 11.5%,#de9600 13.4%,#dc9000 15.3%,#da8a00 17.2%,#d88200 19.2%,#d67a00 21.1%,#d37300 23%,#d16a00 24.9%,#cd6100 26.8%,#ca5700 28.7%,#c64e00 30.7%,#c34400 32.6%,#bf3b00 34.5%,#bc3200 36.4%,#b82a00 38.3%,#b32200 40.2%,#af1a00 42.1%,#aa1200 44.1%,#a60a00 46%,#a10200 47.9%,#9c0004 49.8%,#95000a 51.7%,#8e0010 53.6%,#860018 55.6%,#7b0022 57.5%,#70002b 58.9%,#6c0030 59.5%,#670033 60.1%,#620034 60.6%,#5d0036 61.2%,#580037 61.8%,#520039 62.4%,#4a003b 62.9%,#43003d 63.5%,#3b0040 64.1%,#32003b 64.7%,#280030 65.2%,#1d0022 65.8%,#0f0012 66.4%,#050006 67%,#000000 67.5%,#000000 68.1%,#000000 68.7%,#000000 69.3%,#000000 69.8%,#000000 70.4%,#000000 71%,#000000 71.6%,#000000 72.1%,#020003 72.7%,#0c000e 73.3%,#19001e 73.9%,#26002d 74.4%,#300039 75%,#390040 75.6%,#41003e 76.2%,#49003c 76.7%,#50003a 77.3%,#570038 77.9%,#5d0036 78.5%,#630034 79%,#680032 79.6%,#6e002e 80.2%,#730029 80.8%,#790024 81.3%,#7d0020 81.8%,#8d0011 83.7%,#9b0004 85.6%,#a70c00 87.6%,#b32200 89.5%,#bd3500 91.4%,#c34600 93.3%,#c95500 95.2%,#cd6200 97.1%,#d16c00 99.1%,#d26f00 100%)"></i><i style="left:265px;background:linear-gradient(#e9b900 0%,#e7b600 1.9%,#e6b100 3.8%,#e5ad00 5.7%,#e3a800 7.7%,#e2a200 9.6%,#e09c00 11.5%,#de9600 13.4%,#dc9000 15.3%,#da8a00 17.2%,#d88200 19.2%,#d67a00 21.1%,#d37300 23%,#d16a00 24.9%,#cd6100 26.8%,#ca5700 28.7%,#c64d00 30.7%,#c34400 32.6%,#bf3b00 34.5%,#bc3200 36.4%,#b82a00 38.3%,#b32200 40.2%,#af1a00 42.1%,#aa1200 44.1%,#a50a00 46%,#a10200 47.9%,#9c0004 49.8%,#95000a 51.7%,#8e0010 53.6%,#860018 55.6%,#7b0022 57.5%,#70002b 58.9%,#6c0030 59.5%,#670033 60.1%,#620034 60.6%,#5d0036 61.2%,#580037 61.8%,#510039 62.4%,#4a003b 62.9%,#43003d 63.5%,#3b0040 64.1%,#32003b 64.7%,#280030 65.2%,#1d0022 65.8%,#0f0012 66.4%,#050005 67%,#000000 67.5%,#000000 68.1%,#000000 68.7%,#000000 69.3%,#000000 69.8%,#000000 70.4%,#000000 71%,#000000 71.6%,#000000 72.1%,#020003 72.7%,#0c000e 73.3%,#19001e 73.9%,#26002d 74.4%,#300039 75%,#390040 75.6%,#41003e 76.2%,#49003c 76.7%,#50003a 77.3%,#570038 77.9%,#5d0036 78.5%,#630034 79%,#680032 79.6%,#6e002e 80.2%,#730029 80.8%,#790024 81.3%,#7d0020 81.8%,#8d0011 83.7%,#9b0004 85.6%,#a70c00 87.6%,#b32200 89.5%,#bd3500 91.4%,#c34600 93.3%,#c95400 95.2%,#cd6100 97.1%,#d16c00 99.1%,#d26f00 100%)"></i><i style="left:267px;background:linear-gradient(#e9b900 0%,#e7b600 1.9%,#e6b100 3.8%,#e5ad00 5.7%,#e3a700 7.7%,#e2a200 9.6%,#e09c00 11.5%,#de9600 13.4%,#dc9000 15.3%,#da8a00 17.2%,#d88200 19.2%,#d67a00 21.1%,#d37200 23%,#d16a00 24.9%,#cd6100 26.8%,#ca5700 28.7%,#c64d00 30.7%,#c34400 32.6%,#bf3b00 34.5%,#bc3200 36.4%,#b72a00 38.3%,#b32200 40.2%,#af1a00 42.1%,#aa1200 44.1%,#a50a00 46%,#a10200 47.9%,#9c0004 49.8%,#95000a 51.7%,#8e0010 53.6%,#860018 55.6%,#7b0022 57.5%,#70002b 58.9%,#6c0030 59.5%,#670033 60.1%,#620034 60.6%,#5d0036 61.2%,#580037 61.8%,#510039 62.4%,#4a003b 62.9%,#43003e 63.5%,#3b0040 64.1%,#32003b 64.7%,#280030 65.2%,#1d0022 65.8%,#0f0012 66.4%,#050005 67%,#000000 67.5%,#000000 68.1%,#000000 68.7%,#000000 69.3%,#000000 69.8%,#000000 70.4%,#000000 71%,#000000 71.6%,#000000 72.1%,#020003 72.7%,#0c000e 73.3%,#19001e 73.9%,#26002d 74.4%,#300039 75%,#390040 75.6%,#41003e 76.2%,#49003c 76.7%,#50003a 77.3%,#570037 77.9%,#5d0036 78.5%,#630034 79%,#680032 79.6%,#6e002e 80.2%,#730029 80.8%,#790024 81.3%,#7d0020 81.8%,#8d0011 83.7%,#9b0004 85.6%,#a60c00 87.6%,#b32200 89.5%,#bd3500 91.4%,#c34600 93.3%,#c85400 95.2%,#cd6100 97.1%,#d16b00 99.1%,#d26e00 100%)"></i><i style="left:269px;background:linear-gradient(#e9b900 0%,#e7b600 1.9%,#e6b100 3.8%,#e5ad00 5.7%,#e3a700 7.7%,#e2a200 9.6%,#e09c00 11.5%,#de9600 13.4%,#dc9000 15.3%,#da8a00 17.2%,#d88200 19.2%,#d67a00 21.1%,#d37200 23%,#d16a00 24.9%,#cd6100 26.8%,#ca5700 28.7%,#c64d00 30.7%,#c34400 32.6%,#bf3b00 34.5%,#bc3200 36.4%,#b72a00 38.3%,#b32200 40.2%,#af1a00 42.1%,#aa1200 44.1%,#a50a00 46%,#a10200 47.9%,#9c0004 49.8%,#95000a 51.7%,#8e0010 53.6%,#860018 55.6%,#7b0022 57.5%,#70002b 58.9%,#6c0030 59.5%,#670033 60.1%,#620034 60.6%,#5d0036 61.2%,#580037 61.8%,#510039 62.4%,#4a003b 62.9%,#43003e 63.5%,#3b0040 64.1%,#32003b 64.7%,#280030 65.2%,#1d0022 65.8%,#0f0012 66.4%,#050005 67%,#000000 67.5%,#000000 68.1%,#000000 68.7%,#000000 69.3%,#000000 69.8%,#000000 70.4%,#000000 71%,#000000 71.6%,#000000 72.1%,#020003 72.7%,#0c000e 73.3%,#19001e 73.9%,#26002d 74.4%,#300039 75%,#390040 75.6%,#41003e 76.2%,#49003c 76.7%,#500039 77.3%,#570037 77.9%,#5d0036 78.5%,#630034 79%,#680032 79.6%,#6e002d 80.2%,#730028 80.8%,#790024 81.3%,#7d0020 81.8%,#8d0011 83.7%,#9b0004 85.6%,#a60c00 87.6%,#b32200 89.5%,#bd3500 91.4%,#c34600 93.3%,#c85400 95.2%,#cd6100 97.1%,#d16b00 99.1%,#d26e00 100%)"></i><i style="left:271px;background:linear-gradient(#e8b900 0%,#e7b600 1.9%,#e6b100 3.8%,#e5ad00 5.7%,#e3a700 7.7%,#e2a200 9.6%,#e09c00 11.5%,#de9600 13.4%,#dc9000 15.3%,#da8a00 17.2%,#d88200 19.2%,#d67a00 21.1%,#d37200 23%,#d16a00 24.9%,#cd6100 26.8%,#ca5700 28.7%,#c64d00 30.7%,#c34400 32.6%,#bf3b00 34.5%,#bc3200 36.4%,#b72a00 38.3%,#b32200 40.2%,#af1a00 42.1%,#aa1200 44.1%,#a50a00 46%,#a10200 47.9%,#9c0004 49.8%,#95000a 51.7%,#8e0010 53.6%,#860018 55.6%,#7b0022 57.5%,#70002b 58.9%,#6c0030 59.5%,#670033 60.1%,#620034 60.6%,#5d0036 61.2%,#580037 61.8%,#510039 62.4%,#4a003b 62.9%,#43003e 63.5%,#3a0040 64.1%,#32003b 64.7%,#280030 65.2%,#1d0022 65.8%,#0f0012 66.4%,#050005 67%,#000000 67.5%,#000000 68.1%,#000000 68.7%,#000000 69.3%,#000000 69.8%,#000000 70.4%,#000000 71%,#000000 71.6%,#000000 72.1%,#020003 72.7%,#0c000e 73.3%,#19001e 73.9%,#26002d 74.4%,#300039 75%,#390040 75.6%,#41003e 76.2%,#49003c 76.7%,#500039 77.3%,#570037 77.9%,#5d0036 78.5%,#630034 79%,#680032 79.6%,#6e002d 80.2%,#730028 80.8%,#790024 81.3%,#7d0020 81.8%,#8d0011 83.7%,#9b0004 85.6%,#a60b00 87.6%,#b32200 89.5%,#bd3500 91.4%,#c34500 93.3%,#c85400 95.2%,#cd6000 97.1%,#d16b00 99.1%,#d26e00 100%)"></i><i style="left:273px;background:linear-gradient(#e8b900 0%,#e7b600 1.9%,#e6b100 3.8%,#e5ad00 5.7%,#e3a700 7.7%,#e2a200 9.6%,#e09c00 11.5%,#de9600 13.4%,#dc9000 15.3%,#da8a00 17.2%,#d88200 19.2%,#d67a00 21.1%,#d37200 23%,#d16a00 24.9%,#cd6100 26.8%,#ca5700 28.7%,#c64d00 30.7%,#c34400 32.6%,#bf3b00 34.5%,#bc3200 36.4%,#b72a00 38.3%,#b32200 40.2%,#af1a00 42.1%,#aa1200 44.1%,#a50a00 46%,#a10200 47.9%,#9c0004 49.8%,#95000a 51.7%,#8e0010 53.6%,#860018 55.6%,#7b0022 57.5%,#70002b 58.9%,#6c0030 59.5%,#670033 60.1%,#620034 60.6%,#5d0036 61.2%,#580037 61.8%,#510039 62.4%,#4a003b 62.9%,#43003e 63.5%,#3a0040 64.1%,#32003b 64.7%,#280030 65.2%,#1d0022 65.8%,#0f0012 66.4%,#050005 67%,#000000 67.5%,#000000 68.1%,#000000 68.7%,#000000 69.3%,#000000 69.8%,#000000 70.4%,#000000 71%,#000000 71.6%,#000000 72.1%,#020003 72.7%,#0c000e 73.3%,#19001e 73.9%,#26002d 74.4%,#300039 75%,#390040 75.6%,#41003e 76.2%,#49003c 76.7%,#500039 77.3%,#570037 77.9%,#5d0036 78.5%,#630034 79%,#680032 79.6%,#6e002d 80.2%,#730028 80.8%,#790024 81.3%,#7d0020 81.8%,#8d0011 83.7%,#9b0004 85.6%,#a60b00 87.6%,#b32200 89.5%,#bd3500 91.4%,#c34500 93.3%,#c85300 95.2%,#cd6000 97.1%,#d16a00 99.1%,#d26d00 100%)"></i><i style="left:275px;background:linear-gradient(#e8b900 0%,#e7b600 1.9%,#e6b100 3.8%,#e5ad00 5.7%,#e3a700 7.7%,#e2a200 9.6%,#e09c00 11.5%,#de9600 13.4%,#dc9000 15.3%,#da8a00 17.2%,#d88200 19.2%,#d67a00 21.1%,#d37200 23%,#d16a00 24.9%,#cd6100 26.8%,#ca5700 28.7%,#c64d00 30.7%,#c34400 32.6%,#bf3b00 34.5%,#bc3200 36.4%,#b72a00 38.3%,#b32200 40.2%,#af1a00 42.1%,#aa1200 44.1%,#a50a00 46%,#a10200 47.9%,#9c0004 49.8%,#95000a 51.7%,#8e0010 53.6%,#860018 55.6%,#7b0022 57.5%,#70002b 58.9%,#6c0030 59.5%,#670033 60.1%,#620034 60.6%,#5d0036 61.2%,#580037 61.8%,#510039 62.4%,#4a003b 62.9%,#43003e 63.5%,#3a0040 64.1%,#32003b 64.7%,#280030 65.2%,#1d0022 65.8%,#0f0012 66.4%,#050005 67%,#000000 67.5%,#000000 68.1%,#000000 68.7%,#000000 69.3%,#000000 69.8%,#000000 70.4%,#000000 71%,#000000 71.6%,#000000 72.1%,#020003 72.7%,#0c000e 73.3%,#19001e 73.9%,#26002d 74.4%,#300039 75%,#390040 75.6%,#41003e 76.2%,#49003c 76.7%,#500039 77.3%,#570037 77.9%,#5d0036 78.5%,#630034 79%,#680032 79.6%,#6e002d 80.2%,#730028 80.8%,#790024 81.3%,#7d0020 81.8%,#8d0011 83.7%,#9b0004 85.6%,#a60b00 87.6%,#b32200 89.5%,#bd3500 91.4%,#c34500 93.3%,#c85300 95.2%,#cd6000 97.1%,#d06a00 99.1%,#d26d00 100%)"></i><i style="left:277px;background:linear-gradient(#e8b900 0%,#e7b600 1.9%,#e6b100 3.8%,#e5ad00 5.7%,#e3a700 7.7%,#e2a200 9.6%,#e09c00 11.5%,#de9700 13.4%,#dc9100 15.3%,#da8a00 17.2%,#d88200 19.2%,#d67a00 21.1%,#d37200 23%,#d16a00 24.9%,#cd6100 26.8%,#ca5700 28.7%,#c64d00 30.7%,#c34400 32.6%,#bf3b00 34.5%,#bc3200 36.4%,#b72a00 38.3%,#b32200 40.2%,#af1a00 42.1%,#aa1200 44.1%,#a50a00 46%,#a10200 47.9%,#9c0004 49.8%,#95000a 51.7%,#8e0010 53.6%,#860018 55.6%,#7b0022 57.5%,#70002b 58.9%,#6c0030 59.5%,#670033 60.1%,#620034 60.6%,#5d0036 61.2%,#580037 61.8%,#510039 62.4%,#4a003b 62.9%,#43003e 63.5%,#3a0040 64.1%,#32003b 64.7%,#280030 65.2%,#1d0022 65.8%,#0f0012 66.4%,#050005 67%,#000000 67.5%,#000000 68.1%,#000000 68.7%,#000000 69.3%,#000000 69.8%,#000000 70.4%,#000000 71%,#000000 71.6%,#000000 72.1%,#020003 72.7%,#0c000e 73.3%,#19001e 73.9%,#26002d 74.4%,#300039 75%,#390040 75.6%,#41003e 76.2%,#49003c 76.7%,#500039 77.3%,#570037 77.9%,#5d0036 78.5%,#630034 79%,#680032 79.6%,#6e002d 80.2%,#730028 80.8%,#790024 81.3%,#7d0020 81.8%,#8d0011 83.7%,#9b0004 85.6%,#a60b00 87.6%,#b32200 89.5%,#bd3400 91.4%,#c34500 93.3%,#c85300 95.2%,#cd5f00 97.1%,#d06900 99.1%,#d16c00 100%)"></i><i style="left:279px;background:linear-gradient(#e8b900 0%,#e7b600 1.9%,#e6b100 3.8%,#e5ad00 5.7%,#e3a700 7.7%,#e2a200 9.6%,#e09c00 11.5%,#de9700 13.4%,#dc9100 15.3%,#da8a00 17.2%,#d88200 19.2%,#d67a00 21.1%,#d37300 23%,#d16a00 24.9%,#cd6100 26.8%,#ca5700 28.7%,#c64d00 30.7%,#c34400 32.6%,#bf3b00 34.5%,#bc3100 36.4%,#b72a00 38.3%,#b32200 40.2%,#af1a00 42.1%,#aa1200 44.1%,#a50a00 46%,#a10200 47.9%,#9c0004 49.8%,#95000a 51.7%,#8e0010 53.6%,#860018 55.6%,#7b0022 57.5%,#70002b 58.9%,#6c0030 59.5%,#670033 60.1%,#620034 60.6%,#5d0036 61.2%,#580037 61.8%,#510039 62.4%,#4a003b 62.9%,#43003e 63.5%,#3a0040 64.1%,#32003b 64.7%,#280030 65.2%,#1d0022 65.8%,#0f0012 66.4%,#050005 67%,#000000 67.5%,#000000 68.1%,#000000 68.7%,#000000 69.3%,#000000 69.8%,#000000 70.4%,#000000 71%,#000000 71.6%,#000000 72.1%,#020003 72.7%,#0c000e 73.3%,#19001e 73.9%,#26002d 74.4%,#300039 75%,#390040 75.6%,#41003e 76.2%,#49003c 76.7%,#500039 77.3%,#570037 77.9%,#5d0036 78.5%,#630034 79%,#680032 79.6%,#6e002d 80.2%,#730028 80.8%,#790024 81.3%,#7d0020 81.8%,#8d0011 83.7%,#9b0004 85.6%,#a60b00 87.6%,#b32200 89.5%,#bd3400 91.4%,#c34500 93.3%,#c85300 95.2%,#cc5f00 97.1%,#d06900 99.1%,#d16c00 100%)"></i><i style="left:281px;background:linear-gradient(#e8b900 0%,#e7b600 1.9%,#e6b100 3.8%,#e5ad00 5.7%,#e3a700 7.7%,#e2a200 9.6%,#e09c00 11.5%,#de9700 13.4%,#dc9100 15.3%,#da8a00 17.2%,#d88200 19.2%,#d67a00 21.1%,#d37300 23%,#d16a00 24.9%,#cd6100 26.8%,#ca5700 28.7%,#c64d00 30.7%,#c34400 32.6%,#bf3b00 34.5%,#bc3100 36.4%,#b72a00 38.3%,#b32200 40.2%,#af1a00 42.1%,#aa1200 44.1%,#a50a00 46%,#a10200 47.9%,#9c0004 49.8%,#95000a 51.7%,#8e0010 53.6%,#860018 55.6%,#7b0022 57.5%,#70002b 58.9%,#6c0030 59.5%,#670033 60.1%,#620034 60.6%,#5d0036 61.2%,#580037 61.8%,#510039 62.4%,#4a003b 62.9%,#43003e 63.5%,#3a0040 64.1%,#32003b 64.7%,#280030 65.2%,#1d0022 65.8%,#0f0012 66.4%,#050005 67%,#000000 67.5%,#000000 68.1%,#000000 68.7%,#000000 69.3%,#000000 69.8%,#000000 70.4%,#000000 71%,#000000 71.6%,#000000 72.1%,#020003 72.7%,#0c000e 73.3%,#19001e 73.9%,#26002d 74.4%,#300039 75%,#390040 75.6%,#41003e 76.2%,#49003c 76.7%,#500039 77.3%,#570037 77.9%,#5d0036 78.5%,#630034 79%,#680032 79.6%,#6e002e 80.2%,#730028 80.8%,#790024 81.3%,#7d0020 81.8%,#8d0011 83.7%,#9b0004 85.6%,#a60b00 87.6%,#b32100 89.5%,#bd3400 91.4%,#c34400 93.3%,#c85200 95.2%,#cc5f00 97.1%,#d06900 99.1%,#d16c00 100%)"></i><i style="left:283px;background:linear-gradient(#e8b900 0%,#e7b600 1.9%,#e6b100 3.8%,#e5ad00 5.7%,#e3a700 7.7%,#e2a200 9.6%,#e09d00 11.5%,#de9700 13.4%,#dc9100 15.3%,#da8a00 17.2%,#d88200 19.2%,#d67b00 21.1%,#d37300 23%,#d16a00 24.9%,#cd6100 26.8%,#ca5700 28.7%,#c64d00 30.7%,#c34400 32.6%,#bf3b00 34.5%,#bc3100 36.4%,#b72a00 38.3%,#b32200 40.2%,#af1a00 42.1%,#aa1200 44.1%,#a50a00 46%,#a10200 47.9%,#9c0004 49.8%,#95000a 51.7%,#8e0010 53.6%,#860018 55.6%,#7b0022 57.5%,#70002b 58.9%,#6c0030 59.5%,#670033 60.1%,#620034 60.6%,#5d0036 61.2%,#580037 61.8%,#510039 62.4%,#4a003b 62.9%,#43003e 63.5%,#3a0040 64.1%,#32003b 64.7%,#280030 65.2%,#1d0022 65.8%,#0f0012 66.4%,#050005 67%,#000000 67.5%,#000000 68.1%,#000000 68.7%,#000000 69.3%,#000000 69.8%,#000000 70.4%,#000000 71%,#000000 71.6%,#000000 72.1%,#020003 72.7%,#0c000e 73.3%,#19001e 73.9%,#26002d 74.4%,#300039 75%,#390040 75.6%,#41003e 76.2%,#49003c 76.7%,#500039 77.3%,#570037 77.9%,#5d0036 78.5%,#630034 79%,#680032 79.6%,#6e002e 80.2%,#730028 80.8%,#790024 81.3%,#7d0020 81.8%,#8d0011 83.7%,#9b0004 85.6%,#a60b00 87.6%,#b32100 89.5%,#bd3400 91.4%,#c34400 93.3%,#c85200 95.2%,#cc5e00 97.1%,#d06800 99.1%,#d16b00 100%)"></i><i style="left:285px;background:linear-gradient(#e8b900 0%,#e7b600 1.9%,#e6b100 3.8%,#e5ad00 5.7%,#e3a700 7.7%,#e2a200 9.6%,#e09d00 11.5%,#de9700 13.4%,#dc9100 15.3%,#da8a00 17.2%,#d88200 19.2%,#d67b00 21.1%,#d37300 23%,#d16a00 24.9%,#cd6100 26.8%,#ca5700 28.7%,#c64d00 30.7%,#c34400 32.6%,#bf3a00 34.5%,#bc3100 36.4%,#b72a00 38.3%,#b32200 40.2%,#af1a00 42.1%,#aa1200 44.1%,#a50a00 46%,#a10200 47.9%,#9c0004 49.8%,#95000a 51.7%,#8e0010 53.6%,#860018 55.6%,#7b0022 57.5%,#70002b 58.9%,#6c0030 59.5%,#670033 60.1%,#620034 60.6%,#5d0036 61.2%,#580037 61.8%,#510039 62.4%,#4a003b 62.9%,#43003e 63.5%,#3a0040 64.1%,#32003b 64.7%,#280030 65.2%,#1d0022 65.8%,#0f0012 66.4%,#050005 67%,#000000 67.5%,#000000 68.1%,#000000 68.7%,#000000 69.3%,#000000 69.8%,#000000 70.4%,#000000 71%,#000000 71.6%,#000000 72.1%,#020003 72.7%,#0c000e 73.3%,#19001e 73.9%,#26002d 74.4%,#300039 75%,#390040 75.6%,#41003e 76.2%,#49003c 76.7%,#500039 77.3%,#570037 77.9%,#5d0036 78.5%,#630034 79%,#680032 79.6%,#6e002e 80.2%,#730028 80.8%,#790024 81.3%,#7d0020 81.8%,#8d0011 83.7%,#9b0005 85.6%,#a60b00 87.6%,#b32100 89.5%,#bd3400 91.4%,#c34400 93.3%,#c85200 95.2%,#cc5e00 97.1%,#d06800 99.1%,#d16b00 100%)"></i><i style="left:287px;background:linear-gradient(#e8b900 0%,#e7b600 1.9%,#e6b100 3.8%,#e5ad00 5.7%,#e3a700 7.7%,#e2a200 9.6%,#e09d00 11.5%,#de9700 13.4%,#dc9100 15.3%,#da8a00 17.2%,#d88300 19.2%,#d67b00 21.1%,#d37300 23%,#d16a00 24.9%,#cd6100 26.8%,#ca5700 28.7%,#c64d00 30.7%,#c34400 32.6%,#bf3a00 34.5%,#bc3100 36.4%,#b72a00 38.3%,#b32200 40.2%,#af1a00 42.1%,#aa1200 44.1%,#a50a00 46%,#a10200 47.9%,#9c0004 49.8%,#95000a 51.7%,#8e0010 53.6%,#860018 55.6%,#7b0022 57.5%,#70002b 58.9%,#6c0030 59.5%,#670033 60.1%,#620034 60.6%,#5d0036 61.2%,#580037 61.8%,#510039 62.4%,#4a003b 62.9%,#43003e 63.5%,#3a0040 64.1%,#32003b 64.7%,#280030 65.2%,#1d0022 65.8%,#0f0012 66.4%,#050005 67%,#000000 67.5%,#000000 68.1%,#000000 68.7%,#000000 69.3%,#000000 69.8%,#000000 70.4%,#000000 71%,#000000 71.6%,#000000 72.1%,#020003 72.7%,#0c000e 73.3%,#19001e 73.9%,#26002d 74.4%,#300039 75%,#390040 75.6%,#41003e 76.2%,#49003c 76.7%,#500039 77.3%,#570037 77.9%,#5d0036 78.5%,#630034 79%,#680032 79.6%,#6e002e 80.2%,#730029 80.8%,#790024 81.3%,#7d0020 81.8%,#8d0011 83.7%,#9b0005 85.6%,#a60b00 87.6%,#b32100 89.5%,#bd3400 91.4%,#c34400 93.3%,#c85200 95.2%,#cc5e00 97.1%,#d06800 99.1%,#d16a00 100%)"></i><i style="left:289px;background:linear-gradient(#e8b900 0%,#e7b600 1.9%,#e6b100 3.8%,#e5ad00 5.7%,#e3a800 7.7%,#e2a200 9.6%,#e09d00 11.5%,#de9700 13.4%,#dd9100 15.3%,#da8a00 17.2%,#d88300 19.2%,#d67b00 21.1%,#d37300 23%,#d16a00 24.9%,#cd6100 26.8%,#ca5700 28.7%,#c64d00 30.7%,#c34400 32.6%,#bf3a00 34.5%,#bc3100 36.4%,#b72a00 38.3%,#b32200 40.2%,#af1a00 42.1%,#aa1200 44.1%,#a50a00 46%,#a10200 47.9%,#9c0004 49.8%,#95000a 51.7%,#8e0010 53.6%,#860018 55.6%,#7b0022 57.5%,#70002b 58.9%,#6c0030 59.5%,#670033 60.1%,#620034 60.6%,#5d0036 61.2%,#580037 61.8%,#510039 62.4%,#4a003b 62.9%,#43003e 63.5%,#3a0040 64.1%,#32003b 64.7%,#280030 65.2%,#1d0022 65.8%,#0f0012 66.4%,#050005 67%,#000000 67.5%,#000000 68.1%,#000000 68.7%,#000000 69.3%,#000000 69.8%,#000000 70.4%,#000000 71%,#000000 71.6%,#000000 72.1%,#020003 72.7%,#0c000e 73.3%,#19001e 73.9%,#26002d 74.4%,#300039 75%,#390040 75.6%,#41003e 76.2%,#49003c 76.7%,#500039 77.3%,#570037 77.9%,#5d0036 78.5%,#630034 79%,#680032 79.6%,#6e002e 80.2%,#730029 80.8%,#790024 81.3%,#7d0020 81.8%,#8d0011 83.7%,#9b0005 85.6%,#a60b00 87.6%,#b32100 89.5%,#bd3400 91.4%,#c24400 93.3%,#c75100 95.2%,#cc5d00 97.1%,#cf6700 99.1%,#d16a00 100%)"></i><i style="left:291px;background:linear-gradient(#e8b900 0%,#e7b600 1.9%,#e6b100 3.8%,#e5ad00 5.7%,#e3a800 7.7%,#e2a200 9.6%,#e09d00 11.5%,#de9700 13.4%,#dd9100 15.3%,#da8a00 17.2%,#d88300 19.2%,#d67b00 21.1%,#d37300 23%,#d16a00 24.9%,#cd6100 26.8%,#ca5700 28.7%,#c64d00 30.7%,#c34400 32.6%,#bf3a00 34.5%,#bc3100 36.4%,#b72a00 38.3%,#b32200 40.2%,#af1a00 42.1%,#aa1200 44.1%,#a50a00 46%,#a10200 47.9%,#9c0004 49.8%,#95000a 51.7%,#8e0010 53.6%,#860018 55.6%,#7b0022 57.5%,#70002b 58.9%,#6c0030 59.5%,#670033 60.1%,#620034 60.6%,#5d0036 61.2%,#580037 61.8%,#510039 62.4%,#4a003b 62.9%,#43003e 63.5%,#3a0040 64.1%,#32003b 64.7%,#280030 65.2%,#1d0022 65.8%,#0f0012 66.4%,#050005 67%,#000000 67.5%,#000000 68.1%,#000000 68.7%,#000000 69.3%,#000000 69.8%,#000000 70.4%,#000000 71%,#000000 71.6%,#000000 72.1%,#020003 72.7%,#0c000e 73.3%,#19001e 73.9%,#26002d 74.4%,#300039 75%,#390040 75.6%,#41003e 76.2%,#49003c 76.7%,#500039 77.3%,#570037 77.9%,#5d0036 78.5%,#630034 79%,#680032 79.6%,#6e002e 80.2%,#730029 80.8%,#790024 81.3%,#7d0020 81.8%,#8d0011 83.7%,#9b0005 85.6%,#a60a00 87.6%,#b22100 89.5%,#bd3300 91.4%,#c24400 93.3%,#c75100 95.2%,#cc5d00 97.1%,#cf6700 99.1%,#d06a00 100%)"></i><i style="left:293px;background:linear-gradient(#e8b900 0%,#e7b600 1.9%,#e6b100 3.8%,#e5ad00 5.7%,#e3a800 7.7%,#e2a200 9.6%,#e09d00 11.5%,#de9700 13.4%,#dd9100 15.3%,#db8a00 17.2%,#d88300 19.2%,#d67b00 21.1%,#d37300 23%,#d16a00 24.9%,#cd6100 26.8%,#ca5700 28.7%,#c64d00 30.7%,#c34400 32.6%,#bf3a00 34.5%,#bc3100 36.4%,#b72a00 38.3%,#b32200 40.2%,#af1a00 42.1%,#aa1200 44.1%,#a50a00 46%,#a10200 47.9%,#9c0004 49.8%,#95000a 51.7%,#8e0010 53.6%,#860018 55.6%,#7b0022 57.5%,#70002b 58.9%,#6c0030 59.5%,#670033 60.1%,#620034 60.6%,#5d0036 61.2%,#580037 61.8%,#510039 62.4%,#4a003b 62.9%,#43003e 63.5%,#3a0040 64.1%,#32003b 64.7%,#280030 65.2%,#1d0022 65.8%,#0f0012 66.4%,#050005 67%,#000000 67.5%,#000000 68.1%,#000000 68.7%,#000000 69.3%,#000000 69.8%,#000000 70.4%,#000000 71%,#000000 71.6%,#000000 72.1%,#020003 72.7%,#0c000e 73.3%,#19001e 73.9%,#26002d 74.4%,#300039 75%,#390040 75.6%,#41003e 76.2%,#49003c 76.7%,#500039 77.3%,#570037 77.9%,#5d0036 78.5%,#630034 79%,#680032 79.6%,#6e002e 80.2%,#730029 80.8%,#790024 81.3%,#7d0020 81.8%,#8d0011 83.7%,#9b0005 85.6%,#a60a00 87.6%,#b22100 89.5%,#bc3300 91.4%,#c24300 93.3%,#c75100 95.2%,#cc5d00 97.1%,#cf6600 99.1%,#d06900 100%)"></i><i style="left:295px;background:linear-gradient(#e8b900 0%,#e7b600 1.9%,#e6b100 3.8%,#e5ad00 5.7%,#e3a800 7.7%,#e2a200 9.6%,#e09d00 11.5%,#de9700 13.4%,#dd9100 15.3%,#db8b00 17.2%,#d88300 19.2%,#d67b00 21.1%,#d37300 23%,#d16a00 24.9%,#cd6100 26.8%,#ca5700 28.7%,#c64d00 30.7%,#c34400 32.6%,#bf3a00 34.5%,#bc3100 36.4%,#b72a00 38.3%,#b32200 40.2%,#af1a00 42.1%,#aa1200 44.1%,#a50a00 46%,#a10200 47.9%,#9c0004 49.8%,#95000a 51.7%,#8e0010 53.6%,#860018 55.6%,#7b0022 57.5%,#70002b 58.9%,#6c0030 59.5%,#670033 60.1%,#620034 60.6%,#5d0036 61.2%,#580037 61.8%,#510039 62.4%,#4a003b 62.9%,#43003e 63.5%,#3a0040 64.1%,#32003b 64.7%,#280030 65.2%,#1d0022 65.8%,#0f0012 66.4%,#050005 67%,#000000 67.5%,#000000 68.1%,#000000 68.7%,#000000 69.3%,#000000 69.8%,#000000 70.4%,#000000 71%,#000000 71.6%,#000000 72.1%,#020003 72.7%,#0c000e 73.3%,#19001e 73.9%,#26002d 74.4%,#300039 75%,#390040 75.6%,#41003e 76.2%,#49003c 76.7%,#500039 77.3%,#570037 77.9%,#5d0036 78.5%,#630034 79%,#680032 79.6%,#6e002e 80.2%,#730029 80.8%,#790024 81.3%,#7d0020 81.8%,#8d0011 83.7%,#9b0005 85.6%,#a60a00 87.6%,#b22100 89.5%,#bc3300 91.4%,#c24300 93.3%,#c75100 95.2%,#cc5c00 97.1%,#cf6600 99.1%,#d06900 100%)"></i><i style="left:297px;background:linear-gradient(#e8b900 0%,#e7b600 1.9%,#e6b100 3.8%,#e5ad00 5.7%,#e3a800 7.7%,#e2a200 9.6%,#e09d00 11.5%,#de9700 13.4%,#dd9100 15.3%,#db8b00 17.2%,#d88300 19.2%,#d67b00 21.1%,#d47300 23%,#d16b00 24.9%,#cd6100 26.8%,#ca5700 28.7%,#c64d00 30.7%,#c34400 32.6%,#bf3a00 34.5%,#bc3100 36.4%,#b72a00 38.3%,#b32200 40.2%,#af1a00 42.1%,#aa1200 44.1%,#a50a00 46%,#a10200 47.9%,#9c0004 49.8%,#95000a 51.7%,#8e0010 53.6%,#860018 55.6%,#7b0022 57.5%,#70002b 58.9%,#6c0030 59.5%,#670033 60.1%,#620034 60.6%,#5d0036 61.2%,#580037 61.8%,#510039 62.4%,#4a003b 62.9%,#43003e 63.5%,#3a0040 64.1%,#32003b 64.7%,#280030 65.2%,#1d0022 65.8%,#0f0012 66.4%,#050005 67%,#000000 67.5%,#000000 68.1%,#000000 68.7%,#000000 69.3%,#000000 69.8%,#000000 70.4%,#000000 71%,#000000 71.6%,#000000 72.1%,#020003 72.7%,#0c000e 73.3%,#19001e 73.9%,#26002d 74.4%,#300039 75%,#390040 75.6%,#41003e 76.2%,#49003c 76.7%,#500039 77.3%,#570037 77.9%,#5d0036 78.5%,#630034 79%,#680032 79.6%,#6e002e 80.2%,#730029 80.8%,#790024 81.3%,#7d0020 81.8%,#8d0011 83.7%,#9b0005 85.6%,#a60a00 87.6%,#b22100 89.5%,#bc3300 91.4%,#c24300 93.3%,#c75000 95.2%,#cb5c00 97.1%,#cf6600 99.1%,#d06800 100%)"></i><i style="left:299px;background:linear-gradient(#e8b900 0%,#e7b600 1.9%,#e6b100 3.8%,#e5ad00 5.7%,#e3a800 7.7%,#e2a200 9.6%,#e09d00 11.5%,#de9700 13.4%,#dd9200 15.3%,#db8b00 17.2%,#d88300 19.2%,#d67b00 21.1%,#d47300 23%,#d16b00 24.9%,#cd6100 26.8%,#ca5700 28.7%,#c64d00 30.7%,#c34400 32.6%,#bf3a00 34.5%,#bc3100 36.4%,#b72a00 38.3%,#b32200 40.2%,#af1a00 42.1%,#aa1200 44.1%,#a50a00 46%,#a10200 47.9%,#9c0004 49.8%,#95000a 51.7%,#8e0010 53.6%,#860018 55.6%,#7b0022 57.5%,#70002b 58.9%,#6c0030 59.5%,#670033 60.1%,#620034 60.6%,#5d0036 61.2%,#580037 61.8%,#510039 62.4%,#4a003b 62.9%,#43003e 63.5%,#3a0040 64.1%,#32003b 64.7%,#280030 65.2%,#1d0022 65.8%,#0f0012 66.4%,#050005 67%,#000000 67.5%,#000000 68.1%,#000000 68.7%,#000000 69.3%,#000000 69.8%,#000000 70.4%,#000000 71%,#000000 71.6%,#000000 72.1%,#020003 72.7%,#0c000e 73.3%,#19001e 73.9%,#26002d 74.4%,#300039 75%,#390040 75.6%,#41003e 76.2%,#49003c 76.7%,#500039 77.3%,#570037 77.9%,#5d0036 78.5%,#630034 79%,#680032 79.6%,#6e002e 80.2%,#730029 80.8%,#790024 81.3%,#7d0020 81.8%,#8d0011 83.7%,#9a0005 85.6%,#a60a00 87.6%,#b22100 89.5%,#bc3300 91.4%,#c24300 93.3%,#c75000 95.2%,#cb5c00 97.1%,#cf6500 99.1%,#d06800 100%)"></i><i style="left:301px;background:linear-gradient(#e8b900 0%,#e7b600 1.9%,#e6b100 3.8%,#e5ad00 5.7%,#e3a800 7.7%,#e2a200 9.6%,#e09d00 11.5%,#de9700 13.4%,#dd9200 15.3%,#db8b00 17.2%,#d88300 19.2%,#d67b00 21.1%,#d47300 23%,#d16b00 24.9%,#cd6100 26.8%,#ca5700 28.7%,#c64d00 30.7%,#c34400 32.6%,#bf3a00 34.5%,#bc3100 36.4%,#b72a00 38.3%,#b32200 40.2%,#af1a00 42.1%,#aa1200 44.1%,#a50a00 46%,#a10200 47.9%,#9c0004 49.8%,#95000a 51.7%,#8e0010 53.6%,#860018 55.6%,#7b0022 57.5%,#70002b 58.9%,#6c0030 59.5%,#670033 60.1%,#620034 60.6%,#5d0036 61.2%,#580037 61.8%,#510039 62.4%,#4a003b 62.9%,#43003e 63.5%,#3a0040 64.1%,#32003b 64.7%,#280030 65.2%,#1d0022 65.8%,#0f0012 66.4%,#050005 67%,#000000 67.5%,#000000 68.1%,#000000 68.7%,#000000 69.3%,#000000 69.8%,#000000 70.4%,#000000 71%,#000000 71.6%,#000000 72.1%,#020002 72.7%,#0c000e 73.3%,#19001e 73.9%,#26002d 74.4%,#300039 75%,#390040 75.6%,#41003e 76.2%,#49003c 76.7%,#500039 77.3%,#570037 77.9%,#5d0036 78.5%,#630034 79%,#680032 79.6%,#6e002e 80.2%,#730029 80.8%,#790024 81.3%,#7d0020 81.8%,#8d0012 83.7%,#9a0005 85.6%,#a60a00 87.6%,#b22000 89.5%,#bc3300 91.4%,#c24300 93.3%,#c75000 95.2%,#cb5c00 97.1%,#cf6500 99.1%,#d06800 100%)"></i><i style="left:303px;background:linear-gradient(#e8b900 0%,#e7b600 1.9%,#e6b100 3.8%,#e5ad00 5.7%,#e3a800 7.7%,#e2a300 9.6%,#e09d00 11.5%,#de9700 13.4%,#dd9200 15.3%,#db8b00 17.2%,#d88300 19.2%,#d67b00 21.1%,#d47300 23%,#d16b00 24.9%,#cd6100 26.8%,#ca5700 28.7%,#c64d00 30.7%,#c34400 32.6%,#bf3a00 34.5%,#bc3100 36.4%,#b72a00 38.3%,#b32200 40.2%,#af1a00 42.1%,#aa1200 44.1%,#a50a00 46%,#a10200 47.9%,#9c0004 49.8%,#95000a 51.7%,#8e0010 53.6%,#860018 55.6%,#7b0022 57.5%,#70002b 58.9%,#6c0030 59.5%,#670033 60.1%,#620034 60.6%,#5d0036 61.2%,#580037 61.8%,#510039 62.4%,#4a003b 62.9%,#43003e 63.5%,#3a0040 64.1%,#32003b 64.7%,#280030 65.2%,#1d0022 65.8%,#0f0012 66.4%,#050005 67%,#000000 67.5%,#000000 68.1%,#000000 68.7%,#000000 69.3%,#000000 69.8%,#000000 70.4%,#000000 71%,#000000 71.6%,#000000 72.1%,#020002 72.7%,#0c000e 73.3%,#19001e 73.9%,#26002d 74.4%,#300039 75%,#390040 75.6%,#41003e 76.2%,#49003c 76.7%,#500039 77.3%,#570037 77.9%,#5d0036 78.5%,#630034 79%,#680032 79.6%,#6e002e 80.2%,#730029 80.8%,#790024 81.3%,#7d0020 81.8%,#8d0012 83.7%,#9a0005 85.6%,#a50a00 87.6%,#b22000 89.5%,#bc3300 91.4%,#c24200 93.3%,#c75000 95.2%,#cb5b00 97.1%,#cf6500 99.1%,#d06700 100%)"></i><i style="left:305px;background:linear-gradient(#e8b900 0%,#e7b600 1.9%,#e6b100 3.8%,#e5ad00 5.7%,#e3a800 7.7%,#e2a300 9.6%,#e09d00 11.5%,#de9800 13.4%,#dd9200 15.3%,#db8b00 17.2%,#d88300 19.2%,#d67b00 21.1%,#d47300 23%,#d16b00 24.9%,#cd6100 26.8%,#ca5700 28.7%,#c64d00 30.7%,#c34400 32.6%,#bf3a00 34.5%,#bc3100 36.4%,#b72a00 38.3%,#b32200 40.2%,#af1a00 42.1%,#aa1200 44.1%,#a50a00 46%,#a10200 47.9%,#9c0004 49.8%,#95000a 51.7%,#8e0010 53.6%,#860018 55.6%,#7b0022 57.5%,#70002b 58.9%,#6c0030 59.5%,#670033 60.1%,#620034 60.6%,#5d0036 61.2%,#580037 61.8%,#510039 62.4%,#4a003b 62.9%,#43003e 63.5%,#3a0040 64.1%,#32003b 64.7%,#280030 65.2%,#1d0022 65.8%,#0f0012 66.4%,#050006 67%,#000000 67.5%,#000000 68.1%,#000000 68.7%,#000000 69.3%,#000000 69.8%,#000000 70.4%,#000000 71%,#000000 71.6%,#000000 72.1%,#020002 72.7%,#0c000e 73.3%,#19001e 73.9%,#26002d 74.4%,#300039 75%,#390040 75.6%,#41003e 76.2%,#49003c 76.7%,#500039 77.3%,#570037 77.9%,#5d0036 78.5%,#630034 79%,#680032 79.6%,#6e002e 80.2%,#730029 80.8%,#780024 81.3%,#7d0020 81.8%,#8d0012 83.7%,#9a0005 85.6%,#a50a00 87.6%,#b22000 89.5%,#bc3200 91.4%,#c24200 93.3%,#c74f00 95.2%,#cb5b00 97.1%,#ce6400 99.1%,#cf6700 100%)"></i><i style="left:307px;background:linear-gradient(#e8b900 0%,#e7b600 1.9%,#e6b100 3.8%,#e5ad00 5.7%,#e3a800 7.7%,#e2a300 9.6%,#e09d00 11.5%,#df9800 13.4%,#dd9200 15.3%,#db8b00 17.2%,#d88400 19.2%,#d67c00 21.1%,#d47400 23%,#d16b00 24.9%,#cd6100 26.8%,#ca5700 28.7%,#c64d00 30.7%,#c34400 32.6%,#bf3a00 34.5%,#bc3100 36.4%,#b72a00 38.3%,#b32200 40.2%,#af1a00 42.1%,#aa1200 44.1%,#a50a00 46%,#a10200 47.9%,#9c0004 49.8%,#95000a 51.7%,#8e0010 53.6%,#860018 55.6%,#7b0022 57.5%,#70002b 58.9%,#6c0030 59.5%,#670033 60.1%,#620034 60.6%,#5d0036 61.2%,#580037 61.8%,#510039 62.4%,#4a003b 62.9%,#43003e 63.5%,#3a0040 64.1%,#32003b 64.7%,#280030 65.2%,#1d0022 65.8%,#0f0012 66.4%,#050006 67%,#000000 67.5%,#000000 68.1%,#000000 68.7%,#000000 69.3%,#000000 69.8%,#000000 70.4%,#000000 71%,#000000 71.6%,#000000 72.1%,#020002 72.7%,#0c000e 73.3%,#19001e 73.9%,#26002d 74.4%,#300039 75%,#390040 75.6%,#41003e 76.2%,#49003c 76.7%,#500039 77.3%,#570037 77.9%,#5d0036 78.5%,#630034 79%,#680032 79.6%,#6e002e 80.2%,#730029 80.8%,#780024 81.3%,#7d0020 81.8%,#8c0012 83.7%,#9a0006 85.6%,#a50a00 87.6%,#b22000 89.5%,#bc3200 91.4%,#c24200 93.3%,#c74f00 95.2%,#cb5b00 97.1%,#ce6400 99.1%,#cf6700 100%)"></i><i style="left:309px;background:linear-gradient(#e8b900 0%,#e7b600 1.9%,#e6b100 3.8%,#e5ad00 5.7%,#e3a800 7.7%,#e2a300 9.6%,#e09d00 11.5%,#df9800 13.4%,#dd9200 15.3%,#db8b00 17.2%,#d98400 19.2%,#d67c00 21.1%,#d47400 23%,#d16b00 24.9%,#cd6100 26.8%,#ca5700 28.7%,#c64d00 30.7%,#c34400 32.6%,#bf3a00 34.5%,#bc3100 36.4%,#b72a00 38.3%,#b32200 40.2%,#af1a00 42.1%,#aa1200 44.1%,#a50a00 46%,#a10200 47.9%,#9c0004 49.8%,#95000a 51.7%,#8e0010 53.6%,#860018 55.6%,#7b0022 57.5%,#70002b 58.9%,#6c0030 59.5%,#670033 60.1%,#620034 60.6%,#5d0036 61.2%,#580037 61.8%,#510039 62.4%,#4a003b 62.9%,#43003e 63.5%,#3a0040 64.1%,#32003b 64.7%,#280030 65.2%,#1d0022 65.8%,#0f0012 66.4%,#050006 67%,#000000 67.5%,#000000 68.1%,#000000 68.7%,#000000 69.3%,#000000 69.8%,#000000 70.4%,#000000 71%,#000000 71.6%,#000000 72.1%,#020002 72.7%,#0c000e 73.3%,#19001e 73.9%,#26002d 74.4%,#300039 75%,#390040 75.6%,#41003e 76.2%,#49003c 76.7%,#500039 77.3%,#570037 77.9%,#5d0036 78.5%,#630034 79%,#680032 79.6%,#6e002e 80.2%,#730029 80.8%,#780024 81.3%,#7d0020 81.8%,#8c0012 83.7%,#9a0006 85.6%,#a50900 87.6%,#b22000 89.5%,#bc3200 91.4%,#c24200 93.3%,#c74f00 95.2%,#cb5b00 97.1%,#ce6400 99.1%,#cf6600 100%)"></i><i style="left:311px;background:linear-gradient(#e8b900 0%,#e7b600 1.9%,#e6b100 3.8%,#e5ad00 5.7%,#e3a800 7.7%,#e2a300 9.6%,#e09e00 11.5%,#df9800 13.4%,#dd9200 15.3%,#db8c00 17.2%,#d98400 19.2%,#d67c00 21.1%,#d47400 23%,#d16b00 24.9%,#cd6100 26.8%,#ca5700 28.7%,#c64d00 30.7%,#c34400 32.6%,#bf3a00 34.5%,#bc3100 36.4%,#b72a00 38.3%,#b32200 40.2%,#af1a00 42.1%,#aa1200 44.1%,#a50a00 46%,#a10200 47.9%,#9c0004 49.8%,#95000a 51.7%,#8e0010 53.6%,#860018 55.6%,#7b0022 57.5%,#70002b 58.9%,#6c0030 59.5%,#670033 60.1%,#620034 60.6%,#5d0036 61.2%,#580037 61.8%,#510039 62.4%,#4a003b 62.9%,#43003e 63.5%,#3a0040 64.1%,#32003b 64.7%,#280030 65.2%,#1d0022 65.8%,#0f0012 66.4%,#050006 67%,#000000 67.5%,#000000 68.1%,#000000 68.7%,#000000 69.3%,#000000 69.8%,#000000 70.4%,#000000 71%,#000000 71.6%,#000000 72.1%,#020002 72.7%,#0c000e 73.3%,#19001e 73.9%,#26002d 74.4%,#300039 75%,#390040 75.6%,#41003e 76.2%,#49003c 76.7%,#500039 77.3%,#570037 77.9%,#5d0036 78.5%,#630034 79%,#680032 79.6%,#6e002e 80.2%,#730029 80.8%,#780024 81.3%,#7c0020 81.8%,#8c0012 83.7%,#9a0006 85.6%,#a50900 87.6%,#b22000 89.5%,#bc3200 91.4%,#c24200 93.3%,#c74f00 95.2%,#cb5a00 97.1%,#ce6300 99.1%,#cf6600 100%)"></i><i style="left:313px;background:linear-gradient(#e8b900 0%,#e7b600 1.9%,#e6b100 3.8%,#e5ad00 5.7%,#e3a800 7.7%,#e2a300 9.6%,#e09e00 11.5%,#df9800 13.4%,#dd9200 15.3%,#db8c00 17.2%,#d98400 19.2%,#d67c00 21.1%,#d47400 23%,#d16b00 24.9%,#cd6100 26.8%,#ca5700 28.7%,#c64e00 30.7%,#c34400 32.6%,#bf3a00 34.5%,#bc3100 36.4%,#b72a00 38.3%,#b32200 40.2%,#af1a00 42.1%,#aa1200 44.1%,#a50a00 46%,#a10200 47.9%,#9c0004 49.8%,#95000a 51.7%,#8e0010 53.6%,#860018 55.6%,#7b0022 57.5%,#70002b 58.9%,#6c0030 59.5%,#670033 60.1%,#620034 60.6%,#5d0036 61.2%,#580037 61.8%,#510039 62.4%,#4a003b 62.9%,#43003e 63.5%,#3a0040 64.1%,#32003b 64.7%,#280030 65.2%,#1d0022 65.8%,#0f0012 66.4%,#050006 67%,#000000 67.5%,#000000 68.1%,#000000 68.7%,#000000 69.3%,#000000 69.8%,#000000 70.4%,#000000 71%,#000000 71.6%,#000000 72.1%,#020002 72.7%,#0c000e 73.3%,#19001e 73.9%,#26002d 74.4%,#300039 75%,#390040 75.6%,#41003e 76.2%,#49003c 76.7%,#500039 77.3%,#570037 77.9%,#5d0036 78.5%,#630034 79%,#680032 79.6%,#6e002e 80.2%,#730029 80.8%,#780024 81.3%,#7c0020 81.8%,#8c0012 83.7%,#9a0006 85.6%,#a50900 87.6%,#b22000 89.5%,#bc3200 91.4%,#c24200 93.3%,#c74f00 95.2%,#cb5a00 97.1%,#ce6300 99.1%,#cf6600 100%)"></i><i style="left:315px;background:linear-gradient(#e8b900 0%,#e8b600 1.9%,#e6b200 3.8%,#e5ad00 5.7%,#e3a800 7.7%,#e2a300 9.6%,#e09e00 11.5%,#df9800 13.4%,#dd9300 15.3%,#db8c00 17.2%,#d98400 19.2%,#d67c00 21.1%,#d47400 23%,#d16c00 24.9%,#cd6100 26.8%,#ca5700 28.7%,#c64e00 30.7%,#c34400 32.6%,#bf3a00 34.5%,#bc3100 36.4%,#b72a00 38.3%,#b32200 40.2%,#af1a00 42.1%,#aa1200 44.1%,#a50a00 46%,#a10200 47.9%,#9c0004 49.8%,#95000a 51.7%,#8e0010 53.6%,#860018 55.6%,#7b0022 57.5%,#70002b 58.9%,#6c0030 59.5%,#670033 60.1%,#620034 60.6%,#5d0036 61.2%,#580037 61.8%,#510039 62.4%,#4a003b 62.9%,#43003e 63.5%,#3a0040 64.1%,#32003b 64.7%,#280030 65.2%,#1d0022 65.8%,#100012 66.4%,#050006 67%,#000000 67.5%,#000000 68.1%,#000000 68.7%,#000000 69.3%,#000000 69.8%,#000000 70.4%,#000000 71%,#000000 71.6%,#000000 72.1%,#020002 72.7%,#0c000e 73.3%,#19001e 73.9%,#26002d 74.4%,#300039 75%,#390040 75.6%,#41003e 76.2%,#49003c 76.7%,#500039 77.3%,#570037 77.9%,#5d0036 78.5%,#630034 79%,#680032 79.6%,#6e002e 80.2%,#730029 80.8%,#780024 81.3%,#7c0020 81.8%,#8c0012 83.7%,#990006 85.6%,#a50900 87.6%,#b22000 89.5%,#bc3200 91.4%,#c24200 93.3%,#c64e00 95.2%,#cb5a00 97.1%,#ce6300 99.1%,#cf6500 100%)"></i><i style="left:317px;background:linear-gradient(#e8b900 0%,#e8b600 1.9%,#e6b200 3.8%,#e5ad00 5.7%,#e3a800 7.7%,#e2a300 9.6%,#e09e00 11.5%,#df9800 13.4%,#dd9300 15.3%,#db8c00 17.2%,#d98400 19.2%,#d67c00 21.1%,#d47400 23%,#d16c00 24.9%,#cd6200 26.8%,#ca5700 28.7%,#c64e00 30.7%,#c34400 32.6%,#bf3a00 34.5%,#bc3100 36.4%,#b72a00 38.3%,#b32200 40.2%,#af1a00 42.1%,#aa1200 44.1%,#a50a00 46%,#a10200 47.9%,#9c0004 49.8%,#95000a 51.7%,#8e0010 53.6%,#860018 55.6%,#7b0022 57.5%,#70002b 58.9%,#6c0030 59.5%,#670033 60.1%,#620034 60.6%,#5d0036 61.2%,#580037 61.8%,#510039 62.4%,#4a003b 62.9%,#43003e 63.5%,#3a0040 64.1%,#32003b 64.7%,#280030 65.2%,#1d0022 65.8%,#100012 66.4%,#050006 67%,#000000 67.5%,#000000 68.1%,#000000 68.7%,#000000 69.3%,#000000 69.8%,#000000 70.4%,#000000 71%,#000000 71.6%,#000000 72.1%,#020002 72.7%,#0b000e 73.3%,#19001e 73.9%,#26002d 74.4%,#300039 75%,#390040 75.6%,#41003e 76.2%,#49003c 76.7%,#500039 77.3%,#570037 77.9%,#5d0036 78.5%,#630034 79%,#680032 79.6%,#6e002e 80.2%,#730029 80.8%,#780024 81.3%,#7c0021 81.8%,#8c0012 83.7%,#990006 85.6%,#a50900 87.6%,#b21f00 89.5%,#bc3200 91.4%,#c24100 93.3%,#c64e00 95.2%,#cb5a00 97.1%,#ce6300 99.1%,#cf6500 100%)"></i><i style="left:319px;background:linear-gradient(#e8b900 0%,#e8b600 1.9%,#e6b200 3.8%,#e5ad00 5.7%,#e3a800 7.7%,#e2a300 9.6%,#e09e00 11.5%,#df9800 13.4%,#dd9300 15.3%,#db8c00 17.2%,#d98500 19.2%,#d67d00 21.1%,#d47400 23%,#d16c00 24.9%,#cd6200 26.8%,#ca5800 28.7%,#c64e00 30.7%,#c34400 32.6%,#bf3a00 34.5%,#bc3100 36.4%,#b72a00 38.3%,#b32200 40.2%,#af1a00 42.1%,#aa1200 44.1%,#a50a00 46%,#a10200 47.9%,#9c0004 49.8%,#95000a 51.7%,#8e0010 53.6%,#860018 55.6%,#7b0022 57.5%,#70002b 58.9%,#6c0030 59.5%,#670033 60.1%,#620034 60.6%,#5d0036 61.2%,#580037 61.8%,#510039 62.4%,#4a003b 62.9%,#43003e 63.5%,#3a0040 64.1%,#32003b 64.7%,#280030 65.2%,#1d0022 65.8%,#100012 66.4%,#050006 67%,#000000 67.5%,#000000 68.1%,#000000 68.7%,#000000 69.3%,#000000 69.8%,#000000 70.4%,#000000 71%,#000000 71.6%,#000000 72.1%,#020002 72.7%,#0b000e 73.3%,#19001e 73.9%,#26002d 74.4%,#300039 75%,#390040 75.6%,#41003e 76.2%,#49003c 76.7%,#500039 77.3%,#570037 77.9%,#5d0036 78.5%,#630034 79%,#680032 79.6%,#6d002e 80.2%,#730029 80.8%,#780024 81.3%,#7c0021 81.8%,#8c0013 83.7%,#990006 85.6%,#a50900 87.6%,#b21f00 89.5%,#bc3200 91.4%,#c24100 93.3%,#c64e00 95.2%,#ca5900 97.1%,#ce6200 99.1%,#cf6500 100%)"></i><i style="left:321px;background:linear-gradient(#e8b900 0%,#e8b600 1.9%,#e6b200 3.8%,#e5ad00 5.7%,#e3a800 7.7%,#e2a300 9.6%,#e09e00 11.5%,#df9900 13.4%,#dd9300 15.3%,#db8c00 17.2%,#d98500 19.2%,#d67d00 21.1%,#d47400 23%,#d16c00 24.9%,#ce6200 26.8%,#ca5800 28.7%,#c64e00 30.7%,#c34400 32.6%,#bf3a00 34.5%,#bc3100 36.4%,#b72a00 38.3%,#b32200 40.2%,#af1a00 42.1%,#aa1200 44.1%,#a50a00 46%,#a10200 47.9%,#9c0004 49.8%,#95000a 51.7%,#8e0010 53.6%,#860018 55.6%,#7b0022 57.5%,#70002b 58.9%,#6c0030 59.5%,#670033 60.1%,#620034 60.6%,#5d0036 61.2%,#580037 61.8%,#510039 62.4%,#4a003b 62.9%,#43003e 63.5%,#3a0040 64.1%,#32003b 64.7%,#280030 65.2%,#1d0022 65.8%,#100012 66.4%,#050006 67%,#000000 67.5%,#000000 68.1%,#000000 68.7%,#000000 69.3%,#000000 69.8%,#000000 70.4%,#000000 71%,#000000 71.6%,#000000 72.1%,#020002 72.7%,#0b000d 73.3%,#19001e 73.9%,#26002d 74.4%,#300039 75%,#390040 75.6%,#41003e 76.2%,#49003c 76.7%,#500039 77.3%,#570037 77.9%,#5d0036 78.5%,#630034 79%,#680032 79.6%,#6d002e 80.2%,#730029 80.8%,#780025 81.3%,#7c0021 81.8%,#8b0013 83.7%,#990007 85.6%,#a50900 87.6%,#b11f00 89.5%,#bc3100 91.4%,#c24100 93.3%,#c64e00 95.2%,#ca5900 97.1%,#ce6200 99.1%,#cf6500 100%)"></i><i style="left:323px;background:linear-gradient(#e8b900 0%,#e8b600 1.9%,#e6b200 3.8%,#e5ad00 5.7%,#e4a800 7.7%,#e2a300 9.6%,#e09e00 11.5%,#df9900 13.4%,#dd9300 15.3%,#db8c00 17.2%,#d98500 19.2%,#d67d00 21.1%,#d47500 23%,#d16c00 24.9%,#ce6200 26.8%,#ca5800 28.7%,#c64e00 30.7%,#c34400 32.6%,#bf3a00 34.5%,#bc3100 36.4%,#b72a00 38.3%,#b32200 40.2%,#af1a00 42.1%,#aa1200 44.1%,#a50a00 46%,#a10200 47.9%,#9c0004 49.8%,#95000a 51.7%,#8e0010 53.6%,#860018 55.6%,#7b0022 57.5%,#70002b 58.9%,#6c0030 59.5%,#670033 60.1%,#620034 60.6%,#5d0036 61.2%,#580037 61.8%,#510039 62.4%,#4a003b 62.9%,#43003e 63.5%,#3a0040 64.1%,#32003b 64.7%,#280030 65.2%,#1d0022 65.8%,#100012 66.4%,#050006 67%,#000000 67.5%,#000000 68.1%,#000000 68.7%,#000000 69.3%,#000000 69.8%,#000000 70.4%,#000000 71%,#000000 71.6%,#000000 72.1%,#020002 72.7%,#0b000d 73.3%,#19001e 73.9%,#26002d 74.4%,#300039 75%,#390040 75.6%,#41003e 76.2%,#49003c 76.7%,#500039 77.3%,#570037 77.9%,#5d0036 78.5%,#630034 79%,#680032 79.6%,#6d002e 80.2%,#730029 80.8%,#780025 81.3%,#7c0021 81.8%,#8b0013 83.7%,#990007 85.6%,#a50800 87.6%,#b11f00 89.5%,#bc3100 91.4%,#c14100 93.3%,#c64e00 95.2%,#ca5900 97.1%,#ce6200 99.1%,#ce6400 100%)"></i><i style="left:325px;background:linear-gradient(#e8b900 0%,#e8b600 1.9%,#e6b200 3.8%,#e5ad00 5.7%,#e4a800 7.7%,#e2a400 9.6%,#e19e00 11.5%,#df9900 13.4%,#dd9300 15.3%,#db8d00 17.2%,#d98500 19.2%,#d77d00 21.1%,#d47500 23%,#d16c00 24.9%,#ce6200 26.8%,#ca5800 28.7%,#c64e00 30.7%,#c34400 32.6%,#bf3a00 34.5%,#bc3100 36.4%,#b72a00 38.3%,#b32200 40.2%,#af1a00 42.1%,#aa1200 44.1%,#a50a00 46%,#a10200 47.9%,#9c0004 49.8%,#95000a 51.7%,#8e0010 53.6%,#860018 55.6%,#7b0022 57.5%,#70002b 58.9%,#6c0030 59.5%,#670033 60.1%,#620034 60.6%,#5d0036 61.2%,#580037 61.8%,#510039 62.4%,#4a003b 62.9%,#42003e 63.5%,#3a0040 64.1%,#32003b 64.7%,#280030 65.2%,#1d0022 65.8%,#100013 66.4%,#050006 67%,#000000 67.5%,#000000 68.1%,#000000 68.7%,#000000 69.3%,#000000 69.8%,#000000 70.4%,#000000 71%,#000000 71.6%,#000000 72.1%,#020002 72.7%,#0b000d 73.3%,#19001e 73.9%,#26002d 74.4%,#300039 75%,#390040 75.6%,#41003e 76.2%,#49003c 76.7%,#500039 77.3%,#570037 77.9%,#5d0036 78.5%,#630034 79%,#680032 79.6%,#6d002e 80.2%,#730029 80.8%,#780025 81.3%,#7c0021 81.8%,#8b0013 83.7%,#980007 85.6%,#a50800 87.6%,#b11f00 89.5%,#bc3100 91.4%,#c14100 93.3%,#c64e00 95.2%,#ca5900 97.1%,#cd6200 99.1%,#ce6400 100%)"></i><i style="left:327px;background:linear-gradient(#e8b900 0%,#e8b600 1.9%,#e6b200 3.8%,#e5ad00 5.7%,#e4a900 7.7%,#e2a400 9.6%,#e19f00 11.5%,#df9900 13.4%,#dd9300 15.3%,#db8d00 17.2%,#d98500 19.2%,#d77d00 21.1%,#d47500 23%,#d16d00 24.9%,#ce6200 26.8%,#ca5800 28.7%,#c64e00 30.7%,#c34400 32.6%,#bf3a00 34.5%,#bc3100 36.4%,#b72a00 38.3%,#b32200 40.2%,#af1a00 42.1%,#aa1200 44.1%,#a50a00 46%,#a10200 47.9%,#9c0004 49.8%,#95000a 51.7%,#8e0010 53.6%,#860018 55.6%,#7b0022 57.5%,#70002b 58.9%,#6c0030 59.5%,#670033 60.1%,#620034 60.6%,#5d0036 61.2%,#580037 61.8%,#510039 62.4%,#4a003b 62.9%,#42003e 63.5%,#3a0040 64.1%,#32003b 64.7%,#280030 65.2%,#1d0022 65.8%,#100013 66.4%,#050006 67%,#000000 67.5%,#000000 68.1%,#000000 68.7%,#000000 69.3%,#000000 69.8%,#000000 70.4%,#000000 71%,#000000 71.6%,#000000 72.1%,#020002 72.7%,#0b000d 73.3%,#19001e 73.9%,#26002d 74.4%,#300039 75%,#390040 75.6%,#41003e 76.2%,#49003c 76.7%,#500039 77.3%,#570037 77.9%,#5d0036 78.5%,#620034 79%,#680032 79.6%,#6d002e 80.2%,#720029 80.8%,#770025 81.3%,#7c0021 81.8%,#8b0013 83.7%,#980007 85.6%,#a50800 87.6%,#b11f00 89.5%,#bb3100 91.4%,#c14100 93.3%,#c64e00 95.2%,#ca5900 97.1%,#cd6100 99.1%,#ce6400 100%)"></i><i style="left:329px;background:linear-gradient(#e8b900 0%,#e8b600 1.9%,#e6b200 3.8%,#e5ad00 5.7%,#e4a900 7.7%,#e2a400 9.6%,#e19f00 11.5%,#df9900 13.4%,#dd9400 15.3%,#db8d00 17.2%,#d98500 19.2%,#d77d00 21.1%,#d47500 23%,#d26d00 24.9%,#ce6200 26.8%,#ca5800 28.7%,#c64e00 30.7%,#c34400 32.6%,#bf3a00 34.5%,#bc3100 36.4%,#b72a00 38.3%,#b32200 40.2%,#af1a00 42.1%,#aa1200 44.1%,#a50a00 46%,#a10200 47.9%,#9c0004 49.8%,#95000a 51.7%,#8e0010 53.6%,#860018 55.6%,#7b0022 57.5%,#70002b 58.9%,#6c0030 59.5%,#670033 60.1%,#620034 60.6%,#5d0036 61.2%,#580037 61.8%,#510039 62.4%,#4a003b 62.9%,#42003e 63.5%,#3a0040 64.1%,#32003b 64.7%,#280030 65.2%,#1d0022 65.8%,#100013 66.4%,#050006 67%,#000000 67.5%,#000000 68.1%,#000000 68.7%,#000000 69.3%,#000000 69.8%,#000000 70.4%,#000000 71%,#000000 71.6%,#000000 72.1%,#020002 72.7%,#0b000d 73.3%,#19001e 73.9%,#26002d 74.4%,#300039 75%,#390040 75.6%,#41003e 76.2%,#49003c 76.7%,#500039 77.3%,#570037 77.9%,#5d0036 78.5%,#620034 79%,#680032 79.6%,#6d002e 80.2%,#72002a 80.8%,#770025 81.3%,#7b0021 81.8%,#8b0013 83.7%,#980007 85.6%,#a50800 87.6%,#b11f00 89.5%,#bb3100 91.4%,#c14100 93.3%,#c64d00 95.2%,#ca5900 97.1%,#cd6100 99.1%,#ce6400 100%)"></i><i style="left:331px;background:linear-gradient(#e8b900 0%,#e8b600 1.9%,#e6b200 3.8%,#e5ae00 5.7%,#e4a900 7.7%,#e2a400 9.6%,#e19f00 11.5%,#df9900 13.4%,#dd9400 15.3%,#db8d00 17.2%,#d98600 19.2%,#d77e00 21.1%,#d47500 23%,#d26d00 24.9%,#ce6300 26.8%,#ca5800 28.7%,#c64e00 30.7%,#c34400 32.6%,#bf3a00 34.5%,#bc3100 36.4%,#b72a00 38.3%,#b32200 40.2%,#af1a00 42.1%,#aa1200 44.1%,#a50a00 46%,#a10200 47.9%,#9c0004 49.8%,#95000a 51.7%,#8e0010 53.6%,#860018 55.6%,#7b0022 57.5%,#70002b 58.9%,#6c0030 59.5%,#670033 60.1%,#620034 60.6%,#5d0036 61.2%,#580037 61.8%,#510039 62.4%,#4a003b 62.9%,#42003e 63.5%,#3a0040 64.1%,#32003b 64.7%,#280030 65.2%,#1d0022 65.8%,#100013 66.4%,#050006 67%,#000000 67.5%,#000000 68.1%,#000000 68.7%,#000000 69.3%,#000000 69.8%,#000000 70.4%,#000000 71%,#000000 71.6%,#000000 72.1%,#020002 72.7%,#0b000d 73.3%,#19001e 73.9%,#26002d 74.4%,#300039 75%,#390040 75.6%,#41003e 76.2%,#49003c 76.7%,#500039 77.3%,#570037 77.9%,#5d0036 78.5%,#620034 79%,#680032 79.6%,#6d002e 80.2%,#72002a 80.8%,#770025 81.3%,#7b0021 81.8%,#8a0014 83.7%,#980007 85.6%,#a40800 87.6%,#b11e00 89.5%,#bb3100 91.4%,#c14000 93.3%,#c64d00 95.2%,#ca5800 97.1%,#cd6100 99.1%,#ce6300 100%)"></i><i style="left:333px;background:linear-gradient(#e8b900 0%,#e8b600 1.9%,#e6b200 3.8%,#e5ae00 5.7%,#e4a900 7.7%,#e2a400 9.6%,#e19f00 11.5%,#df9a00 13.4%,#dd9400 15.3%,#db8d00 17.2%,#d98600 19.2%,#d77e00 21.1%,#d47600 23%,#d26d00 24.9%,#ce6300 26.8%,#ca5800 28.7%,#c64e00 30.7%,#c34400 32.6%,#bf3a00 34.5%,#bc3100 36.4%,#b72a00 38.3%,#b32200 40.2%,#af1a00 42.1%,#aa1200 44.1%,#a50a00 46%,#a10200 47.9%,#9c0004 49.8%,#95000a 51.7%,#8e0010 53.6%,#860018 55.6%,#7b0022 57.5%,#70002b 58.9%,#6c0030 59.5%,#670033 60.1%,#620034 60.6%,#5d0036 61.2%,#580037 61.8%,#510039 62.4%,#4a003b 62.9%,#42003e 63.5%,#3a0040 64.1%,#32003b 64.7%,#280030 65.2%,#1d0022 65.8%,#100013 66.4%,#050006 67%,#000000 67.5%,#000000 68.1%,#000000 68.7%,#000000 69.3%,#000000 69.8%,#000000 70.4%,#000000 71%,#000000 71.6%,#000000 72.1%,#020002 72.7%,#0b000d 73.3%,#19001e 73.9%,#26002d 74.4%,#300039 75%,#390040 75.6%,#41003e 76.2%,#49003c 76.7%,#500039 77.3%,#570037 77.9%,#5d0036 78.5%,#620034 79%,#680032 79.6%,#6d002e 80.2%,#72002a 80.8%,#770025 81.3%,#7b0022 81.8%,#8a0014 83.7%,#980008 85.6%,#a40800 87.6%,#b11e00 89.5%,#bb3100 91.4%,#c14000 93.3%,#c64d00 95.2%,#ca5800 97.1%,#cd6100 99.1%,#ce6300 100%)"></i><i style="left:335px;background:linear-gradient(#e8b900 0%,#e8b600 1.9%,#e6b200 3.8%,#e5ae00 5.7%,#e4a900 7.7%,#e2a400 9.6%,#e19f00 11.5%,#df9a00 13.4%,#dd9400 15.3%,#db8e00 17.2%,#d98600 19.2%,#d77e00 21.1%,#d47600 23%,#d26d00 24.9%,#ce6300 26.8%,#ca5800 28.7%,#c64e00 30.7%,#c34400 32.6%,#bf3a00 34.5%,#bc3100 36.4%,#b72a00 38.3%,#b32200 40.2%,#af1a00 42.1%,#aa1200 44.1%,#a50a00 46%,#a10200 47.9%,#9c0004 49.8%,#95000a 51.7%,#8e0010 53.6%,#860018 55.6%,#7b0022 57.5%,#70002b 58.9%,#6c0030 59.5%,#670033 60.1%,#620034 60.6%,#5d0036 61.2%,#580037 61.8%,#510039 62.4%,#4a003b 62.9%,#42003e 63.5%,#3a0040 64.1%,#32003b 64.7%,#280030 65.2%,#1d0022 65.8%,#100013 66.4%,#050006 67%,#000000 67.5%,#000000 68.1%,#000000 68.7%,#000000 69.3%,#000000 69.8%,#000000 70.4%,#000000 71%,#000000 71.6%,#000000 72.1%,#020002 72.7%,#0b000d 73.3%,#19001d 73.9%,#26002d 74.4%,#300039 75%,#390040 75.6%,#41003e 76.2%,#49003c 76.7%,#500039 77.3%,#570037 77.9%,#5d0036 78.5%,#620034 79%,#680032 79.6%,#6d002f 80.2%,#72002a 80.8%,#770025 81.3%,#7b0022 81.8%,#8a0014 83.7%,#970008 85.6%,#a40800 87.6%,#b11e00 89.5%,#bb3100 91.4%,#c14000 93.3%,#c64d00 95.2%,#ca5800 97.1%,#cd6100 99.1%,#ce6300 100%)"></i><i style="left:337px;background:linear-gradient(#e8b900 0%,#e8b600 1.9%,#e6b200 3.8%,#e5ae00 5.7%,#e4a900 7.7%,#e2a400 9.6%,#e19f00 11.5%,#df9a00 13.4%,#dd9400 15.3%,#dc8e00 17.2%,#d98600 19.2%,#d77e00 21.1%,#d47600 23%,#d26e00 24.9%,#ce6300 26.8%,#ca5800 28.7%,#c64e00 30.7%,#c34400 32.6%,#bf3a00 34.5%,#bc3100 36.4%,#b72a00 38.3%,#b32200 40.2%,#af1a00 42.1%,#aa1200 44.1%,#a50a00 46%,#a10200 47.9%,#9c0004 49.8%,#95000a 51.7%,#8e0010 53.6%,#860018 55.6%,#7b0022 57.5%,#70002b 58.9%,#6c0030 59.5%,#670033 60.1%,#620034 60.6%,#5d0036 61.2%,#580037 61.8%,#510039 62.4%,#4a003b 62.9%,#42003e 63.5%,#3a0040 64.1%,#32003b 64.7%,#280030 65.2%,#1d0022 65.8%,#100013 66.4%,#050006 67%,#000000 67.5%,#000000 68.1%,#000000 68.7%,#000000 69.3%,#000000 69.8%,#000000 70.4%,#000000 71%,#000000 71.6%,#000000 72.1%,#020002 72.7%,#0b000d 73.3%,#19001d 73.9%,#26002d 74.4%,#300039 75%,#390040 75.6%,#41003e 76.2%,#49003c 76.7%,#500039 77.3%,#570037 77.9%,#5d0036 78.5%,#620034 79%,#670032 79.6%,#6d002f 80.2%,#72002a 80.8%,#770026 81.3%,#7b0022 81.8%,#8a0014 83.7%,#970008 85.6%,#a40800 87.6%,#b11e00 89.5%,#bb3000 91.4%,#c14000 93.3%,#c64d00 95.2%,#ca5800 97.1%,#cd6100 99.1%,#ce6300 100%)"></i><i style="left:339px;background:linear-gradient(#e8b900 0%,#e8b600 1.9%,#e6b200 3.8%,#e5ae00 5.7%,#e4a900 7.7%,#e2a500 9.6%,#e19f00 11.5%,#df9a00 13.4%,#de9400 15.3%,#dc8e00 17.2%,#d98600 19.2%,#d77e00 21.1%,#d47600 23%,#d26e00 24.9%,#ce6300 26.8%,#ca5900 28.7%,#c64e00 30.7%,#c34400 32.6%,#bf3a00 34.5%,#bc3100 36.4%,#b72a00 38.3%,#b32200 40.2%,#af1a00 42.1%,#aa1200 44.1%,#a50a00 46%,#a10200 47.9%,#9c0004 49.8%,#95000a 51.7%,#8e0010 53.6%,#860018 55.6%,#7b0022 57.5%,#70002b 58.9%,#6c0030 59.5%,#670033 60.1%,#620034 60.6%,#5d0036 61.2%,#580037 61.8%,#510039 62.4%,#4a003b 62.9%,#42003e 63.5%,#3a0040 64.1%,#32003b 64.7%,#280030 65.2%,#1d0022 65.8%,#100013 66.4%,#050006 67%,#000000 67.5%,#000000 68.1%,#000000 68.7%,#000000 69.3%,#000000 69.8%,#000000 70.4%,#000000 71%,#000000 71.6%,#000000 72.1%,#020002 72.7%,#0b000d 73.3%,#19001d 73.9%,#26002d 74.4%,#300039 75%,#390040 75.6%,#41003e 76.2%,#49003c 76.7%,#500039 77.3%,#570037 77.9%,#5d0036 78.5%,#620034 79%,#670032 79.6%,#6d002f 80.2%,#72002a 80.8%,#760026 81.3%,#7a0022 81.8%,#890014 83.7%,#970008 85.6%,#a40700 87.6%,#b11e00 89.5%,#bb3000 91.4%,#c14000 93.3%,#c64d00 95.2%,#ca5800 97.1%,#cd6000 99.1%,#ce6300 100%)"></i><i style="left:341px;background:linear-gradient(#e8b900 0%,#e8b600 1.9%,#e7b200 3.8%,#e5ae00 5.7%,#e4aa00 7.7%,#e2a500 9.6%,#e1a000 11.5%,#df9a00 13.4%,#de9500 15.3%,#dc8e00 17.2%,#d98700 19.2%,#d77f00 21.1%,#d57600 23%,#d26e00 24.9%,#ce6400 26.8%,#ca5900 28.7%,#c64e00 30.7%,#c34400 32.6%,#bf3a00 34.5%,#bc3100 36.4%,#b72a00 38.3%,#b32200 40.2%,#af1a00 42.1%,#aa1200 44.1%,#a50a00 46%,#a10200 47.9%,#9c0004 49.8%,#95000a 51.7%,#8e0010 53.6%,#860018 55.6%,#7b0022 57.5%,#70002b 58.9%,#6c0030 59.5%,#670033 60.1%,#620034 60.6%,#5d0036 61.2%,#580037 61.8%,#510039 62.4%,#4a003b 62.9%,#42003e 63.5%,#3a0040 64.1%,#32003b 64.7%,#280030 65.2%,#1d0022 65.8%,#100013 66.4%,#050006 67%,#000000 67.5%,#000000 68.1%,#000000 68.7%,#000000 69.3%,#000000 69.8%,#000000 70.4%,#000000 71%,#000000 71.6%,#000000 72.1%,#020002 72.7%,#0b000d 73.3%,#19001d 73.9%,#26002d 74.4%,#300039 75%,#390040 75.6%,#41003e 76.2%,#49003c 76.7%,#500039 77.3%,#570037 77.9%,#5d0036 78.5%,#620034 79%,#670033 79.6%,#6c002f 80.2%,#71002a 80.8%,#760026 81.3%,#7a0022 81.8%,#890015 83.7%,#970008 85.6%,#a40700 87.6%,#b11e00 89.5%,#bb3000 91.4%,#c14000 93.3%,#c64d00 95.2%,#ca5800 97.1%,#cd6000 99.1%,#ce6200 100%)"></i><i style="left:343px;background:linear-gradient(#e8b900 0%,#e8b600 1.9%,#e7b200 3.8%,#e5ae00 5.7%,#e4aa00 7.7%,#e2a500 9.6%,#e1a000 11.5%,#df9a00 13.4%,#de9500 15.3%,#dc8e00 17.2%,#d98700 19.2%,#d77f00 21.1%,#d57700 23%,#d26e00 24.9%,#ce6400 26.8%,#ca5900 28.7%,#c64e00 30.7%,#c34400 32.6%,#bf3a00 34.5%,#bc3100 36.4%,#b72a00 38.3%,#b32200 40.2%,#af1a00 42.1%,#aa1200 44.1%,#a50a00 46%,#a10200 47.9%,#9c0004 49.8%,#95000a 51.7%,#8e0010 53.6%,#860018 55.6%,#7b0022 57.5%,#70002b 58.9%,#6c0030 59.5%,#670033 60.1%,#620034 60.6%,#5d0036 61.2%,#580037 61.8%,#510039 62.4%,#4a003b 62.9%,#42003e 63.5%,#3a0040 64.1%,#32003b 64.7%,#280030 65.2%,#1d0022 65.8%,#100013 66.4%,#050006 67%,#000000 67.5%,#000000 68.1%,#000000 68.7%,#000000 69.3%,#000000 69.8%,#000000 70.4%,#000000 71%,#000000 71.6%,#000000 72.1%,#020002 72.7%,#0b000d 73.3%,#19001d 73.9%,#26002d 74.4%,#300039 75%,#390040 75.6%,#41003e 76.2%,#49003c 76.7%,#500039 77.3%,#570037 77.9%,#5d0036 78.5%,#620034 79%,#670033 79.6%,#6c002f 80.2%,#71002b 80.8%,#760026 81.3%,#7a0023 81.8%,#890015 83.7%,#970009 85.6%,#a40700 87.6%,#b11e00 89.5%,#bb3000 91.4%,#c14000 93.3%,#c64d00 95.2%,#ca5800 97.1%,#cd6000 99.1%,#ce6200 100%)"></i><i style="left:345px;background:linear-gradient(#e8b900 0%,#e8b600 1.9%,#e7b300 3.8%,#e5ae00 5.7%,#e4aa00 7.7%,#e3a500 9.6%,#e1a000 11.5%,#df9b00 13.4%,#de9500 15.3%,#dc8e00 17.2%,#da8700 19.2%,#d77f00 21.1%,#d57700 23%,#d26f00 24.9%,#ce6400 26.8%,#ca5900 28.7%,#c64e00 30.7%,#c34400 32.6%,#bf3a00 34.5%,#bc3100 36.4%,#b72a00 38.3%,#b32200 40.2%,#af1a00 42.1%,#aa1200 44.1%,#a50a00 46%,#a10200 47.9%,#9c0004 49.8%,#95000a 51.7%,#8e0010 53.6%,#860018 55.6%,#7b0022 57.5%,#70002b 58.9%,#6c0030 59.5%,#670033 60.1%,#620034 60.6%,#5d0036 61.2%,#580037 61.8%,#510039 62.4%,#4a003b 62.9%,#42003e 63.5%,#3a0040 64.1%,#32003b 64.7%,#280030 65.2%,#1d0022 65.8%,#100013 66.4%,#050006 67%,#000000 67.5%,#000000 68.1%,#000000 68.7%,#000000 69.3%,#000000 69.8%,#000000 70.4%,#000000 71%,#000000 71.6%,#000000 72.1%,#010002 72.7%,#0b000d 73.3%,#19001d 73.9%,#26002d 74.4%,#300039 75%,#390040 75.6%,#41003e 76.2%,#49003c 76.7%,#500039 77.3%,#570037 77.9%,#5d0036 78.5%,#620034 79%,#670033 79.6%,#6c002f 80.2%,#71002b 80.8%,#760026 81.3%,#7a0023 81.8%,#890015 83.7%,#960009 85.6%,#a40700 87.6%,#b01d00 89.5%,#bb3000 91.4%,#c14000 93.3%,#c64d00 95.2%,#ca5800 97.1%,#cd6000 99.1%,#ce6200 100%)"></i><i style="left:347px;background:linear-gradient(#e8b900 0%,#e8b600 1.9%,#e7b300 3.8%,#e5af00 5.7%,#e4aa00 7.7%,#e3a500 9.6%,#e1a000 11.5%,#df9b00 13.4%,#de9500 15.3%,#dc8f00 17.2%,#da8700 19.2%,#d77f00 21.1%,#d57700 23%,#d26f00 24.9%,#ce6400 26.8%,#ca5900 28.7%,#c64e00 30.7%,#c34400 32.6%,#bf3a00 34.5%,#bc3100 36.4%,#b72a00 38.3%,#b32200 40.2%,#af1a00 42.1%,#aa1200 44.1%,#a50a00 46%,#a10200 47.9%,#9c0004 49.8%,#95000a 51.7%,#8e0010 53.6%,#860018 55.6%,#7b0022 57.5%,#70002b 58.9%,#6c0030 59.5%,#670033 60.1%,#620034 60.6%,#5d0036 61.2%,#580037 61.8%,#510039 62.4%,#4a003b 62.9%,#42003e 63.5%,#3a0040 64.1%,#32003b 64.7%,#280030 65.2%,#1d0022 65.8%,#100013 66.4%,#060007 67%,#000000 67.5%,#000000 68.1%,#000000 68.7%,#000000 69.3%,#000000 69.8%,#000000 70.4%,#000000 71%,#000000 71.6%,#000000 72.1%,#010002 72.7%,#0b000d 73.3%,#19001d 73.9%,#26002d 74.4%,#300039 75%,#390040 75.6%,#42003e 76.2%,#49003c 76.7%,#500039 77.3%,#570037 77.9%,#5d0036 78.5%,#620034 79%,#670033 79.6%,#6c002f 80.2%,#71002b 80.8%,#760027 81.3%,#790023 81.8%,#880015 83.7%,#960009 85.6%,#a40700 87.6%,#b01d00 89.5%,#bb3000 91.4%,#c14000 93.3%,#c64c00 95.2%,#ca5800 97.1%,#cd6000 99.1%,#ce6200 100%)"></i><i style="left:349px;background:linear-gradient(#e8b900 0%,#e8b600 1.9%,#e7b300 3.8%,#e5af00 5.7%,#e4aa00 7.7%,#e3a600 9.6%,#e1a000 11.5%,#df9b00 13.4%,#de9500 15.3%,#dc8f00 17.2%,#da8800 19.2%,#d78000 21.1%,#d57700 23%,#d26f00 24.9%,#cf6500 26.8%,#ca5900 28.7%,#c64e00 30.7%,#c34400 32.6%,#bf3a00 34.5%,#bc3100 36.4%,#b72a00 38.3%,#b32200 40.2%,#af1a00 42.1%,#aa1200 44.1%,#a50a00 46%,#a10200 47.9%,#9c0004 49.8%,#95000a 51.7%,#8e0010 53.6%,#860018 55.6%,#7b0022 57.5%,#70002b 58.9%,#6c0030 59.5%,#670033 60.1%,#620034 60.6%,#5d0036 61.2%,#580037 61.8%,#510039 62.4%,#4a003b 62.9%,#42003e 63.5%,#3a0040 64.1%,#32003b 64.7%,#280030 65.2%,#1d0022 65.8%,#100013 66.4%,#060007 67%,#000000 67.5%,#000000 68.1%,#000000 68.7%,#000000 69.3%,#000000 69.8%,#000000 70.4%,#000000 71%,#000000 71.6%,#000000 72.1%,#010002 72.7%,#0b000c 73.3%,#19001d 73.9%,#26002d 74.4%,#300039 75%,#390040 75.6%,#42003e 76.2%,#49003c 76.7%,#500039 77.3%,#570037 77.9%,#5d0036 78.5%,#620034 79%,#670033 79.6%,#6c002f 80.2%,#71002b 80.8%,#750027 81.3%,#790023 81.8%,#880016 83.7%,#960009 85.6%,#a40700 87.6%,#b01d00 89.5%,#bb3000 91.4%,#c13f00 93.3%,#c64c00 95.2%,#ca5800 97.1%,#cd6000 99.1%,#ce6200 100%)"></i><i style="left:351px;background:linear-gradient(#e8b900 0%,#e8b600 1.9%,#e7b300 3.8%,#e5af00 5.7%,#e4ab00 7.7%,#e3a600 9.6%,#e1a100 11.5%,#e09b00 13.4%,#de9500 15.3%,#dc8f00 17.2%,#da8800 19.2%,#d78000 21.1%,#d57800 23%,#d26f00 24.9%,#cf6500 26.8%,#cb5a00 28.7%,#c64e00 30.7%,#c34400 32.6%,#bf3a00 34.5%,#bc3100 36.4%,#b72a00 38.3%,#b32200 40.2%,#af1a00 42.1%,#aa1200 44.1%,#a50a00 46%,#a10200 47.9%,#9c0004 49.8%,#95000a 51.7%,#8e0010 53.6%,#860018 55.6%,#7b0022 57.5%,#70002b 58.9%,#6c0030 59.5%,#670033 60.1%,#620034 60.6%,#5d0036 61.2%,#580037 61.8%,#510039 62.4%,#4a003b 62.9%,#42003e 63.5%,#3a0040 64.1%,#32003b 64.7%,#280030 65.2%,#1d0022 65.8%,#100013 66.4%,#060007 67%,#000000 67.5%,#000000 68.1%,#000000 68.7%,#000000 69.3%,#000000 69.8%,#000000 70.4%,#000000 71%,#000000 71.6%,#000000 72.1%,#010002 72.7%,#0a000c 73.3%,#19001d 73.9%,#26002d 74.4%,#300039 75%,#390040 75.6%,#42003e 76.2%,#49003c 76.7%,#500039 77.3%,#570037 77.9%,#5d0036 78.5%,#620034 79%,#670033 79.6%,#6c0030 80.2%,#70002b 80.8%,#750027 81.3%,#790024 81.8%,#880016 83.7%,#960009 85.6%,#a40600 87.6%,#b01d00 89.5%,#bb3000 91.4%,#c13f00 93.3%,#c64c00 95.2%,#ca5800 97.1%,#cd6000 99.1%,#ce6200 100%)"></i></div>
<svg width="785" height="318" viewBox="0 0 785 318" font-family="Liberation Sans, Arial, sans-serif">
<line x1="58.00" y1="191.05" x2="351.10" y2="191.05" stroke="#ff0000" stroke-width="2.80" stroke-dasharray="1.00 4.30" stroke-linecap="round"/>
<rect x="57.60" y="7.50" width="294.00" height="259.80" fill="none" stroke="#000" stroke-width="1.20"/>
<line x1="52.10" y1="267.30" x2="57.60" y2="267.30" stroke="#000" stroke-width="1.10" />
<text transform="translate(48.60 272.70) scale(0.905 1)" font-size="16.00" text-anchor="end" fill="#000" >0</text>
<line x1="54.60" y1="260.81" x2="57.60" y2="260.81" stroke="#000" stroke-width="1.10" />
<line x1="54.60" y1="254.31" x2="57.60" y2="254.31" stroke="#000" stroke-width="1.10" />
<line x1="54.60" y1="247.81" x2="57.60" y2="247.81" stroke="#000" stroke-width="1.10" />
<line x1="52.10" y1="241.32" x2="57.60" y2="241.32" stroke="#000" stroke-width="1.10" />
<text transform="translate(48.60 246.72) scale(0.905 1)" font-size="16.00" text-anchor="end" fill="#000" >2</text>
<line x1="54.60" y1="234.83" x2="57.60" y2="234.83" stroke="#000" stroke-width="1.10" />
<line x1="54.60" y1="228.33" x2="57.60" y2="228.33" stroke="#000" stroke-width="1.10" />
<line x1="54.60" y1="221.84" x2="57.60" y2="221.84" stroke="#000" stroke-width="1.10" />
<line x1="52.10" y1="215.34" x2="57.60" y2="215.34" stroke="#000" stroke-width="1.10" />
<text transform="translate(48.60 220.74) scale(0.905 1)" font-size="16.00" text-anchor="end" fill="#000" >4</text>
<line x1="54.60" y1="208.84" x2="57.60" y2="208.84" stroke="#000" stroke-width="1.10" />
<line x1="54.60" y1="202.35" x2="57.60" y2="202.35" stroke="#000" stroke-width="1.10" />
<line x1="54.60" y1="195.86" x2="57.60" y2="195.86" stroke="#000" stroke-width="1.10" />
<line x1="52.10" y1="189.36" x2="57.60" y2="189.36" stroke="#000" stroke-width="1.10" />
<text transform="translate(48.60 194.76) scale(0.905 1)" font-size="16.00" text-anchor="end" fill="#000" >6</text>
<line x1="54.60" y1="182.87" x2="57.60" y2="182.87" stroke="#000" stroke-width="1.10" />
<line x1="54.60" y1="176.37" x2="57.60" y2="176.37" stroke="#000" stroke-width="1.10" />
<line x1="54.60" y1="169.88" x2="57.60" y2="169.88" stroke="#000" stroke-width="1.10" />
<line x1="52.10" y1="163.38" x2="57.60" y2="163.38" stroke="#000" stroke-width="1.10" />
<text transform="translate(48.60 168.78) scale(0.905 1)" font-size="16.00" text-anchor="end" fill="#000" >8</text>
<line x1="54.60" y1="156.88" x2="57.60" y2="156.88" stroke="#000" stroke-width="1.10" />
<line x1="54.60" y1="150.39" x2="57.60" y2="150.39" stroke="#000" stroke-width="1.10" />
<line x1="54.60" y1="143.90" x2="57.60" y2="143.90" stroke="#000" stroke-width="1.10" />
<line x1="52.10" y1="137.40" x2="57.60" y2="137.40" stroke="#000" stroke-width="1.10" />
<text transform="translate(48.60 142.80) scale(0.905 1)" font-size="16.00" text-anchor="end" fill="#000" >10</text>
<line x1="54.60" y1="130.91" x2="57.60" y2="130.91" stroke="#000" stroke-width="1.10" />
<line x1="54.60" y1="124.41" x2="57.60" y2="124.41" stroke="#000" stroke-width="1.10" />
<line x1="54.60" y1="117.91" x2="57.60" y2="117.91" stroke="#000" stroke-width="1.10" />
<line x1="52.10" y1="111.42" x2="57.60" y2="111.42" stroke="#000" stroke-width="1.10" />
<text transform="translate(48.60 116.82) scale(0.905 1)" font-size="16.00" text-anchor="end" fill="#000" >12</text>
<line x1="54.60" y1="104.93" x2="57.60" y2="104.93" stroke="#000" stroke-width="1.10" />
<line x1="54.60" y1="98.43" x2="57.60" y2="98.43" stroke="#000" stroke-width="1.10" />
<line x1="54.60" y1="91.94" x2="57.60" y2="91.94" stroke="#000" stroke-width="1.10" />
<line x1="52.10" y1="85.44" x2="57.60" y2="85.44" stroke="#000" stroke-width="1.10" />
<text transform="translate(48.60 90.84) scale(0.905 1)" font-size="16.00" text-anchor="end" fill="#000" >14</text>
<line x1="54.60" y1="78.94" x2="57.60" y2="78.94" stroke="#000" stroke-width="1.10" />
<line x1="54.60" y1="72.45" x2="57.60" y2="72.45" stroke="#000" stroke-width="1.10" />
<line x1="54.60" y1="65.96" x2="57.60" y2="65.96" stroke="#000" stroke-width="1.10" />
<line x1="52.10" y1="59.46" x2="57.60" y2="59.46" stroke="#000" stroke-width="1.10" />
<text transform="translate(48.60 64.86) scale(0.905 1)" font-size="16.00" text-anchor="end" fill="#000" >16</text>
<line x1="54.60" y1="52.97" x2="57.60" y2="52.97" stroke="#000" stroke-width="1.10" />
<line x1="54.60" y1="46.47" x2="57.60" y2="46.47" stroke="#000" stroke-width="1.10" />
<line x1="54.60" y1="39.98" x2="57.60" y2="39.98" stroke="#000" stroke-width="1.10" />
<line x1="52.10" y1="33.48" x2="57.60" y2="33.48" stroke="#000" stroke-width="1.10" />
<text transform="translate(48.60 38.88) scale(0.905 1)" font-size="16.00" text-anchor="end" fill="#000" >18</text>
<line x1="54.60" y1="26.99" x2="57.60" y2="26.99" stroke="#000" stroke-width="1.10" />
<line x1="54.60" y1="20.49" x2="57.60" y2="20.49" stroke="#000" stroke-width="1.10" />
<line x1="54.60" y1="14.00" x2="57.60" y2="14.00" stroke="#000" stroke-width="1.10" />
<line x1="52.10" y1="7.50" x2="57.60" y2="7.50" stroke="#000" stroke-width="1.10" />
<text transform="translate(48.60 12.90) scale(0.905 1)" font-size="16.00" text-anchor="end" fill="#000" >20</text>
<line x1="57.60" y1="267.30" x2="57.60" y2="270.30" stroke="#000" stroke-width="1.10" />
<line x1="62.67" y1="267.30" x2="62.67" y2="270.30" stroke="#000" stroke-width="1.10" />
<line x1="67.74" y1="267.30" x2="67.74" y2="272.80" stroke="#000" stroke-width="1.10" />
<text transform="translate(67.74 288.60) scale(0.905 1)" font-size="16.00" text-anchor="middle" fill="#000" >5</text>
<line x1="72.81" y1="267.30" x2="72.81" y2="270.30" stroke="#000" stroke-width="1.10" />
<line x1="77.88" y1="267.30" x2="77.88" y2="270.30" stroke="#000" stroke-width="1.10" />
<line x1="82.94" y1="267.30" x2="82.94" y2="270.30" stroke="#000" stroke-width="1.10" />
<line x1="88.01" y1="267.30" x2="88.01" y2="270.30" stroke="#000" stroke-width="1.10" />
<line x1="93.08" y1="267.30" x2="93.08" y2="272.80" stroke="#000" stroke-width="1.10" />
<text transform="translate(93.08 288.60) scale(0.905 1)" font-size="16.00" text-anchor="middle" fill="#000" >10</text>
<line x1="98.15" y1="267.30" x2="98.15" y2="270.30" stroke="#000" stroke-width="1.10" />
<line x1="103.22" y1="267.30" x2="103.22" y2="270.30" stroke="#000" stroke-width="1.10" />
<line x1="108.29" y1="267.30" x2="108.29" y2="270.30" stroke="#000" stroke-width="1.10" />
<line x1="113.36" y1="267.30" x2="113.36" y2="270.30" stroke="#000" stroke-width="1.10" />
<line x1="118.43" y1="267.30" x2="118.43" y2="272.80" stroke="#000" stroke-width="1.10" />
<text transform="translate(118.43 288.60) scale(0.905 1)" font-size="16.00" text-anchor="middle" fill="#000" >15</text>
<line x1="123.50" y1="267.30" x2="123.50" y2="270.30" stroke="#000" stroke-width="1.10" />
<line x1="128.57" y1="267.30" x2="128.57" y2="270.30" stroke="#000" stroke-width="1.10" />
<line x1="133.63" y1="267.30" x2="133.63" y2="270.30" stroke="#000" stroke-width="1.10" />
<line x1="138.70" y1="267.30" x2="138.70" y2="270.30" stroke="#000" stroke-width="1.10" />
<line x1="143.77" y1="267.30" x2="143.77" y2="272.80" stroke="#000" stroke-width="1.10" />
<text transform="translate(143.77 288.60) scale(0.905 1)" font-size="16.00" text-anchor="middle" fill="#000" >20</text>
<line x1="148.84" y1="267.30" x2="148.84" y2="270.30" stroke="#000" stroke-width="1.10" />
<line x1="153.91" y1="267.30" x2="153.91" y2="270.30" stroke="#000" stroke-width="1.10" />
<line x1="158.98" y1="267.30" x2="158.98" y2="270.30" stroke="#000" stroke-width="1.10" />
<line x1="164.05" y1="267.30" x2="164.05" y2="270.30" stroke="#000" stroke-width="1.10" />
<line x1="169.12" y1="267.30" x2="169.12" y2="272.80" stroke="#000" stroke-width="1.10" />
<text transform="translate(169.12 288.60) scale(0.905 1)" font-size="16.00" text-anchor="middle" fill="#000" >25</text>
<line x1="174.19" y1="267.30" x2="174.19" y2="270.30" stroke="#000" stroke-width="1.10" />
<line x1="179.26" y1="267.30" x2="179.26" y2="270.30" stroke="#000" stroke-width="1.10" />
<line x1="184.32" y1="267.30" x2="184.32" y2="270.30" stroke="#000" stroke-width="1.10" />
<line x1="189.39" y1="267.30" x2="189.39" y2="270.30" stroke="#000" stroke-width="1.10" />
<line x1="194.46" y1="267.30" x2="194.46" y2="272.80" stroke="#000" stroke-width="1.10" />
<text transform="translate(194.46 288.60) scale(0.905 1)" font-size="16.00" text-anchor="middle" fill="#000" >30</text>
<line x1="199.53" y1="267.30" x2="199.53" y2="270.30" stroke="#000" stroke-width="1.10" />
<line x1="204.60" y1="267.30" x2="204.60" y2="270.30" stroke="#000" stroke-width="1.10" />
<line x1="209.67" y1="267.30" x2="209.67" y2="270.30" stroke="#000" stroke-width="1.10" />
<line x1="214.74" y1="267.30" x2="214.74" y2="270.30" stroke="#000" stroke-width="1.10" />
<line x1="219.81" y1="267.30" x2="219.81" y2="272.80" stroke="#000" stroke-width="1.10" />
<text transform="translate(219.81 288.60) scale(0.905 1)" font-size="16.00" text-anchor="middle" fill="#000" >35</text>
<line x1="224.88" y1="267.30" x2="224.88" y2="270.30" stroke="#000" stroke-width="1.10" />
<line x1="229.94" y1="267.30" x2="229.94" y2="270.30" stroke="#000" stroke-width="1.10" />
<line x1="235.01" y1="267.30" x2="235.01" y2="270.30" stroke="#000" stroke-width="1.10" />
<line x1="240.08" y1="267.30" x2="240.08" y2="270.30" stroke="#000" stroke-width="1.10" />
<line x1="245.15" y1="267.30" x2="245.15" y2="272.80" stroke="#000" stroke-width="1.10" />
<text transform="translate(245.15 288.60) scale(0.905 1)" font-size="16.00" text-anchor="middle" fill="#000" >40</text>
<line x1="250.22" y1="267.30" x2="250.22" y2="270.30" stroke="#000" stroke-width="1.10" />
<line x1="255.29" y1="267.30" x2="255.29" y2="270.30" stroke="#000" stroke-width="1.10" />
<line x1="260.36" y1="267.30" x2="260.36" y2="270.30" stroke="#000" stroke-width="1.10" />
<line x1="265.43" y1="267.30" x2="265.43" y2="270.30" stroke="#000" stroke-width="1.10" />
<line x1="270.50" y1="267.30" x2="270.50" y2="272.80" stroke="#000" stroke-width="1.10" />
<text transform="translate(270.50 288.60) scale(0.905 1)" font-size="16.00" text-anchor="middle" fill="#000" >45</text>
<line x1="275.57" y1="267.30" x2="275.57" y2="270.30" stroke="#000" stroke-width="1.10" />
<line x1="280.63" y1="267.30" x2="280.63" y2="270.30" stroke="#000" stroke-width="1.10" />
<line x1="285.70" y1="267.30" x2="285.70" y2="270.30" stroke="#000" stroke-width="1.10" />
<line x1="290.77" y1="267.30" x2="290.77" y2="270.30" stroke="#000" stroke-width="1.10" />
<line x1="295.84" y1="267.30" x2="295.84" y2="272.80" stroke="#000" stroke-width="1.10" />
<text transform="translate(295.84 288.60) scale(0.905 1)" font-size="16.00" text-anchor="middle" fill="#000" >50</text>
<line x1="300.91" y1="267.30" x2="300.91" y2="270.30" stroke="#000" stroke-width="1.10" />
<line x1="305.98" y1="267.30" x2="305.98" y2="270.30" stroke="#000" stroke-width="1.10" />
<line x1="311.05" y1="267.30" x2="311.05" y2="270.30" stroke="#000" stroke-width="1.10" />
<line x1="316.12" y1="267.30" x2="316.12" y2="270.30" stroke="#000" stroke-width="1.10" />
<line x1="321.19" y1="267.30" x2="321.19" y2="272.80" stroke="#000" stroke-width="1.10" />
<text transform="translate(321.19 288.60) scale(0.905 1)" font-size="16.00" text-anchor="middle" fill="#000" >55</text>
<line x1="326.26" y1="267.30" x2="326.26" y2="270.30" stroke="#000" stroke-width="1.10" />
<line x1="331.32" y1="267.30" x2="331.32" y2="270.30" stroke="#000" stroke-width="1.10" />
<line x1="336.39" y1="267.30" x2="336.39" y2="270.30" stroke="#000" stroke-width="1.10" />
<line x1="341.46" y1="267.30" x2="341.46" y2="270.30" stroke="#000" stroke-width="1.10" />
<line x1="346.53" y1="267.30" x2="346.53" y2="272.80" stroke="#000" stroke-width="1.10" />
<text transform="translate(346.53 288.60) scale(0.905 1)" font-size="16.00" text-anchor="middle" fill="#000" >60</text>
<line x1="351.60" y1="267.30" x2="351.60" y2="270.30" stroke="#000" stroke-width="1.10" />
<text transform="translate(204.00 311.70) scale(1.000 1)" font-size="19.30" text-anchor="middle" fill="#000" >number of spectra considered</text>
<text transform="translate(19.20 153.00) rotate(-90) scale(1.060 1)" font-size="19.50" text-anchor="middle">GDD (10<tspan font-size="12.00" dy="-9.30">3</tspan><tspan dy="9.30"> as</tspan><tspan font-size="12.00" dy="-9.30">2</tspan><tspan dy="9.30">)</tspan></text>
<text transform="translate(308.50 254.80) scale(1.050 1)" font-size="29.70" text-anchor="start" fill="#fff" >(a)</text>
<rect x="444.30" y="7.70" width="289.90" height="100.35" fill="none" stroke="#000" stroke-width="1.20"/>
<line x1="444.30" y1="108.05" x2="444.30" y2="110.45" stroke="#000" stroke-width="1.10" />
<line x1="444.30" y1="7.70" x2="444.30" y2="10.30" stroke="#000" stroke-width="1.10" />
<line x1="449.30" y1="108.05" x2="449.30" y2="110.45" stroke="#000" stroke-width="1.10" />
<line x1="449.30" y1="7.70" x2="449.30" y2="10.30" stroke="#000" stroke-width="1.10" />
<line x1="454.30" y1="108.05" x2="454.30" y2="112.55" stroke="#000" stroke-width="1.10" />
<line x1="454.30" y1="7.70" x2="454.30" y2="12.10" stroke="#000" stroke-width="1.10" />
<text transform="translate(454.30 127.60) scale(0.905 1)" font-size="16.00" text-anchor="middle" fill="#000" >5</text>
<line x1="459.30" y1="108.05" x2="459.30" y2="110.45" stroke="#000" stroke-width="1.10" />
<line x1="459.30" y1="7.70" x2="459.30" y2="10.30" stroke="#000" stroke-width="1.10" />
<line x1="464.30" y1="108.05" x2="464.30" y2="110.45" stroke="#000" stroke-width="1.10" />
<line x1="464.30" y1="7.70" x2="464.30" y2="10.30" stroke="#000" stroke-width="1.10" />
<line x1="469.30" y1="108.05" x2="469.30" y2="110.45" stroke="#000" stroke-width="1.10" />
<line x1="469.30" y1="7.70" x2="469.30" y2="10.30" stroke="#000" stroke-width="1.10" />
<line x1="474.30" y1="108.05" x2="474.30" y2="110.45" stroke="#000" stroke-width="1.10" />
<line x1="474.30" y1="7.70" x2="474.30" y2="10.30" stroke="#000" stroke-width="1.10" />
<line x1="479.30" y1="108.05" x2="479.30" y2="112.55" stroke="#000" stroke-width="1.10" />
<line x1="479.30" y1="7.70" x2="479.30" y2="12.10" stroke="#000" stroke-width="1.10" />
<text transform="translate(479.30 127.60) scale(0.905 1)" font-size="16.00" text-anchor="middle" fill="#000" >10</text>
<line x1="484.30" y1="108.05" x2="484.30" y2="110.45" stroke="#000" stroke-width="1.10" />
<line x1="484.30" y1="7.70" x2="484.30" y2="10.30" stroke="#000" stroke-width="1.10" />
<line x1="489.30" y1="108.05" x2="489.30" y2="110.45" stroke="#000" stroke-width="1.10" />
<line x1="489.30" y1="7.70" x2="489.30" y2="10.30" stroke="#000" stroke-width="1.10" />
<line x1="494.30" y1="108.05" x2="494.30" y2="110.45" stroke="#000" stroke-width="1.10" />
<line x1="494.30" y1="7.70" x2="494.30" y2="10.30" stroke="#000" stroke-width="1.10" />
<line x1="499.30" y1="108.05" x2="499.30" y2="110.45" stroke="#000" stroke-width="1.10" />
<line x1="499.30" y1="7.70" x2="499.30" y2="10.30" stroke="#000" stroke-width="1.10" />
<line x1="504.30" y1="108.05" x2="504.30" y2="112.55" stroke="#000" stroke-width="1.10" />
<line x1="504.30" y1="7.70" x2="504.30" y2="12.10" stroke="#000" stroke-width="1.10" />
<text transform="translate(504.30 127.60) scale(0.905 1)" font-size="16.00" text-anchor="middle" fill="#000" >15</text>
<line x1="509.30" y1="108.05" x2="509.30" y2="110.45" stroke="#000" stroke-width="1.10" />
<line x1="509.30" y1="7.70" x2="509.30" y2="10.30" stroke="#000" stroke-width="1.10" />
<line x1="514.30" y1="108.05" x2="514.30" y2="110.45" stroke="#000" stroke-width="1.10" />
<line x1="514.30" y1="7.70" x2="514.30" y2="10.30" stroke="#000" stroke-width="1.10" />
<line x1="519.30" y1="108.05" x2="519.30" y2="110.45" stroke="#000" stroke-width="1.10" />
<line x1="519.30" y1="7.70" x2="519.30" y2="10.30" stroke="#000" stroke-width="1.10" />
<line x1="524.30" y1="108.05" x2="524.30" y2="110.45" stroke="#000" stroke-width="1.10" />
<line x1="524.30" y1="7.70" x2="524.30" y2="10.30" stroke="#000" stroke-width="1.10" />
<line x1="529.30" y1="108.05" x2="529.30" y2="112.55" stroke="#000" stroke-width="1.10" />
<line x1="529.30" y1="7.70" x2="529.30" y2="12.10" stroke="#000" stroke-width="1.10" />
<text transform="translate(529.30 127.60) scale(0.905 1)" font-size="16.00" text-anchor="middle" fill="#000" >20</text>
<line x1="534.30" y1="108.05" x2="534.30" y2="110.45" stroke="#000" stroke-width="1.10" />
<line x1="534.30" y1="7.70" x2="534.30" y2="10.30" stroke="#000" stroke-width="1.10" />
<line x1="539.30" y1="108.05" x2="539.30" y2="110.45" stroke="#000" stroke-width="1.10" />
<line x1="539.30" y1="7.70" x2="539.30" y2="10.30" stroke="#000" stroke-width="1.10" />
<line x1="544.30" y1="108.05" x2="544.30" y2="110.45" stroke="#000" stroke-width="1.10" />
<line x1="544.30" y1="7.70" x2="544.30" y2="10.30" stroke="#000" stroke-width="1.10" />
<line x1="549.30" y1="108.05" x2="549.30" y2="110.45" stroke="#000" stroke-width="1.10" />
<line x1="549.30" y1="7.70" x2="549.30" y2="10.30" stroke="#000" stroke-width="1.10" />
<line x1="554.30" y1="108.05" x2="554.30" y2="112.55" stroke="#000" stroke-width="1.10" />
<line x1="554.30" y1="7.70" x2="554.30" y2="12.10" stroke="#000" stroke-width="1.10" />
<text transform="translate(554.30 127.60) scale(0.905 1)" font-size="16.00" text-anchor="middle" fill="#000" >25</text>
<line x1="559.30" y1="108.05" x2="559.30" y2="110.45" stroke="#000" stroke-width="1.10" />
<line x1="559.30" y1="7.70" x2="559.30" y2="10.30" stroke="#000" stroke-width="1.10" />
<line x1="564.30" y1="108.05" x2="564.30" y2="110.45" stroke="#000" stroke-width="1.10" />
<line x1="564.30" y1="7.70" x2="564.30" y2="10.30" stroke="#000" stroke-width="1.10" />
<line x1="569.30" y1="108.05" x2="569.30" y2="110.45" stroke="#000" stroke-width="1.10" />
<line x1="569.30" y1="7.70" x2="569.30" y2="10.30" stroke="#000" stroke-width="1.10" />
<line x1="574.30" y1="108.05" x2="574.30" y2="110.45" stroke="#000" stroke-width="1.10" />
<line x1="574.30" y1="7.70" x2="574.30" y2="10.30" stroke="#000" stroke-width="1.10" />
<line x1="579.30" y1="108.05" x2="579.30" y2="112.55" stroke="#000" stroke-width="1.10" />
<line x1="579.30" y1="7.70" x2="579.30" y2="12.10" stroke="#000" stroke-width="1.10" />
<text transform="translate(579.30 127.60) scale(0.905 1)" font-size="16.00" text-anchor="middle" fill="#000" >30</text>
<line x1="584.30" y1="108.05" x2="584.30" y2="110.45" stroke="#000" stroke-width="1.10" />
<line x1="584.30" y1="7.70" x2="584.30" y2="10.30" stroke="#000" stroke-width="1.10" />
<line x1="589.30" y1="108.05" x2="589.30" y2="110.45" stroke="#000" stroke-width="1.10" />
<line x1="589.30" y1="7.70" x2="589.30" y2="10.30" stroke="#000" stroke-width="1.10" />
<line x1="594.30" y1="108.05" x2="594.30" y2="110.45" stroke="#000" stroke-width="1.10" />
<line x1="594.30" y1="7.70" x2="594.30" y2="10.30" stroke="#000" stroke-width="1.10" />
<line x1="599.30" y1="108.05" x2="599.30" y2="110.45" stroke="#000" stroke-width="1.10" />
<line x1="599.30" y1="7.70" x2="599.30" y2="10.30" stroke="#000" stroke-width="1.10" />
<line x1="604.30" y1="108.05" x2="604.30" y2="112.55" stroke="#000" stroke-width="1.10" />
<line x1="604.30" y1="7.70" x2="604.30" y2="12.10" stroke="#000" stroke-width="1.10" />
<text transform="translate(604.30 127.60) scale(0.905 1)" font-size="16.00" text-anchor="middle" fill="#000" >35</text>
<line x1="609.30" y1="108.05" x2="609.30" y2="110.45" stroke="#000" stroke-width="1.10" />
<line x1="609.30" y1="7.70" x2="609.30" y2="10.30" stroke="#000" stroke-width="1.10" />
<line x1="614.30" y1="108.05" x2="614.30" y2="110.45" stroke="#000" stroke-width="1.10" />
<line x1="614.30" y1="7.70" x2="614.30" y2="10.30" stroke="#000" stroke-width="1.10" />
<line x1="619.30" y1="108.05" x2="619.30" y2="110.45" stroke="#000" stroke-width="1.10" />
<line x1="619.30" y1="7.70" x2="619.30" y2="10.30" stroke="#000" stroke-width="1.10" />
<line x1="624.30" y1="108.05" x2="624.30" y2="110.45" stroke="#000" stroke-width="1.10" />
<line x1="624.30" y1="7.70" x2="624.30" y2="10.30" stroke="#000" stroke-width="1.10" />
<line x1="629.30" y1="108.05" x2="629.30" y2="112.55" stroke="#000" stroke-width="1.10" />
<line x1="629.30" y1="7.70" x2="629.30" y2="12.10" stroke="#000" stroke-width="1.10" />
<text transform="translate(629.30 127.60) scale(0.905 1)" font-size="16.00" text-anchor="middle" fill="#000" >40</text>
<line x1="634.30" y1="108.05" x2="634.30" y2="110.45" stroke="#000" stroke-width="1.10" />
<line x1="634.30" y1="7.70" x2="634.30" y2="10.30" stroke="#000" stroke-width="1.10" />
<line x1="639.30" y1="108.05" x2="639.30" y2="110.45" stroke="#000" stroke-width="1.10" />
<line x1="639.30" y1="7.70" x2="639.30" y2="10.30" stroke="#000" stroke-width="1.10" />
<line x1="644.30" y1="108.05" x2="644.30" y2="110.45" stroke="#000" stroke-width="1.10" />
<line x1="644.30" y1="7.70" x2="644.30" y2="10.30" stroke="#000" stroke-width="1.10" />
<line x1="649.30" y1="108.05" x2="649.30" y2="110.45" stroke="#000" stroke-width="1.10" />
<line x1="649.30" y1="7.70" x2="649.30" y2="10.30" stroke="#000" stroke-width="1.10" />
<line x1="654.30" y1="108.05" x2="654.30" y2="112.55" stroke="#000" stroke-width="1.10" />
<line x1="654.30" y1="7.70" x2="654.30" y2="12.10" stroke="#000" stroke-width="1.10" />
<text transform="translate(654.30 127.60) scale(0.905 1)" font-size="16.00" text-anchor="middle" fill="#000" >45</text>
<line x1="659.30" y1="108.05" x2="659.30" y2="110.45" stroke="#000" stroke-width="1.10" />
<line x1="659.30" y1="7.70" x2="659.30" y2="10.30" stroke="#000" stroke-width="1.10" />
<line x1="664.30" y1="108.05" x2="664.30" y2="110.45" stroke="#000" stroke-width="1.10" />
<line x1="664.30" y1="7.70" x2="664.30" y2="10.30" stroke="#000" stroke-width="1.10" />
<line x1="669.30" y1="108.05" x2="669.30" y2="110.45" stroke="#000" stroke-width="1.10" />
<line x1="669.30" y1="7.70" x2="669.30" y2="10.30" stroke="#000" stroke-width="1.10" />
<line x1="674.30" y1="108.05" x2="674.30" y2="110.45" stroke="#000" stroke-width="1.10" />
<line x1="674.30" y1="7.70" x2="674.30" y2="10.30" stroke="#000" stroke-width="1.10" />
<line x1="679.30" y1="108.05" x2="679.30" y2="112.55" stroke="#000" stroke-width="1.10" />
<line x1="679.30" y1="7.70" x2="679.30" y2="12.10" stroke="#000" stroke-width="1.10" />
<text transform="translate(679.30 127.60) scale(0.905 1)" font-size="16.00" text-anchor="middle" fill="#000" >50</text>
<line x1="684.30" y1="108.05" x2="684.30" y2="110.45" stroke="#000" stroke-width="1.10" />
<line x1="684.30" y1="7.70" x2="684.30" y2="10.30" stroke="#000" stroke-width="1.10" />
<line x1="689.30" y1="108.05" x2="689.30" y2="110.45" stroke="#000" stroke-width="1.10" />
<line x1="689.30" y1="7.70" x2="689.30" y2="10.30" stroke="#000" stroke-width="1.10" />
<line x1="694.30" y1="108.05" x2="694.30" y2="110.45" stroke="#000" stroke-width="1.10" />
<line x1="694.30" y1="7.70" x2="694.30" y2="10.30" stroke="#000" stroke-width="1.10" />
<line x1="699.30" y1="108.05" x2="699.30" y2="110.45" stroke="#000" stroke-width="1.10" />
<line x1="699.30" y1="7.70" x2="699.30" y2="10.30" stroke="#000" stroke-width="1.10" />
<line x1="704.30" y1="108.05" x2="704.30" y2="112.55" stroke="#000" stroke-width="1.10" />
<line x1="704.30" y1="7.70" x2="704.30" y2="12.10" stroke="#000" stroke-width="1.10" />
<text transform="translate(704.30 127.60) scale(0.905 1)" font-size="16.00" text-anchor="middle" fill="#000" >55</text>
<line x1="709.30" y1="108.05" x2="709.30" y2="110.45" stroke="#000" stroke-width="1.10" />
<line x1="709.30" y1="7.70" x2="709.30" y2="10.30" stroke="#000" stroke-width="1.10" />
<line x1="714.30" y1="108.05" x2="714.30" y2="110.45" stroke="#000" stroke-width="1.10" />
<line x1="714.30" y1="7.70" x2="714.30" y2="10.30" stroke="#000" stroke-width="1.10" />
<line x1="719.30" y1="108.05" x2="719.30" y2="110.45" stroke="#000" stroke-width="1.10" />
<line x1="719.30" y1="7.70" x2="719.30" y2="10.30" stroke="#000" stroke-width="1.10" />
<line x1="724.30" y1="108.05" x2="724.30" y2="110.45" stroke="#000" stroke-width="1.10" />
<line x1="724.30" y1="7.70" x2="724.30" y2="10.30" stroke="#000" stroke-width="1.10" />
<line x1="729.30" y1="108.05" x2="729.30" y2="112.55" stroke="#000" stroke-width="1.10" />
<line x1="729.30" y1="7.70" x2="729.30" y2="12.10" stroke="#000" stroke-width="1.10" />
<text transform="translate(729.30 127.60) scale(0.905 1)" font-size="16.00" text-anchor="middle" fill="#000" >60</text>
<line x1="734.30" y1="108.05" x2="734.30" y2="110.45" stroke="#000" stroke-width="1.10" />
<line x1="734.30" y1="7.70" x2="734.30" y2="10.30" stroke="#000" stroke-width="1.10" />
<line x1="441.90" y1="101.85" x2="444.30" y2="101.85" stroke="#000" stroke-width="1.10" />
<line x1="731.60" y1="101.85" x2="734.20" y2="101.85" stroke="#000" stroke-width="1.10" />
<line x1="441.90" y1="95.54" x2="444.30" y2="95.54" stroke="#000" stroke-width="1.10" />
<line x1="731.60" y1="95.54" x2="734.20" y2="95.54" stroke="#000" stroke-width="1.10" />
<line x1="439.80" y1="89.22" x2="444.30" y2="89.22" stroke="#000" stroke-width="1.10" />
<line x1="729.80" y1="89.22" x2="734.20" y2="89.22" stroke="#000" stroke-width="1.10" />
<text transform="translate(437.60 94.62) scale(0.905 1)" font-size="16.00" text-anchor="end" fill="#000" >5.6</text>
<line x1="441.90" y1="82.90" x2="444.30" y2="82.90" stroke="#000" stroke-width="1.10" />
<line x1="731.60" y1="82.90" x2="734.20" y2="82.90" stroke="#000" stroke-width="1.10" />
<line x1="441.90" y1="76.59" x2="444.30" y2="76.59" stroke="#000" stroke-width="1.10" />
<line x1="731.60" y1="76.59" x2="734.20" y2="76.59" stroke="#000" stroke-width="1.10" />
<line x1="441.90" y1="70.28" x2="444.30" y2="70.28" stroke="#000" stroke-width="1.10" />
<line x1="731.60" y1="70.28" x2="734.20" y2="70.28" stroke="#000" stroke-width="1.10" />
<line x1="439.80" y1="63.96" x2="444.30" y2="63.96" stroke="#000" stroke-width="1.10" />
<line x1="729.80" y1="63.96" x2="734.20" y2="63.96" stroke="#000" stroke-width="1.10" />
<text transform="translate(437.60 69.36) scale(0.905 1)" font-size="16.00" text-anchor="end" fill="#000" >5.8</text>
<line x1="441.90" y1="57.65" x2="444.30" y2="57.65" stroke="#000" stroke-width="1.10" />
<line x1="731.60" y1="57.65" x2="734.20" y2="57.65" stroke="#000" stroke-width="1.10" />
<line x1="441.90" y1="51.33" x2="444.30" y2="51.33" stroke="#000" stroke-width="1.10" />
<line x1="731.60" y1="51.33" x2="734.20" y2="51.33" stroke="#000" stroke-width="1.10" />
<line x1="441.90" y1="45.01" x2="444.30" y2="45.01" stroke="#000" stroke-width="1.10" />
<line x1="731.60" y1="45.01" x2="734.20" y2="45.01" stroke="#000" stroke-width="1.10" />
<line x1="439.80" y1="38.70" x2="444.30" y2="38.70" stroke="#000" stroke-width="1.10" />
<line x1="729.80" y1="38.70" x2="734.20" y2="38.70" stroke="#000" stroke-width="1.10" />
<text transform="translate(437.60 44.10) scale(0.905 1)" font-size="16.00" text-anchor="end" fill="#000" >6.0</text>
<line x1="441.90" y1="32.39" x2="444.30" y2="32.39" stroke="#000" stroke-width="1.10" />
<line x1="731.60" y1="32.39" x2="734.20" y2="32.39" stroke="#000" stroke-width="1.10" />
<line x1="441.90" y1="26.07" x2="444.30" y2="26.07" stroke="#000" stroke-width="1.10" />
<line x1="731.60" y1="26.07" x2="734.20" y2="26.07" stroke="#000" stroke-width="1.10" />
<line x1="441.90" y1="19.75" x2="444.30" y2="19.75" stroke="#000" stroke-width="1.10" />
<line x1="731.60" y1="19.75" x2="734.20" y2="19.75" stroke="#000" stroke-width="1.10" />
<line x1="439.80" y1="13.44" x2="444.30" y2="13.44" stroke="#000" stroke-width="1.10" />
<line x1="729.80" y1="13.44" x2="734.20" y2="13.44" stroke="#000" stroke-width="1.10" />
<text transform="translate(437.60 18.84) scale(0.905 1)" font-size="16.00" text-anchor="end" fill="#000" >6.2</text>
<clipPath id="cb"><rect x="443.70" y="7.70" width="291.10" height="100.35"/></clipPath>
<g clip-path="url(#cb)">
<polyline fill="none" stroke="#000" stroke-width="1.30" points="444.30,84.00 454.30,86.70 464.30,91.10 474.30,96.20 484.30,100.30 494.30,102.20 504.30,101.20 514.30,96.80 524.30,89.70 534.30,80.20 544.30,71.60 554.30,64.90 564.30,60.90 574.30,58.80 584.30,57.60 594.30,56.50 604.30,55.60 614.30,54.60 624.30,53.50 634.30,51.80 644.30,50.20 654.30,48.90 664.30,47.90 674.30,47.00 684.30,47.00 694.30,47.40 704.30,48.10 714.30,49.30 724.30,50.40 734.30,51.60"/>
<rect x="441.90" y="81.60" width="4.80" height="4.80" fill="#000"/>
<rect x="451.90" y="84.30" width="4.80" height="4.80" fill="#000"/>
<rect x="461.90" y="88.70" width="4.80" height="4.80" fill="#000"/>
<rect x="471.90" y="93.80" width="4.80" height="4.80" fill="#000"/>
<rect x="481.90" y="97.90" width="4.80" height="4.80" fill="#000"/>
<rect x="491.90" y="99.80" width="4.80" height="4.80" fill="#000"/>
<rect x="501.90" y="98.80" width="4.80" height="4.80" fill="#000"/>
<rect x="511.90" y="94.40" width="4.80" height="4.80" fill="#000"/>
<rect x="521.90" y="87.30" width="4.80" height="4.80" fill="#000"/>
<rect x="531.90" y="77.80" width="4.80" height="4.80" fill="#000"/>
<rect x="541.90" y="69.20" width="4.80" height="4.80" fill="#000"/>
<rect x="551.90" y="62.50" width="4.80" height="4.80" fill="#000"/>
<rect x="561.90" y="58.50" width="4.80" height="4.80" fill="#000"/>
<rect x="571.90" y="56.40" width="4.80" height="4.80" fill="#000"/>
<rect x="581.90" y="55.20" width="4.80" height="4.80" fill="#000"/>
<rect x="591.90" y="54.10" width="4.80" height="4.80" fill="#000"/>
<rect x="601.90" y="53.20" width="4.80" height="4.80" fill="#000"/>
<rect x="611.90" y="52.20" width="4.80" height="4.80" fill="#000"/>
<rect x="621.90" y="51.10" width="4.80" height="4.80" fill="#000"/>
<rect x="631.90" y="49.40" width="4.80" height="4.80" fill="#000"/>
<rect x="641.90" y="47.80" width="4.80" height="4.80" fill="#000"/>
<rect x="651.90" y="46.50" width="4.80" height="4.80" fill="#000"/>
<rect x="661.90" y="45.50" width="4.80" height="4.80" fill="#000"/>
<rect x="671.90" y="44.60" width="4.80" height="4.80" fill="#000"/>
<rect x="681.90" y="44.60" width="4.80" height="4.80" fill="#000"/>
<rect x="691.90" y="45.00" width="4.80" height="4.80" fill="#000"/>
<rect x="701.90" y="45.70" width="4.80" height="4.80" fill="#000"/>
<rect x="711.90" y="46.90" width="4.80" height="4.80" fill="#000"/>
<rect x="721.90" y="48.00" width="4.80" height="4.80" fill="#000"/>
<rect x="731.90" y="49.20" width="4.80" height="4.80" fill="#000"/>
</g>
<line x1="445.50" y1="53.30" x2="733.70" y2="53.30" stroke="#ff0000" stroke-width="2.60" stroke-dasharray="0.50 3.82" stroke-linecap="round"/>
<line x1="596.00" y1="78.10" x2="624.30" y2="78.10" stroke="#000" stroke-width="1.30" />
<rect x="607.80" y="75.70" width="4.80" height="4.80" fill="#000"/>
<line x1="597.20" y1="96.30" x2="624.00" y2="96.30" stroke="#ff0000" stroke-width="2.60" stroke-dasharray="0.50 3.82" stroke-linecap="round"/>
<text transform="translate(628.20 82.20) scale(1.000 1)" font-size="12.70" text-anchor="start" fill="#000" >optimized</text>
<text x="628.20" y="100.30" font-size="12.70">exact (5885 as<tspan font-size="7.87" dy="-6.20">2</tspan><tspan dy="6.20">)</tspan></text>
<text transform="translate(585.60 148.00) scale(1.000 1)" font-size="19.00" text-anchor="middle" fill="#000" >number of spectra considered</text>
<text transform="translate(404.20 60.30) rotate(-90) scale(0.962 1)" font-size="19.50" text-anchor="middle">GDD (10<tspan font-size="12.00" dy="-9.30">3</tspan><tspan dy="9.30"> as</tspan><tspan font-size="12.00" dy="-9.30">2</tspan><tspan dy="9.30">)</tspan></text>
<text transform="translate(448.60 39.50) scale(1.050 1)" font-size="29.70" text-anchor="start" fill="#000" >(b)</text>
<rect x="445.20" y="166.70" width="288.00" height="100.50" fill="none" stroke="#000" stroke-width="1.20"/>
<line x1="445.20" y1="267.20" x2="445.20" y2="271.70" stroke="#000" stroke-width="1.10" />
<line x1="445.20" y1="166.70" x2="445.20" y2="171.10" stroke="#000" stroke-width="1.10" />
<text transform="translate(444.40 286.50) scale(0.905 1)" font-size="16.00" text-anchor="middle" fill="#000" >-4</text>
<line x1="454.20" y1="267.20" x2="454.20" y2="269.60" stroke="#000" stroke-width="1.10" />
<line x1="454.20" y1="166.70" x2="454.20" y2="169.30" stroke="#000" stroke-width="1.10" />
<line x1="463.20" y1="267.20" x2="463.20" y2="269.60" stroke="#000" stroke-width="1.10" />
<line x1="463.20" y1="166.70" x2="463.20" y2="169.30" stroke="#000" stroke-width="1.10" />
<line x1="472.20" y1="267.20" x2="472.20" y2="269.60" stroke="#000" stroke-width="1.10" />
<line x1="472.20" y1="166.70" x2="472.20" y2="169.30" stroke="#000" stroke-width="1.10" />
<line x1="481.20" y1="267.20" x2="481.20" y2="271.70" stroke="#000" stroke-width="1.10" />
<line x1="481.20" y1="166.70" x2="481.20" y2="171.10" stroke="#000" stroke-width="1.10" />
<text transform="translate(480.40 286.50) scale(0.905 1)" font-size="16.00" text-anchor="middle" fill="#000" >-3</text>
<line x1="490.20" y1="267.20" x2="490.20" y2="269.60" stroke="#000" stroke-width="1.10" />
<line x1="490.20" y1="166.70" x2="490.20" y2="169.30" stroke="#000" stroke-width="1.10" />
<line x1="499.20" y1="267.20" x2="499.20" y2="269.60" stroke="#000" stroke-width="1.10" />
<line x1="499.20" y1="166.70" x2="499.20" y2="169.30" stroke="#000" stroke-width="1.10" />
<line x1="508.20" y1="267.20" x2="508.20" y2="269.60" stroke="#000" stroke-width="1.10" />
<line x1="508.20" y1="166.70" x2="508.20" y2="169.30" stroke="#000" stroke-width="1.10" />
<line x1="517.20" y1="267.20" x2="517.20" y2="271.70" stroke="#000" stroke-width="1.10" />
<line x1="517.20" y1="166.70" x2="517.20" y2="171.10" stroke="#000" stroke-width="1.10" />
<text transform="translate(516.40 286.50) scale(0.905 1)" font-size="16.00" text-anchor="middle" fill="#000" >-2</text>
<line x1="526.20" y1="267.20" x2="526.20" y2="269.60" stroke="#000" stroke-width="1.10" />
<line x1="526.20" y1="166.70" x2="526.20" y2="169.30" stroke="#000" stroke-width="1.10" />
<line x1="535.20" y1="267.20" x2="535.20" y2="269.60" stroke="#000" stroke-width="1.10" />
<line x1="535.20" y1="166.70" x2="535.20" y2="169.30" stroke="#000" stroke-width="1.10" />
<line x1="544.20" y1="267.20" x2="544.20" y2="269.60" stroke="#000" stroke-width="1.10" />
<line x1="544.20" y1="166.70" x2="544.20" y2="169.30" stroke="#000" stroke-width="1.10" />
<line x1="553.20" y1="267.20" x2="553.20" y2="271.70" stroke="#000" stroke-width="1.10" />
<line x1="553.20" y1="166.70" x2="553.20" y2="171.10" stroke="#000" stroke-width="1.10" />
<text transform="translate(552.40 286.50) scale(0.905 1)" font-size="16.00" text-anchor="middle" fill="#000" >-1</text>
<line x1="562.20" y1="267.20" x2="562.20" y2="269.60" stroke="#000" stroke-width="1.10" />
<line x1="562.20" y1="166.70" x2="562.20" y2="169.30" stroke="#000" stroke-width="1.10" />
<line x1="571.20" y1="267.20" x2="571.20" y2="269.60" stroke="#000" stroke-width="1.10" />
<line x1="571.20" y1="166.70" x2="571.20" y2="169.30" stroke="#000" stroke-width="1.10" />
<line x1="580.20" y1="267.20" x2="580.20" y2="269.60" stroke="#000" stroke-width="1.10" />
<line x1="580.20" y1="166.70" x2="580.20" y2="169.30" stroke="#000" stroke-width="1.10" />
<line x1="589.20" y1="267.20" x2="589.20" y2="271.70" stroke="#000" stroke-width="1.10" />
<line x1="589.20" y1="166.70" x2="589.20" y2="171.10" stroke="#000" stroke-width="1.10" />
<text transform="translate(589.20 286.50) scale(0.905 1)" font-size="16.00" text-anchor="middle" fill="#000" >0</text>
<line x1="598.20" y1="267.20" x2="598.20" y2="269.60" stroke="#000" stroke-width="1.10" />
<line x1="598.20" y1="166.70" x2="598.20" y2="169.30" stroke="#000" stroke-width="1.10" />
<line x1="607.20" y1="267.20" x2="607.20" y2="269.60" stroke="#000" stroke-width="1.10" />
<line x1="607.20" y1="166.70" x2="607.20" y2="169.30" stroke="#000" stroke-width="1.10" />
<line x1="616.20" y1="267.20" x2="616.20" y2="269.60" stroke="#000" stroke-width="1.10" />
<line x1="616.20" y1="166.70" x2="616.20" y2="169.30" stroke="#000" stroke-width="1.10" />
<line x1="625.20" y1="267.20" x2="625.20" y2="271.70" stroke="#000" stroke-width="1.10" />
<line x1="625.20" y1="166.70" x2="625.20" y2="171.10" stroke="#000" stroke-width="1.10" />
<text transform="translate(625.20 286.50) scale(0.905 1)" font-size="16.00" text-anchor="middle" fill="#000" >1</text>
<line x1="634.20" y1="267.20" x2="634.20" y2="269.60" stroke="#000" stroke-width="1.10" />
<line x1="634.20" y1="166.70" x2="634.20" y2="169.30" stroke="#000" stroke-width="1.10" />
<line x1="643.20" y1="267.20" x2="643.20" y2="269.60" stroke="#000" stroke-width="1.10" />
<line x1="643.20" y1="166.70" x2="643.20" y2="169.30" stroke="#000" stroke-width="1.10" />
<line x1="652.20" y1="267.20" x2="652.20" y2="269.60" stroke="#000" stroke-width="1.10" />
<line x1="652.20" y1="166.70" x2="652.20" y2="169.30" stroke="#000" stroke-width="1.10" />
<line x1="661.20" y1="267.20" x2="661.20" y2="271.70" stroke="#000" stroke-width="1.10" />
<line x1="661.20" y1="166.70" x2="661.20" y2="171.10" stroke="#000" stroke-width="1.10" />
<text transform="translate(661.20 286.50) scale(0.905 1)" font-size="16.00" text-anchor="middle" fill="#000" >2</text>
<line x1="670.20" y1="267.20" x2="670.20" y2="269.60" stroke="#000" stroke-width="1.10" />
<line x1="670.20" y1="166.70" x2="670.20" y2="169.30" stroke="#000" stroke-width="1.10" />
<line x1="679.20" y1="267.20" x2="679.20" y2="269.60" stroke="#000" stroke-width="1.10" />
<line x1="679.20" y1="166.70" x2="679.20" y2="169.30" stroke="#000" stroke-width="1.10" />
<line x1="688.20" y1="267.20" x2="688.20" y2="269.60" stroke="#000" stroke-width="1.10" />
<line x1="688.20" y1="166.70" x2="688.20" y2="169.30" stroke="#000" stroke-width="1.10" />
<line x1="697.20" y1="267.20" x2="697.20" y2="271.70" stroke="#000" stroke-width="1.10" />
<line x1="697.20" y1="166.70" x2="697.20" y2="171.10" stroke="#000" stroke-width="1.10" />
<text transform="translate(697.20 286.50) scale(0.905 1)" font-size="16.00" text-anchor="middle" fill="#000" >3</text>
<line x1="706.20" y1="267.20" x2="706.20" y2="269.60" stroke="#000" stroke-width="1.10" />
<line x1="706.20" y1="166.70" x2="706.20" y2="169.30" stroke="#000" stroke-width="1.10" />
<line x1="715.20" y1="267.20" x2="715.20" y2="269.60" stroke="#000" stroke-width="1.10" />
<line x1="715.20" y1="166.70" x2="715.20" y2="169.30" stroke="#000" stroke-width="1.10" />
<line x1="724.20" y1="267.20" x2="724.20" y2="269.60" stroke="#000" stroke-width="1.10" />
<line x1="724.20" y1="166.70" x2="724.20" y2="169.30" stroke="#000" stroke-width="1.10" />
<line x1="733.20" y1="267.20" x2="733.20" y2="271.70" stroke="#000" stroke-width="1.10" />
<line x1="733.20" y1="166.70" x2="733.20" y2="171.10" stroke="#000" stroke-width="1.10" />
<text transform="translate(733.20 286.50) scale(0.905 1)" font-size="16.00" text-anchor="middle" fill="#000" >4</text>
<line x1="442.80" y1="266.97" x2="445.20" y2="266.97" stroke="#000" stroke-width="1.10" />
<line x1="442.80" y1="260.29" x2="445.20" y2="260.29" stroke="#000" stroke-width="1.10" />
<line x1="442.80" y1="253.60" x2="445.20" y2="253.60" stroke="#000" stroke-width="1.10" />
<line x1="440.70" y1="246.92" x2="445.20" y2="246.92" stroke="#000" stroke-width="1.10" />
<text transform="translate(437.60 251.22) scale(0.905 1)" font-size="16.00" text-anchor="end" fill="#1111aa" >80</text>
<line x1="442.80" y1="240.23" x2="445.20" y2="240.23" stroke="#000" stroke-width="1.10" />
<line x1="442.80" y1="233.55" x2="445.20" y2="233.55" stroke="#000" stroke-width="1.10" />
<line x1="442.80" y1="226.86" x2="445.20" y2="226.86" stroke="#000" stroke-width="1.10" />
<line x1="440.70" y1="220.18" x2="445.20" y2="220.18" stroke="#000" stroke-width="1.10" />
<text transform="translate(437.60 224.48) scale(0.905 1)" font-size="16.00" text-anchor="end" fill="#1111aa" >100</text>
<line x1="442.80" y1="213.50" x2="445.20" y2="213.50" stroke="#000" stroke-width="1.10" />
<line x1="442.80" y1="206.81" x2="445.20" y2="206.81" stroke="#000" stroke-width="1.10" />
<line x1="442.80" y1="200.12" x2="445.20" y2="200.12" stroke="#000" stroke-width="1.10" />
<line x1="440.70" y1="193.44" x2="445.20" y2="193.44" stroke="#000" stroke-width="1.10" />
<text transform="translate(437.60 197.74) scale(0.905 1)" font-size="16.00" text-anchor="end" fill="#1111aa" >120</text>
<line x1="442.80" y1="186.75" x2="445.20" y2="186.75" stroke="#000" stroke-width="1.10" />
<line x1="442.80" y1="180.07" x2="445.20" y2="180.07" stroke="#000" stroke-width="1.10" />
<line x1="442.80" y1="173.38" x2="445.20" y2="173.38" stroke="#000" stroke-width="1.10" />
<line x1="440.70" y1="166.70" x2="445.20" y2="166.70" stroke="#000" stroke-width="1.10" />
<text transform="translate(437.60 171.00) scale(0.905 1)" font-size="16.00" text-anchor="end" fill="#1111aa" >140</text>
<line x1="733.20" y1="266.92" x2="735.60" y2="266.92" stroke="#000" stroke-width="1.10" />
<line x1="733.20" y1="262.36" x2="735.60" y2="262.36" stroke="#000" stroke-width="1.10" />
<line x1="733.20" y1="257.80" x2="737.70" y2="257.80" stroke="#000" stroke-width="1.10" />
<text transform="translate(740.40 262.10) scale(0.905 1)" font-size="16.00" text-anchor="start" fill="#800080" >4</text>
<line x1="733.20" y1="253.24" x2="735.60" y2="253.24" stroke="#000" stroke-width="1.10" />
<line x1="733.20" y1="248.68" x2="735.60" y2="248.68" stroke="#000" stroke-width="1.10" />
<line x1="733.20" y1="244.12" x2="735.60" y2="244.12" stroke="#000" stroke-width="1.10" />
<line x1="733.20" y1="239.56" x2="737.70" y2="239.56" stroke="#000" stroke-width="1.10" />
<text transform="translate(740.40 243.86) scale(0.905 1)" font-size="16.00" text-anchor="start" fill="#800080" >6</text>
<line x1="733.20" y1="235.00" x2="735.60" y2="235.00" stroke="#000" stroke-width="1.10" />
<line x1="733.20" y1="230.44" x2="735.60" y2="230.44" stroke="#000" stroke-width="1.10" />
<line x1="733.20" y1="225.88" x2="735.60" y2="225.88" stroke="#000" stroke-width="1.10" />
<line x1="733.20" y1="221.32" x2="737.70" y2="221.32" stroke="#000" stroke-width="1.10" />
<text transform="translate(740.40 225.62) scale(0.905 1)" font-size="16.00" text-anchor="start" fill="#800080" >8</text>
<line x1="733.20" y1="216.76" x2="735.60" y2="216.76" stroke="#000" stroke-width="1.10" />
<line x1="733.20" y1="212.20" x2="735.60" y2="212.20" stroke="#000" stroke-width="1.10" />
<line x1="733.20" y1="207.64" x2="735.60" y2="207.64" stroke="#000" stroke-width="1.10" />
<line x1="733.20" y1="203.08" x2="737.70" y2="203.08" stroke="#000" stroke-width="1.10" />
<text transform="translate(740.40 207.38) scale(0.905 1)" font-size="16.00" text-anchor="start" fill="#800080" >10</text>
<line x1="733.20" y1="198.52" x2="735.60" y2="198.52" stroke="#000" stroke-width="1.10" />
<line x1="733.20" y1="193.96" x2="735.60" y2="193.96" stroke="#000" stroke-width="1.10" />
<line x1="733.20" y1="189.40" x2="735.60" y2="189.40" stroke="#000" stroke-width="1.10" />
<line x1="733.20" y1="184.84" x2="737.70" y2="184.84" stroke="#000" stroke-width="1.10" />
<text transform="translate(740.40 189.14) scale(0.905 1)" font-size="16.00" text-anchor="start" fill="#800080" >12</text>
<line x1="733.20" y1="180.28" x2="735.60" y2="180.28" stroke="#000" stroke-width="1.10" />
<line x1="733.20" y1="175.72" x2="735.60" y2="175.72" stroke="#000" stroke-width="1.10" />
<line x1="733.20" y1="171.16" x2="735.60" y2="171.16" stroke="#000" stroke-width="1.10" />
<line x1="733.20" y1="166.60" x2="737.70" y2="166.60" stroke="#000" stroke-width="1.10" />
<text transform="translate(740.40 170.90) scale(0.905 1)" font-size="16.00" text-anchor="start" fill="#800080" >14</text>
<clipPath id="cc"><rect x="444.60" y="166.70" width="289.20" height="100.50"/></clipPath>
<g clip-path="url(#cc)">
<polyline fill="none" stroke="#1111aa" stroke-width="2.30" stroke-dasharray="3.00 2.00" points="445.20,219.66 445.92,219.54 446.64,219.40 447.36,219.26 448.08,219.11 448.80,218.95 449.52,218.78 450.24,218.60 450.96,218.42 451.68,218.23 452.40,218.03 453.12,217.83 453.84,217.62 454.56,217.41 455.28,217.19 456.00,216.96 456.72,216.73 457.44,216.50 458.16,216.26 458.88,216.02 459.60,215.78 460.32,215.54 461.04,215.30 461.76,215.06 462.48,214.82 463.20,214.58 463.92,214.34 464.64,214.11 465.36,213.89 466.08,213.67 466.80,213.45 467.52,213.25 468.24,213.05 468.96,212.87 469.68,212.69 470.40,212.53 471.12,212.38 471.84,212.24 472.56,212.12 473.28,212.02 474.00,211.93 474.72,211.87 475.44,211.82 476.16,211.79 476.88,211.78 477.60,211.80 478.32,211.83 479.04,211.90 479.76,211.98 480.48,212.09 481.20,212.23 481.92,212.39 482.64,212.58 483.36,212.80 484.08,213.04 484.80,213.31 485.52,213.61 486.24,213.94 486.96,214.29 487.68,214.68 488.40,215.09 489.12,215.52 489.84,215.98 490.56,216.47 491.28,216.98 492.00,217.52 492.72,218.08 493.44,218.67 494.16,219.27 494.88,219.90 495.60,220.54 496.32,221.20 497.04,221.88 497.76,222.57 498.48,223.28 499.20,223.99 499.92,224.72 500.64,225.45 501.36,226.19 502.08,226.93 502.80,227.68 503.52,228.42 504.24,229.16 504.96,229.90 505.68,230.63 506.40,231.35 507.12,232.05 507.84,232.74 508.56,233.42 509.28,234.08 510.00,234.71 510.72,235.33 511.44,235.91 512.16,236.47 512.88,237.00 513.60,237.49 514.32,237.95 515.04,238.37 515.76,238.76 516.48,239.10 517.20,239.40 517.92,239.65 518.64,239.86 519.36,240.02 520.08,240.13 520.80,240.18 521.52,240.19 522.24,240.13 522.96,240.03 523.68,239.86 524.40,239.64 525.12,239.36 525.84,239.02 526.56,238.62 527.28,238.15 528.00,237.63 528.72,237.05 529.44,236.40 530.16,235.70 530.88,234.93 531.60,234.11 532.32,233.23 533.04,232.28 533.76,231.29 534.48,230.23 535.20,229.12 535.92,227.96 536.64,226.75 537.36,225.50 538.08,224.19 538.80,222.85 539.52,221.46 540.24,220.03 540.96,218.57 541.68,217.08 542.40,215.57 543.12,214.02 543.84,212.46 544.56,210.89 545.28,209.30 546.00,207.70 546.72,206.10 547.44,204.51 548.16,202.91 548.88,201.34 549.60,199.77 550.32,198.23 551.04,196.71 551.76,195.22 552.48,193.77 553.20,192.36 553.92,190.99 554.64,189.68 555.36,188.42 556.08,187.21 556.80,186.07 557.52,185.00 558.24,184.00 558.96,183.08 559.68,182.23 560.40,181.47 561.12,180.80 561.84,180.21 562.56,179.71 563.28,179.31 564.00,179.00 564.72,178.80 565.44,178.69 566.16,178.68 566.88,178.77 567.60,178.96 568.32,179.25 569.04,179.64 569.76,180.13 570.48,180.72 571.20,181.41 571.92,182.19 572.64,183.07 573.36,184.04 574.08,185.09 574.80,186.24 575.52,187.46 576.24,188.76 576.96,190.14 577.68,191.58 578.40,193.09 579.12,194.67 579.84,196.30 580.56,197.98 581.28,199.72 582.00,201.49 582.72,203.30 583.44,205.15 584.16,207.02 584.88,208.91 585.60,210.83 586.32,212.75 587.04,214.68 587.76,216.61 588.48,218.54 589.20,220.46 589.92,222.36 590.64,224.25 591.36,226.12 592.08,227.96 592.80,229.76 593.52,231.53 594.24,233.27 594.96,234.95 595.68,236.59 596.40,238.18 597.12,239.72 597.84,241.20 598.56,242.62 599.28,243.97 600.00,245.26 600.72,246.48 601.44,247.63 602.16,248.71 602.88,249.71 603.60,250.64 604.32,251.48 605.04,252.25 605.76,252.94 606.48,253.55 607.20,254.08 607.92,254.52 608.64,254.88 609.36,255.16 610.08,255.36 610.80,255.47 611.52,255.50 612.24,255.44 612.96,255.31 613.68,255.09 614.40,254.79 615.12,254.42 615.84,253.97 616.56,253.44 617.28,252.84 618.00,252.16 618.72,251.42 619.44,250.60 620.16,249.72 620.88,248.78 621.60,247.78 622.32,246.72 623.04,245.60 623.76,244.43 624.48,243.22 625.20,241.96 625.92,240.66 626.64,239.32 627.36,237.94 628.08,236.53 628.80,235.10 629.52,233.65 630.24,232.17 630.96,230.69 631.68,229.19 632.40,227.68 633.12,226.17 633.84,224.66 634.56,223.16 635.28,221.67 636.00,220.19 636.72,218.73 637.44,217.29 638.16,215.87 638.88,214.48 639.60,213.13 640.32,211.80 641.04,210.52 641.76,209.28 642.48,208.08 643.20,206.93 643.92,205.83 644.64,204.78 645.36,203.78 646.08,202.84 646.80,201.95 647.52,201.13 648.24,200.36 648.96,199.65 649.68,199.01 650.40,198.43 651.12,197.91 651.84,197.45 652.56,197.06 653.28,196.73 654.00,196.46 654.72,196.26 655.44,196.11 656.16,196.02 656.88,196.00 657.60,196.03 658.32,196.11 659.04,196.25 659.76,196.44 660.48,196.68 661.20,196.97 661.92,197.31 662.64,197.69 663.36,198.11 664.08,198.58 664.80,199.08 665.52,199.61 666.24,200.18 666.96,200.77 667.68,201.40 668.40,202.04 669.12,202.71 669.84,203.40 670.56,204.11 671.28,204.83 672.00,205.57 672.72,206.31 673.44,207.06 674.16,207.82 674.88,208.58 675.60,209.34 676.32,210.10 677.04,210.86 677.76,211.61 678.48,212.35 679.20,213.09 679.92,213.81 680.64,214.53 681.36,215.23 682.08,215.91 682.80,216.58 683.52,217.23 684.24,217.87 684.96,218.48 685.68,219.07 686.40,219.64 687.12,220.19 687.84,220.72 688.56,221.22 689.28,221.70 690.00,222.16 690.72,222.59 691.44,222.99 692.16,223.37 692.88,223.73 693.60,224.06 694.32,224.36 695.04,224.64 695.76,224.90 696.48,225.13 697.20,225.34 697.92,225.52 698.64,225.68 699.36,225.81 700.08,225.93 700.80,226.02 701.52,226.09 702.24,226.14 702.96,226.17 703.68,226.18 704.40,226.18 705.12,226.15 705.84,226.11 706.56,226.05 707.28,225.98 708.00,225.89 708.72,225.78 709.44,225.67 710.16,225.54 710.88,225.40 711.60,225.26 712.32,225.10 713.04,224.93 713.76,224.76 714.48,224.57 715.20,224.39 715.92,224.19 716.64,223.99 717.36,223.79 718.08,223.59 718.80,223.38 719.52,223.17 720.24,222.96 720.96,222.75 721.68,222.54 722.40,222.33 723.12,222.12 723.84,221.92 724.56,221.72 725.28,221.51 726.00,221.32 726.72,221.12 727.44,220.93 728.16,220.75 728.88,220.57 729.60,220.40 730.32,220.23 731.04,220.06 731.76,219.90 732.48,219.75 733.20,219.61"/>
<g fill="none" stroke="#fa0f85" stroke-width="1.30">
<circle cx="445.20" cy="218.26" r="2.60"/>
<circle cx="447.87" cy="217.42" r="2.60"/>
<circle cx="450.53" cy="216.66" r="2.60"/>
<circle cx="453.20" cy="216.05" r="2.60"/>
<circle cx="455.87" cy="215.64" r="2.60"/>
<circle cx="458.53" cy="215.47" r="2.60"/>
<circle cx="461.20" cy="215.60" r="2.60"/>
<circle cx="463.87" cy="216.07" r="2.60"/>
<circle cx="466.53" cy="216.91" r="2.60"/>
<circle cx="469.20" cy="218.13" r="2.60"/>
<circle cx="471.87" cy="219.73" r="2.60"/>
<circle cx="474.53" cy="221.67" r="2.60"/>
<circle cx="477.20" cy="223.90" r="2.60"/>
<circle cx="479.87" cy="226.33" r="2.60"/>
<circle cx="482.53" cy="228.88" r="2.60"/>
<circle cx="485.20" cy="231.44" r="2.60"/>
<circle cx="487.87" cy="233.91" r="2.60"/>
<circle cx="490.53" cy="236.19" r="2.60"/>
<circle cx="493.20" cy="238.20" r="2.60"/>
<circle cx="495.87" cy="239.85" r="2.60"/>
<circle cx="498.53" cy="241.08" r="2.60"/>
<circle cx="501.20" cy="241.83" r="2.60"/>
<circle cx="503.87" cy="242.03" r="2.60"/>
<circle cx="506.53" cy="241.64" r="2.60"/>
<circle cx="509.20" cy="240.62" r="2.60"/>
<circle cx="511.87" cy="238.92" r="2.60"/>
<circle cx="514.53" cy="236.50" r="2.60"/>
<circle cx="517.20" cy="233.31" r="2.60"/>
<circle cx="519.87" cy="229.32" r="2.60"/>
<circle cx="522.53" cy="224.49" r="2.60"/>
<circle cx="525.20" cy="218.87" r="2.60"/>
<circle cx="527.87" cy="212.69" r="2.60"/>
<circle cx="530.53" cy="206.22" r="2.60"/>
<circle cx="533.20" cy="199.70" r="2.60"/>
<circle cx="535.87" cy="193.37" r="2.60"/>
<circle cx="538.53" cy="187.52" r="2.60"/>
<circle cx="541.20" cy="182.50" r="2.60"/>
<circle cx="543.87" cy="178.67" r="2.60"/>
<circle cx="546.53" cy="176.34" r="2.60"/>
<circle cx="549.20" cy="175.75" r="2.60"/>
<circle cx="551.87" cy="177.02" r="2.60"/>
<circle cx="554.53" cy="180.18" r="2.60"/>
<circle cx="557.20" cy="185.07" r="2.60"/>
<circle cx="559.87" cy="191.46" r="2.60"/>
<circle cx="562.53" cy="199.00" r="2.60"/>
<circle cx="565.20" cy="207.33" r="2.60"/>
<circle cx="567.87" cy="216.12" r="2.60"/>
<circle cx="570.53" cy="224.86" r="2.60"/>
<circle cx="573.20" cy="232.81" r="2.60"/>
<circle cx="575.87" cy="239.66" r="2.60"/>
<circle cx="578.53" cy="245.35" r="2.60"/>
<circle cx="581.20" cy="249.83" r="2.60"/>
<circle cx="583.87" cy="253.14" r="2.60"/>
<circle cx="586.53" cy="255.32" r="2.60"/>
<circle cx="589.20" cy="256.48" r="2.60"/>
<circle cx="591.87" cy="256.71" r="2.60"/>
<circle cx="594.53" cy="256.08" r="2.60"/>
<circle cx="597.20" cy="254.62" r="2.60"/>
<circle cx="599.87" cy="252.33" r="2.60"/>
<circle cx="602.53" cy="249.16" r="2.60"/>
<circle cx="605.20" cy="245.11" r="2.60"/>
<circle cx="607.87" cy="240.13" r="2.60"/>
<circle cx="610.53" cy="234.27" r="2.60"/>
<circle cx="613.20" cy="227.55" r="2.60"/>
<circle cx="615.87" cy="220.15" r="2.60"/>
<circle cx="618.53" cy="212.52" r="2.60"/>
<circle cx="621.20" cy="205.24" r="2.60"/>
<circle cx="623.87" cy="198.61" r="2.60"/>
<circle cx="626.53" cy="192.94" r="2.60"/>
<circle cx="629.20" cy="188.49" r="2.60"/>
<circle cx="631.87" cy="185.52" r="2.60"/>
<circle cx="634.53" cy="184.14" r="2.60"/>
<circle cx="637.20" cy="184.39" r="2.60"/>
<circle cx="639.87" cy="186.17" r="2.60"/>
<circle cx="642.53" cy="189.30" r="2.60"/>
<circle cx="645.20" cy="193.50" r="2.60"/>
<circle cx="647.87" cy="198.49" r="2.60"/>
<circle cx="650.53" cy="203.96" r="2.60"/>
<circle cx="653.20" cy="209.62" r="2.60"/>
<circle cx="655.87" cy="215.24" r="2.60"/>
<circle cx="658.53" cy="220.55" r="2.60"/>
<circle cx="661.20" cy="225.29" r="2.60"/>
<circle cx="663.87" cy="229.28" r="2.60"/>
<circle cx="666.53" cy="232.48" r="2.60"/>
<circle cx="669.20" cy="234.92" r="2.60"/>
<circle cx="671.87" cy="236.63" r="2.60"/>
<circle cx="674.53" cy="237.66" r="2.60"/>
<circle cx="677.20" cy="238.06" r="2.60"/>
<circle cx="679.87" cy="237.90" r="2.60"/>
<circle cx="682.53" cy="237.24" r="2.60"/>
<circle cx="685.20" cy="236.15" r="2.60"/>
<circle cx="687.87" cy="234.71" r="2.60"/>
<circle cx="690.53" cy="232.99" r="2.60"/>
<circle cx="693.20" cy="231.08" r="2.60"/>
<circle cx="695.87" cy="229.04" r="2.60"/>
<circle cx="698.53" cy="226.98" r="2.60"/>
<circle cx="701.20" cy="224.98" r="2.60"/>
<circle cx="703.87" cy="223.12" r="2.60"/>
<circle cx="706.53" cy="221.48" r="2.60"/>
<circle cx="709.20" cy="220.10" r="2.60"/>
<circle cx="711.87" cy="219.03" r="2.60"/>
<circle cx="714.53" cy="218.28" r="2.60"/>
<circle cx="717.20" cy="217.83" r="2.60"/>
<circle cx="719.87" cy="217.68" r="2.60"/>
<circle cx="722.53" cy="217.79" r="2.60"/>
<circle cx="725.20" cy="218.12" r="2.60"/>
<circle cx="727.87" cy="218.61" r="2.60"/>
<circle cx="730.53" cy="219.23" r="2.60"/>
<circle cx="733.20" cy="219.92" r="2.60"/>
</g>
<polyline fill="none" stroke="#800080" stroke-width="2.60" points="445.20,217.18 445.92,216.96 446.64,216.75 447.36,216.54 448.08,216.33 448.80,216.13 449.52,215.94 450.24,215.75 450.96,215.58 451.68,215.41 452.40,215.26 453.12,215.12 453.84,214.99 454.56,214.88 455.28,214.78 456.00,214.70 456.72,214.63 457.44,214.59 458.16,214.56 458.88,214.55 459.60,214.57 460.32,214.60 461.04,214.66 461.76,214.74 462.48,214.85 463.20,214.98 463.92,215.14 464.64,215.32 465.36,215.52 466.08,215.75 466.80,216.01 467.52,216.30 468.24,216.61 468.96,216.94 469.68,217.30 470.40,217.69 471.12,218.10 471.84,218.54 472.56,219.00 473.28,219.48 474.00,219.99 474.72,220.51 475.44,221.06 476.16,221.62 476.88,222.21 477.60,222.80 478.32,223.42 479.04,224.04 479.76,224.68 480.48,225.32 481.20,225.98 481.92,226.64 482.64,227.30 483.36,227.97 484.08,228.63 484.80,229.30 485.52,229.96 486.24,230.62 486.96,231.27 487.68,231.90 488.40,232.53 489.12,233.15 489.84,233.74 490.56,234.33 491.28,234.89 492.00,235.43 492.72,235.95 493.44,236.45 494.16,236.92 494.88,237.36 495.60,237.77 496.32,238.16 497.04,238.51 497.76,238.83 498.48,239.12 499.20,239.37 499.92,239.58 500.64,239.76 501.36,239.90 502.08,240.00 502.80,240.06 503.52,240.08 504.24,240.05 504.96,239.99 505.68,239.88 506.40,239.72 507.12,239.52 507.84,239.27 508.56,238.98 509.28,238.63 510.00,238.24 510.72,237.80 511.44,237.31 512.16,236.77 512.88,236.17 513.60,235.53 514.32,234.83 515.04,234.07 515.76,233.27 516.48,232.41 517.20,231.49 517.92,230.52 518.64,229.50 519.36,228.42 520.08,227.29 520.80,226.10 521.52,224.86 522.24,223.57 522.96,222.23 523.68,220.84 524.40,219.40 525.12,217.92 525.84,216.40 526.56,214.84 527.28,213.24 528.00,211.61 528.72,209.95 529.44,208.26 530.16,206.56 530.88,204.83 531.60,203.10 532.32,201.36 533.04,199.63 533.76,197.90 534.48,196.19 535.20,194.49 535.92,192.82 536.64,191.19 537.36,189.60 538.08,188.05 538.80,186.57 539.52,185.14 540.24,183.78 540.96,182.51 541.68,181.31 542.40,180.21 543.12,179.20 543.84,178.30 544.56,177.51 545.28,176.83 546.00,176.27 546.72,175.84 547.44,175.53 548.16,175.36 548.88,175.32 549.60,175.42 550.32,175.65 551.04,176.02 551.76,176.53 552.48,177.18 553.20,177.97 553.92,178.89 554.64,179.94 555.36,181.11 556.08,182.41 556.80,183.83 557.52,185.36 558.24,187.00 558.96,188.73 559.68,190.56 560.40,192.47 561.12,194.46 561.84,196.52 562.56,198.63 563.28,200.80 564.00,203.00 564.72,205.24 565.44,207.50 566.16,209.78 566.88,212.06 567.60,214.33 568.32,216.59 569.04,218.84 569.76,221.05 570.48,223.23 571.20,225.36 571.92,227.44 572.64,229.47 573.36,231.44 574.08,233.33 574.80,235.16 575.52,236.92 576.24,238.59 576.96,240.18 577.68,241.70 578.40,243.12 579.12,244.46 579.84,245.72 580.56,246.88 581.28,247.96 582.00,248.96 582.72,249.87 583.44,250.69 584.16,251.44 584.88,252.10 585.60,252.68 586.32,253.19 587.04,253.62 587.76,253.98 588.48,254.27 589.20,254.49 589.92,254.64 590.64,254.72 591.36,254.74 592.08,254.70 592.80,254.59 593.52,254.42 594.24,254.20 594.96,253.91 595.68,253.56 596.40,253.15 597.12,252.68 597.84,252.15 598.56,251.56 599.28,250.91 600.00,250.20 600.72,249.42 601.44,248.58 602.16,247.67 602.88,246.70 603.60,245.67 604.32,244.57 605.04,243.40 605.76,242.17 606.48,240.87 607.20,239.51 607.92,238.09 608.64,236.60 609.36,235.06 610.08,233.46 610.80,231.80 611.52,230.09 612.24,228.34 612.96,226.54 613.68,224.71 614.40,222.84 615.12,220.94 615.84,219.02 616.56,217.09 617.28,215.14 618.00,213.19 618.72,211.25 619.44,209.32 620.16,207.41 620.88,205.53 621.60,203.68 622.32,201.87 623.04,200.11 623.76,198.41 624.48,196.77 625.20,195.21 625.92,193.72 626.64,192.31 627.36,191.00 628.08,189.78 628.80,188.66 629.52,187.65 630.24,186.74 630.96,185.95 631.68,185.27 632.40,184.70 633.12,184.26 633.84,183.93 634.56,183.73 635.28,183.64 636.00,183.67 636.72,183.82 637.44,184.08 638.16,184.45 638.88,184.93 639.60,185.52 640.32,186.20 641.04,186.98 641.76,187.86 642.48,188.81 643.20,189.85 643.92,190.95 644.64,192.13 645.36,193.36 646.08,194.65 646.80,195.99 647.52,197.37 648.24,198.78 648.96,200.22 649.68,201.69 650.40,203.17 651.12,204.66 651.84,206.15 652.56,207.65 653.28,209.13 654.00,210.60 654.72,212.06 655.44,213.50 656.16,214.91 656.88,216.29 657.60,217.64 658.32,218.95 659.04,220.22 659.76,221.45 660.48,222.64 661.20,223.78 661.92,224.88 662.64,225.92 663.36,226.92 664.08,227.86 664.80,228.75 665.52,229.59 666.24,230.38 666.96,231.11 667.68,231.79 668.40,232.42 669.12,233.00 669.84,233.53 670.56,234.00 671.28,234.43 672.00,234.80 672.72,235.13 673.44,235.41 674.16,235.64 674.88,235.83 675.60,235.98 676.32,236.08 677.04,236.14 677.76,236.15 678.48,236.13 679.20,236.07 679.92,235.98 680.64,235.85 681.36,235.68 682.08,235.48 682.80,235.25 683.52,234.99 684.24,234.70 684.96,234.38 685.68,234.04 686.40,233.67 687.12,233.28 687.84,232.87 688.56,232.44 689.28,232.00 690.00,231.53 690.72,231.05 691.44,230.56 692.16,230.06 692.88,229.55 693.60,229.03 694.32,228.50 695.04,227.97 695.76,227.44 696.48,226.91 697.20,226.37 697.92,225.84 698.64,225.31 699.36,224.79 700.08,224.28 700.80,223.77 701.52,223.28 702.24,222.79 702.96,222.32 703.68,221.86 704.40,221.42 705.12,220.99 705.84,220.58 706.56,220.18 707.28,219.81 708.00,219.46 708.72,219.12 709.44,218.81 710.16,218.51 710.88,218.24 711.60,217.99 712.32,217.76 713.04,217.56 713.76,217.37 714.48,217.21 715.20,217.06 715.92,216.94 716.64,216.84 717.36,216.76 718.08,216.71 718.80,216.66 719.52,216.64 720.24,216.64 720.96,216.65 721.68,216.68 722.40,216.73 723.12,216.79 723.84,216.87 724.56,216.96 725.28,217.06 726.00,217.17 726.72,217.29 727.44,217.43 728.16,217.57 728.88,217.72 729.60,217.88 730.32,218.04 731.04,218.21 731.76,218.38 732.48,218.55 733.20,218.73"/>
</g>
<text transform="translate(449.70 197.40) scale(1.050 1)" font-size="29.70" text-anchor="start" fill="#000" >(c)</text>
<text x="500.30" y="308.70" font-size="19.00">XUV-NIR delay t<tspan font-size="11.20" dy="5.60">0</tspan><tspan dy="-5.60"> (fs)</tspan></text>
<text transform="translate(402.00 272.60) rotate(-90) scale(0.985 1)" font-size="19.00" fill="#1111aa">energy ε<tspan font-size="12.80" dy="6.60">S</tspan><tspan dy="-6.60"> (eV)</tspan></text>
<text transform="translate(770.10 151.90) rotate(90) scale(0.975 1)" font-size="19.00" fill="#800080">breadth δ<tspan font-size="12.80" dy="6.60">S</tspan><tspan dy="-6.60"> (eV)</tspan></text>
</svg></body></html>
